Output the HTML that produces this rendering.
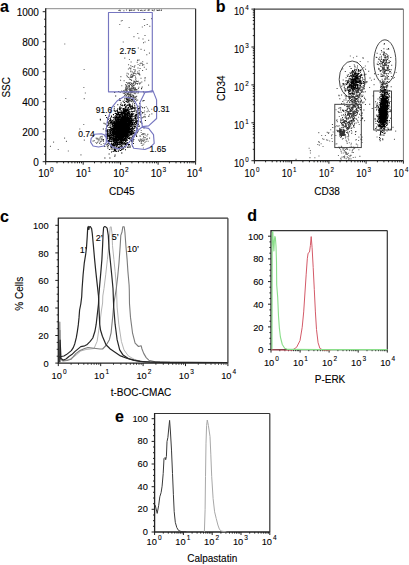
<!DOCTYPE html>
<html><head><meta charset="utf-8"><style>
html,body{margin:0;padding:0;background:#fff;}
svg{display:block;font-family:"Liberation Sans", sans-serif;}
text{fill:#000;stroke:#000;stroke-width:0.1px;}
</style></head><body>
<svg width="409" height="565" viewBox="0 0 409 565">
<rect width="409" height="565" fill="#fff"/>
<path d="M119.8 130.9h1.0v1.0h-1.0zM122.4 120.7h1.0v1.0h-1.0zM121.9 119.5h1.0v1.0h-1.0zM116.7 139.6h1.0v1.0h-1.0zM120.5 122.5h1.0v1.0h-1.0zM122.0 132.4h1.0v1.0h-1.0zM124.4 121.1h1.0v1.0h-1.0zM118.4 134.1h1.0v1.0h-1.0zM115.8 122.1h1.0v1.0h-1.0zM115.9 114.3h1.0v1.0h-1.0zM112.7 123.0h1.0v1.0h-1.0zM113.8 128.2h1.0v1.0h-1.0zM122.2 127.3h1.0v1.0h-1.0zM110.4 119.2h1.0v1.0h-1.0zM120.2 129.3h1.0v1.0h-1.0zM115.0 121.6h1.0v1.0h-1.0zM118.7 120.0h1.0v1.0h-1.0zM128.6 124.0h1.0v1.0h-1.0zM117.7 135.7h1.0v1.0h-1.0zM118.4 126.5h1.0v1.0h-1.0zM121.1 129.2h1.0v1.0h-1.0zM114.6 126.7h1.0v1.0h-1.0zM132.5 118.5h1.0v1.0h-1.0zM124.5 131.1h1.0v1.0h-1.0zM111.1 143.6h1.0v1.0h-1.0zM128.4 120.2h1.0v1.0h-1.0zM119.3 133.4h1.0v1.0h-1.0zM117.6 133.7h1.0v1.0h-1.0zM118.3 133.8h1.0v1.0h-1.0zM130.0 125.8h1.0v1.0h-1.0zM123.3 125.1h1.0v1.0h-1.0zM125.3 119.1h1.0v1.0h-1.0zM118.7 125.8h1.0v1.0h-1.0zM121.4 139.6h1.0v1.0h-1.0zM117.0 119.4h1.0v1.0h-1.0zM130.5 113.5h1.0v1.0h-1.0zM118.9 126.8h1.0v1.0h-1.0zM124.6 136.6h1.0v1.0h-1.0zM120.4 124.9h1.0v1.0h-1.0zM114.6 140.4h1.0v1.0h-1.0zM119.7 125.2h1.0v1.0h-1.0zM122.9 128.2h1.0v1.0h-1.0zM123.5 119.0h1.0v1.0h-1.0zM122.2 124.9h1.0v1.0h-1.0zM124.3 136.1h1.0v1.0h-1.0zM118.5 133.9h1.0v1.0h-1.0zM115.7 136.4h1.0v1.0h-1.0zM118.9 133.2h1.0v1.0h-1.0zM113.4 128.8h1.0v1.0h-1.0zM119.4 108.6h1.0v1.0h-1.0zM122.3 120.6h1.0v1.0h-1.0zM114.2 147.1h1.0v1.0h-1.0zM118.8 121.8h1.0v1.0h-1.0zM120.2 132.9h1.0v1.0h-1.0zM120.6 126.5h1.0v1.0h-1.0zM122.5 134.1h1.0v1.0h-1.0zM116.1 125.8h1.0v1.0h-1.0zM124.4 120.0h1.0v1.0h-1.0zM124.9 122.0h1.0v1.0h-1.0zM124.9 132.0h1.0v1.0h-1.0zM123.2 123.9h1.0v1.0h-1.0zM126.8 112.0h1.0v1.0h-1.0zM114.1 129.3h1.0v1.0h-1.0zM107.7 131.3h1.0v1.0h-1.0zM109.9 131.3h1.0v1.0h-1.0zM114.2 133.2h1.0v1.0h-1.0zM126.5 116.2h1.0v1.0h-1.0zM122.1 142.7h1.0v1.0h-1.0zM121.4 126.1h1.0v1.0h-1.0zM123.2 120.2h1.0v1.0h-1.0zM127.9 126.2h1.0v1.0h-1.0zM123.2 121.9h1.0v1.0h-1.0zM122.0 116.9h1.0v1.0h-1.0zM127.4 129.7h1.0v1.0h-1.0zM125.4 130.5h1.0v1.0h-1.0zM118.5 124.5h1.0v1.0h-1.0zM118.1 127.5h1.0v1.0h-1.0zM120.0 125.3h1.0v1.0h-1.0zM116.8 119.2h1.0v1.0h-1.0zM131.0 126.2h1.0v1.0h-1.0zM114.6 129.2h1.0v1.0h-1.0zM132.4 119.4h1.0v1.0h-1.0zM121.9 122.9h1.0v1.0h-1.0zM109.9 131.1h1.0v1.0h-1.0zM120.5 129.0h1.0v1.0h-1.0zM115.7 130.7h1.0v1.0h-1.0zM118.7 126.3h1.0v1.0h-1.0zM119.5 116.4h1.0v1.0h-1.0zM128.9 127.0h1.0v1.0h-1.0zM122.3 128.8h1.0v1.0h-1.0zM120.3 123.5h1.0v1.0h-1.0zM124.8 127.3h1.0v1.0h-1.0zM120.0 128.4h1.0v1.0h-1.0zM124.2 136.3h1.0v1.0h-1.0zM124.5 124.6h1.0v1.0h-1.0zM111.0 133.6h1.0v1.0h-1.0zM125.9 129.2h1.0v1.0h-1.0zM120.8 135.9h1.0v1.0h-1.0zM121.8 137.6h1.0v1.0h-1.0zM113.6 140.0h1.0v1.0h-1.0zM111.9 133.1h1.0v1.0h-1.0zM120.3 136.6h1.0v1.0h-1.0zM125.0 144.3h1.0v1.0h-1.0zM120.8 112.5h1.0v1.0h-1.0zM128.1 121.8h1.0v1.0h-1.0zM118.0 135.3h1.0v1.0h-1.0zM119.8 108.1h1.0v1.0h-1.0zM121.9 129.4h1.0v1.0h-1.0zM119.5 128.3h1.0v1.0h-1.0zM121.6 114.5h1.0v1.0h-1.0zM123.2 120.2h1.0v1.0h-1.0zM111.2 129.4h1.0v1.0h-1.0zM119.2 131.7h1.0v1.0h-1.0zM118.2 121.2h1.0v1.0h-1.0zM118.9 119.3h1.0v1.0h-1.0zM124.3 122.5h1.0v1.0h-1.0zM121.4 132.0h1.0v1.0h-1.0zM135.2 121.1h1.0v1.0h-1.0zM125.4 129.5h1.0v1.0h-1.0zM125.5 116.6h1.0v1.0h-1.0zM116.1 133.7h1.0v1.0h-1.0zM120.1 129.0h1.0v1.0h-1.0zM115.6 137.4h1.0v1.0h-1.0zM128.0 110.5h1.0v1.0h-1.0zM124.0 111.1h1.0v1.0h-1.0zM106.9 117.8h1.0v1.0h-1.0zM127.1 131.5h1.0v1.0h-1.0zM118.2 118.5h1.0v1.0h-1.0zM125.7 132.0h1.0v1.0h-1.0zM121.2 128.2h1.0v1.0h-1.0zM118.3 135.1h1.0v1.0h-1.0zM122.8 131.3h1.0v1.0h-1.0zM114.1 130.6h1.0v1.0h-1.0zM113.9 136.1h1.0v1.0h-1.0zM115.1 124.9h1.0v1.0h-1.0zM125.1 117.7h1.0v1.0h-1.0zM124.3 143.8h1.0v1.0h-1.0zM116.0 133.9h1.0v1.0h-1.0zM131.2 107.9h1.0v1.0h-1.0zM122.2 128.5h1.0v1.0h-1.0zM124.8 119.9h1.0v1.0h-1.0zM120.1 126.5h1.0v1.0h-1.0zM125.4 133.5h1.0v1.0h-1.0zM115.7 141.0h1.0v1.0h-1.0zM119.4 124.2h1.0v1.0h-1.0zM106.9 137.8h1.0v1.0h-1.0zM122.4 137.9h1.0v1.0h-1.0zM123.7 130.7h1.0v1.0h-1.0zM122.7 126.9h1.0v1.0h-1.0zM119.6 128.5h1.0v1.0h-1.0zM126.3 136.0h1.0v1.0h-1.0zM122.4 123.7h1.0v1.0h-1.0zM112.5 140.3h1.0v1.0h-1.0zM123.0 130.0h1.0v1.0h-1.0zM122.8 118.8h1.0v1.0h-1.0zM117.6 135.5h1.0v1.0h-1.0zM119.7 125.9h1.0v1.0h-1.0zM119.4 129.0h1.0v1.0h-1.0zM113.9 123.5h1.0v1.0h-1.0zM113.8 134.1h1.0v1.0h-1.0zM115.2 131.7h1.0v1.0h-1.0zM129.2 128.9h1.0v1.0h-1.0zM117.3 128.9h1.0v1.0h-1.0zM124.1 120.4h1.0v1.0h-1.0zM116.4 145.8h1.0v1.0h-1.0zM120.2 126.3h1.0v1.0h-1.0zM114.7 129.1h1.0v1.0h-1.0zM118.4 117.0h1.0v1.0h-1.0zM130.0 123.6h1.0v1.0h-1.0zM121.0 143.0h1.0v1.0h-1.0zM120.2 133.5h1.0v1.0h-1.0zM130.9 130.7h1.0v1.0h-1.0zM122.4 116.3h1.0v1.0h-1.0zM116.1 140.6h1.0v1.0h-1.0zM128.5 122.7h1.0v1.0h-1.0zM118.3 122.7h1.0v1.0h-1.0zM122.9 127.4h1.0v1.0h-1.0zM120.9 131.3h1.0v1.0h-1.0zM119.5 127.6h1.0v1.0h-1.0zM122.1 128.2h1.0v1.0h-1.0zM117.1 144.7h1.0v1.0h-1.0zM123.5 130.1h1.0v1.0h-1.0zM111.4 128.4h1.0v1.0h-1.0zM116.1 113.2h1.0v1.0h-1.0zM122.6 135.9h1.0v1.0h-1.0zM125.7 114.3h1.0v1.0h-1.0zM121.2 122.2h1.0v1.0h-1.0zM116.4 148.2h1.0v1.0h-1.0zM124.4 122.6h1.0v1.0h-1.0zM115.3 125.8h1.0v1.0h-1.0zM123.7 118.8h1.0v1.0h-1.0zM125.2 119.3h1.0v1.0h-1.0zM122.7 139.3h1.0v1.0h-1.0zM127.6 126.7h1.0v1.0h-1.0zM123.7 128.4h1.0v1.0h-1.0zM120.0 125.0h1.0v1.0h-1.0zM119.3 114.2h1.0v1.0h-1.0zM125.3 128.5h1.0v1.0h-1.0zM118.5 137.1h1.0v1.0h-1.0zM115.0 118.7h1.0v1.0h-1.0zM120.4 132.0h1.0v1.0h-1.0zM115.6 136.2h1.0v1.0h-1.0zM125.8 119.0h1.0v1.0h-1.0zM113.7 133.3h1.0v1.0h-1.0zM129.3 113.9h1.0v1.0h-1.0zM125.3 136.0h1.0v1.0h-1.0zM128.5 128.0h1.0v1.0h-1.0zM123.1 118.7h1.0v1.0h-1.0zM133.6 132.0h1.0v1.0h-1.0zM130.6 126.3h1.0v1.0h-1.0zM127.1 115.2h1.0v1.0h-1.0zM115.7 135.8h1.0v1.0h-1.0zM111.2 134.8h1.0v1.0h-1.0zM125.9 120.6h1.0v1.0h-1.0zM119.9 123.8h1.0v1.0h-1.0zM122.3 124.0h1.0v1.0h-1.0zM117.8 124.4h1.0v1.0h-1.0zM120.1 116.0h1.0v1.0h-1.0zM117.7 135.6h1.0v1.0h-1.0zM113.4 125.5h1.0v1.0h-1.0zM120.9 119.3h1.0v1.0h-1.0zM126.6 125.9h1.0v1.0h-1.0zM130.6 125.1h1.0v1.0h-1.0zM123.4 127.4h1.0v1.0h-1.0zM115.2 131.8h1.0v1.0h-1.0zM118.1 133.1h1.0v1.0h-1.0zM124.2 119.5h1.0v1.0h-1.0zM120.1 128.7h1.0v1.0h-1.0zM128.4 123.0h1.0v1.0h-1.0zM126.3 114.4h1.0v1.0h-1.0zM127.5 120.9h1.0v1.0h-1.0zM112.3 124.5h1.0v1.0h-1.0zM131.2 118.2h1.0v1.0h-1.0zM118.0 120.3h1.0v1.0h-1.0zM114.1 129.4h1.0v1.0h-1.0zM119.3 121.0h1.0v1.0h-1.0zM126.1 123.5h1.0v1.0h-1.0zM126.1 121.4h1.0v1.0h-1.0zM121.0 111.2h1.0v1.0h-1.0zM130.8 129.5h1.0v1.0h-1.0zM122.1 128.7h1.0v1.0h-1.0zM121.4 129.2h1.0v1.0h-1.0zM133.4 123.7h1.0v1.0h-1.0zM116.6 117.2h1.0v1.0h-1.0zM111.9 132.0h1.0v1.0h-1.0zM127.9 122.3h1.0v1.0h-1.0zM115.3 122.9h1.0v1.0h-1.0zM136.8 108.2h1.0v1.0h-1.0zM126.9 120.7h1.0v1.0h-1.0zM129.4 121.7h1.0v1.0h-1.0zM124.4 115.7h1.0v1.0h-1.0zM111.5 137.9h1.0v1.0h-1.0zM126.1 126.8h1.0v1.0h-1.0zM122.8 111.4h1.0v1.0h-1.0zM119.0 127.5h1.0v1.0h-1.0zM120.7 127.6h1.0v1.0h-1.0zM115.6 125.8h1.0v1.0h-1.0zM116.4 139.0h1.0v1.0h-1.0zM130.3 131.0h1.0v1.0h-1.0zM117.3 126.5h1.0v1.0h-1.0zM120.3 121.3h1.0v1.0h-1.0zM124.0 119.9h1.0v1.0h-1.0zM124.1 128.8h1.0v1.0h-1.0zM122.6 127.5h1.0v1.0h-1.0zM120.4 119.3h1.0v1.0h-1.0zM121.5 123.6h1.0v1.0h-1.0zM121.9 128.9h1.0v1.0h-1.0zM114.0 126.4h1.0v1.0h-1.0zM116.4 120.9h1.0v1.0h-1.0zM126.2 111.0h1.0v1.0h-1.0zM120.7 129.9h1.0v1.0h-1.0zM121.4 124.7h1.0v1.0h-1.0zM122.2 119.8h1.0v1.0h-1.0zM121.3 123.5h1.0v1.0h-1.0zM125.2 118.9h1.0v1.0h-1.0zM121.5 130.1h1.0v1.0h-1.0zM121.6 124.6h1.0v1.0h-1.0zM129.0 116.0h1.0v1.0h-1.0zM122.2 131.4h1.0v1.0h-1.0zM120.9 132.2h1.0v1.0h-1.0zM118.5 125.1h1.0v1.0h-1.0zM122.5 133.3h1.0v1.0h-1.0zM126.8 116.5h1.0v1.0h-1.0zM119.5 139.1h1.0v1.0h-1.0zM124.9 132.4h1.0v1.0h-1.0zM110.2 133.2h1.0v1.0h-1.0zM128.4 107.5h1.0v1.0h-1.0zM127.5 117.1h1.0v1.0h-1.0zM116.6 120.8h1.0v1.0h-1.0zM128.2 128.0h1.0v1.0h-1.0zM116.3 143.3h1.0v1.0h-1.0zM128.8 130.8h1.0v1.0h-1.0zM123.8 117.7h1.0v1.0h-1.0zM116.0 130.6h1.0v1.0h-1.0zM122.3 130.2h1.0v1.0h-1.0zM128.1 124.1h1.0v1.0h-1.0zM118.1 134.4h1.0v1.0h-1.0zM120.1 138.4h1.0v1.0h-1.0zM123.7 126.7h1.0v1.0h-1.0zM125.9 121.0h1.0v1.0h-1.0zM111.0 130.0h1.0v1.0h-1.0zM119.5 130.9h1.0v1.0h-1.0zM113.8 122.2h1.0v1.0h-1.0zM120.8 120.3h1.0v1.0h-1.0zM111.0 121.4h1.0v1.0h-1.0zM123.9 133.4h1.0v1.0h-1.0zM118.0 127.2h1.0v1.0h-1.0zM133.5 107.5h1.0v1.0h-1.0zM118.4 132.7h1.0v1.0h-1.0zM118.5 143.7h1.0v1.0h-1.0zM125.2 133.3h1.0v1.0h-1.0zM119.7 135.5h1.0v1.0h-1.0zM118.3 127.1h1.0v1.0h-1.0zM118.7 146.2h1.0v1.0h-1.0zM120.2 127.8h1.0v1.0h-1.0zM117.3 139.8h1.0v1.0h-1.0zM115.8 140.4h1.0v1.0h-1.0zM116.8 125.1h1.0v1.0h-1.0zM117.3 134.5h1.0v1.0h-1.0zM130.8 118.2h1.0v1.0h-1.0zM115.3 129.5h1.0v1.0h-1.0zM122.6 114.8h1.0v1.0h-1.0zM124.2 134.6h1.0v1.0h-1.0zM124.7 125.6h1.0v1.0h-1.0zM126.6 128.5h1.0v1.0h-1.0zM129.1 123.2h1.0v1.0h-1.0zM116.0 128.5h1.0v1.0h-1.0zM115.2 132.6h1.0v1.0h-1.0zM125.1 121.5h1.0v1.0h-1.0zM122.3 125.8h1.0v1.0h-1.0zM127.3 125.1h1.0v1.0h-1.0zM114.7 137.5h1.0v1.0h-1.0zM125.0 149.2h1.0v1.0h-1.0zM120.4 130.4h1.0v1.0h-1.0zM128.6 130.5h1.0v1.0h-1.0zM115.7 127.6h1.0v1.0h-1.0zM125.7 122.6h1.0v1.0h-1.0zM117.6 113.6h1.0v1.0h-1.0zM126.5 123.6h1.0v1.0h-1.0zM119.4 130.0h1.0v1.0h-1.0zM124.9 127.0h1.0v1.0h-1.0zM126.1 122.2h1.0v1.0h-1.0zM122.4 119.4h1.0v1.0h-1.0zM126.3 130.5h1.0v1.0h-1.0zM118.4 124.2h1.0v1.0h-1.0zM117.4 133.8h1.0v1.0h-1.0zM116.5 116.9h1.0v1.0h-1.0zM110.6 148.4h1.0v1.0h-1.0zM125.8 129.5h1.0v1.0h-1.0zM117.5 146.7h1.0v1.0h-1.0zM120.9 125.1h1.0v1.0h-1.0zM125.0 134.9h1.0v1.0h-1.0zM125.7 125.7h1.0v1.0h-1.0zM124.4 146.2h1.0v1.0h-1.0zM121.3 135.2h1.0v1.0h-1.0zM108.9 129.8h1.0v1.0h-1.0zM118.4 131.7h1.0v1.0h-1.0zM125.2 127.0h1.0v1.0h-1.0zM111.4 128.2h1.0v1.0h-1.0zM118.3 124.4h1.0v1.0h-1.0zM119.0 124.5h1.0v1.0h-1.0zM105.7 133.9h1.0v1.0h-1.0zM118.4 138.1h1.0v1.0h-1.0zM130.3 132.5h1.0v1.0h-1.0zM115.1 117.7h1.0v1.0h-1.0zM116.6 122.1h1.0v1.0h-1.0zM127.8 112.3h1.0v1.0h-1.0zM127.4 116.8h1.0v1.0h-1.0zM122.6 128.2h1.0v1.0h-1.0zM119.5 127.3h1.0v1.0h-1.0zM120.2 122.5h1.0v1.0h-1.0zM112.8 125.0h1.0v1.0h-1.0zM123.2 148.3h1.0v1.0h-1.0zM124.8 136.8h1.0v1.0h-1.0zM112.8 139.0h1.0v1.0h-1.0zM120.8 127.8h1.0v1.0h-1.0zM119.1 128.7h1.0v1.0h-1.0zM119.0 127.0h1.0v1.0h-1.0zM116.8 123.3h1.0v1.0h-1.0zM132.0 132.4h1.0v1.0h-1.0zM117.9 132.4h1.0v1.0h-1.0zM127.9 120.8h1.0v1.0h-1.0zM116.8 135.6h1.0v1.0h-1.0zM121.7 130.0h1.0v1.0h-1.0zM130.5 126.0h1.0v1.0h-1.0zM122.9 124.4h1.0v1.0h-1.0zM134.4 115.5h1.0v1.0h-1.0zM119.3 122.9h1.0v1.0h-1.0zM122.0 134.7h1.0v1.0h-1.0zM132.7 118.4h1.0v1.0h-1.0zM125.4 127.6h1.0v1.0h-1.0zM115.8 131.6h1.0v1.0h-1.0zM123.2 109.8h1.0v1.0h-1.0zM124.0 115.6h1.0v1.0h-1.0zM116.4 130.3h1.0v1.0h-1.0zM117.1 142.1h1.0v1.0h-1.0zM124.9 115.6h1.0v1.0h-1.0zM120.2 119.5h1.0v1.0h-1.0zM113.5 129.7h1.0v1.0h-1.0zM124.2 111.1h1.0v1.0h-1.0zM124.5 128.9h1.0v1.0h-1.0zM122.2 130.1h1.0v1.0h-1.0zM123.7 130.0h1.0v1.0h-1.0zM125.4 134.4h1.0v1.0h-1.0zM121.3 132.6h1.0v1.0h-1.0zM114.3 124.3h1.0v1.0h-1.0zM118.9 129.7h1.0v1.0h-1.0zM108.9 139.2h1.0v1.0h-1.0zM125.3 118.8h1.0v1.0h-1.0zM113.5 122.9h1.0v1.0h-1.0zM122.7 122.5h1.0v1.0h-1.0zM123.4 123.4h1.0v1.0h-1.0zM125.8 123.7h1.0v1.0h-1.0zM117.4 136.4h1.0v1.0h-1.0zM136.5 125.3h1.0v1.0h-1.0zM121.3 120.7h1.0v1.0h-1.0zM128.4 120.7h1.0v1.0h-1.0zM118.6 127.3h1.0v1.0h-1.0zM119.2 118.8h1.0v1.0h-1.0zM125.4 110.4h1.0v1.0h-1.0zM115.2 122.3h1.0v1.0h-1.0zM122.1 127.3h1.0v1.0h-1.0zM113.8 121.3h1.0v1.0h-1.0zM122.8 134.6h1.0v1.0h-1.0zM123.3 121.1h1.0v1.0h-1.0zM125.8 125.0h1.0v1.0h-1.0zM117.8 119.7h1.0v1.0h-1.0zM127.1 133.1h1.0v1.0h-1.0zM128.0 126.8h1.0v1.0h-1.0zM127.3 125.4h1.0v1.0h-1.0zM111.8 148.5h1.0v1.0h-1.0zM126.2 125.9h1.0v1.0h-1.0zM119.3 131.0h1.0v1.0h-1.0zM128.2 126.9h1.0v1.0h-1.0zM113.3 122.8h1.0v1.0h-1.0zM120.5 129.4h1.0v1.0h-1.0zM126.1 133.6h1.0v1.0h-1.0zM128.3 121.1h1.0v1.0h-1.0zM118.1 147.3h1.0v1.0h-1.0zM123.7 132.1h1.0v1.0h-1.0zM115.7 143.4h1.0v1.0h-1.0zM116.7 125.8h1.0v1.0h-1.0zM120.6 135.5h1.0v1.0h-1.0zM117.7 130.2h1.0v1.0h-1.0zM119.1 128.9h1.0v1.0h-1.0zM123.9 118.9h1.0v1.0h-1.0zM117.8 135.6h1.0v1.0h-1.0zM116.9 124.6h1.0v1.0h-1.0zM127.5 121.1h1.0v1.0h-1.0zM125.2 120.2h1.0v1.0h-1.0zM118.6 149.6h1.0v1.0h-1.0zM131.3 130.7h1.0v1.0h-1.0zM124.0 130.9h1.0v1.0h-1.0zM116.2 141.3h1.0v1.0h-1.0zM111.0 134.5h1.0v1.0h-1.0zM115.9 139.9h1.0v1.0h-1.0zM123.9 123.4h1.0v1.0h-1.0zM119.7 135.0h1.0v1.0h-1.0zM119.4 132.6h1.0v1.0h-1.0zM125.3 110.1h1.0v1.0h-1.0zM122.8 136.0h1.0v1.0h-1.0zM121.3 129.3h1.0v1.0h-1.0zM127.3 126.8h1.0v1.0h-1.0zM118.0 125.6h1.0v1.0h-1.0zM131.1 119.5h1.0v1.0h-1.0zM128.7 125.6h1.0v1.0h-1.0zM111.3 136.6h1.0v1.0h-1.0zM124.6 117.7h1.0v1.0h-1.0zM116.0 135.4h1.0v1.0h-1.0zM128.0 127.3h1.0v1.0h-1.0zM120.4 135.1h1.0v1.0h-1.0zM116.5 130.1h1.0v1.0h-1.0zM122.4 124.1h1.0v1.0h-1.0zM118.2 128.1h1.0v1.0h-1.0zM122.8 123.9h1.0v1.0h-1.0zM115.1 136.8h1.0v1.0h-1.0zM118.9 136.1h1.0v1.0h-1.0zM124.7 135.6h1.0v1.0h-1.0zM134.5 126.2h1.0v1.0h-1.0zM125.7 127.5h1.0v1.0h-1.0zM124.1 146.0h1.0v1.0h-1.0zM114.6 116.8h1.0v1.0h-1.0zM121.4 136.2h1.0v1.0h-1.0zM124.6 129.4h1.0v1.0h-1.0zM120.8 134.7h1.0v1.0h-1.0zM117.0 136.7h1.0v1.0h-1.0zM107.8 129.3h1.0v1.0h-1.0zM112.7 134.3h1.0v1.0h-1.0zM122.6 120.8h1.0v1.0h-1.0zM125.6 121.8h1.0v1.0h-1.0zM121.6 113.9h1.0v1.0h-1.0zM119.0 132.5h1.0v1.0h-1.0zM126.2 129.3h1.0v1.0h-1.0zM125.8 130.7h1.0v1.0h-1.0zM118.5 133.0h1.0v1.0h-1.0zM127.0 127.8h1.0v1.0h-1.0zM120.2 126.7h1.0v1.0h-1.0zM124.2 121.3h1.0v1.0h-1.0zM127.1 127.2h1.0v1.0h-1.0zM125.8 122.7h1.0v1.0h-1.0zM121.2 132.4h1.0v1.0h-1.0zM112.1 144.2h1.0v1.0h-1.0zM116.7 143.7h1.0v1.0h-1.0zM127.6 125.0h1.0v1.0h-1.0zM117.5 131.3h1.0v1.0h-1.0zM120.9 129.0h1.0v1.0h-1.0zM125.4 113.2h1.0v1.0h-1.0zM127.0 110.0h1.0v1.0h-1.0zM125.0 123.3h1.0v1.0h-1.0zM118.1 125.3h1.0v1.0h-1.0zM126.8 117.3h1.0v1.0h-1.0zM115.9 116.4h1.0v1.0h-1.0zM114.1 116.6h1.0v1.0h-1.0zM132.0 123.0h1.0v1.0h-1.0zM128.5 118.6h1.0v1.0h-1.0zM123.3 126.5h1.0v1.0h-1.0zM118.6 133.0h1.0v1.0h-1.0zM128.6 133.5h1.0v1.0h-1.0zM124.6 120.8h1.0v1.0h-1.0zM124.4 127.6h1.0v1.0h-1.0zM125.0 129.8h1.0v1.0h-1.0zM135.7 115.7h1.0v1.0h-1.0zM116.5 135.1h1.0v1.0h-1.0zM121.7 121.4h1.0v1.0h-1.0zM124.1 116.7h1.0v1.0h-1.0zM113.3 148.6h1.0v1.0h-1.0zM130.0 121.7h1.0v1.0h-1.0zM117.9 123.5h1.0v1.0h-1.0zM128.4 123.8h1.0v1.0h-1.0zM114.6 134.4h1.0v1.0h-1.0zM126.2 127.1h1.0v1.0h-1.0zM120.5 113.7h1.0v1.0h-1.0zM124.8 108.9h1.0v1.0h-1.0zM126.5 124.8h1.0v1.0h-1.0zM117.0 144.7h1.0v1.0h-1.0zM130.3 121.4h1.0v1.0h-1.0zM121.2 139.6h1.0v1.0h-1.0zM120.3 119.3h1.0v1.0h-1.0zM125.6 115.2h1.0v1.0h-1.0zM135.8 111.7h1.0v1.0h-1.0zM116.4 124.1h1.0v1.0h-1.0zM119.2 129.4h1.0v1.0h-1.0zM122.8 127.3h1.0v1.0h-1.0zM133.3 113.3h1.0v1.0h-1.0zM123.2 122.7h1.0v1.0h-1.0zM120.7 130.6h1.0v1.0h-1.0zM118.5 121.5h1.0v1.0h-1.0zM123.5 132.9h1.0v1.0h-1.0zM110.8 143.8h1.0v1.0h-1.0zM136.8 121.1h1.0v1.0h-1.0zM114.0 149.6h1.0v1.0h-1.0zM123.9 131.8h1.0v1.0h-1.0zM121.6 123.7h1.0v1.0h-1.0zM121.6 123.6h1.0v1.0h-1.0zM125.7 126.7h1.0v1.0h-1.0zM122.6 117.8h1.0v1.0h-1.0zM123.5 121.1h1.0v1.0h-1.0zM116.5 136.6h1.0v1.0h-1.0zM120.9 133.3h1.0v1.0h-1.0zM122.3 129.7h1.0v1.0h-1.0zM121.2 125.7h1.0v1.0h-1.0zM128.0 121.1h1.0v1.0h-1.0zM127.2 131.4h1.0v1.0h-1.0zM118.8 123.1h1.0v1.0h-1.0zM117.0 128.5h1.0v1.0h-1.0zM113.6 136.4h1.0v1.0h-1.0zM124.5 108.4h1.0v1.0h-1.0zM123.9 110.7h1.0v1.0h-1.0zM117.1 137.1h1.0v1.0h-1.0zM128.3 118.8h1.0v1.0h-1.0zM111.3 141.5h1.0v1.0h-1.0zM122.3 129.2h1.0v1.0h-1.0zM117.8 150.6h1.0v1.0h-1.0zM126.6 132.2h1.0v1.0h-1.0zM120.5 134.2h1.0v1.0h-1.0zM121.3 118.7h1.0v1.0h-1.0zM124.2 120.9h1.0v1.0h-1.0zM120.2 129.2h1.0v1.0h-1.0zM134.9 126.1h1.0v1.0h-1.0zM120.8 126.9h1.0v1.0h-1.0zM119.5 137.9h1.0v1.0h-1.0zM121.1 120.8h1.0v1.0h-1.0zM115.9 117.7h1.0v1.0h-1.0zM123.2 129.9h1.0v1.0h-1.0zM117.1 123.5h1.0v1.0h-1.0zM119.3 132.7h1.0v1.0h-1.0zM118.8 125.3h1.0v1.0h-1.0zM115.8 115.6h1.0v1.0h-1.0zM135.8 113.8h1.0v1.0h-1.0zM118.4 129.6h1.0v1.0h-1.0zM121.7 121.2h1.0v1.0h-1.0zM120.5 128.3h1.0v1.0h-1.0zM126.6 113.0h1.0v1.0h-1.0zM122.9 121.2h1.0v1.0h-1.0zM117.4 129.3h1.0v1.0h-1.0zM120.9 137.1h1.0v1.0h-1.0zM115.4 135.1h1.0v1.0h-1.0zM122.7 140.1h1.0v1.0h-1.0zM128.0 130.0h1.0v1.0h-1.0zM117.2 134.9h1.0v1.0h-1.0zM113.5 127.5h1.0v1.0h-1.0zM119.5 124.5h1.0v1.0h-1.0zM115.3 117.8h1.0v1.0h-1.0zM117.8 135.7h1.0v1.0h-1.0zM125.8 129.8h1.0v1.0h-1.0zM122.6 121.4h1.0v1.0h-1.0zM123.6 127.3h1.0v1.0h-1.0zM117.9 144.0h1.0v1.0h-1.0zM125.6 116.2h1.0v1.0h-1.0zM121.5 114.9h1.0v1.0h-1.0zM110.7 136.8h1.0v1.0h-1.0zM126.9 116.5h1.0v1.0h-1.0zM119.8 140.1h1.0v1.0h-1.0zM121.3 122.3h1.0v1.0h-1.0zM118.2 130.2h1.0v1.0h-1.0zM120.0 139.4h1.0v1.0h-1.0zM122.7 140.5h1.0v1.0h-1.0zM125.2 136.5h1.0v1.0h-1.0zM113.9 124.4h1.0v1.0h-1.0zM123.6 126.0h1.0v1.0h-1.0zM126.4 127.3h1.0v1.0h-1.0zM111.6 138.5h1.0v1.0h-1.0zM123.3 131.6h1.0v1.0h-1.0zM121.8 139.0h1.0v1.0h-1.0zM130.5 109.1h1.0v1.0h-1.0zM119.0 123.5h1.0v1.0h-1.0zM115.4 128.2h1.0v1.0h-1.0zM128.1 126.9h1.0v1.0h-1.0zM108.6 142.8h1.0v1.0h-1.0zM122.7 117.6h1.0v1.0h-1.0zM120.5 132.4h1.0v1.0h-1.0zM114.8 133.6h1.0v1.0h-1.0zM121.5 120.0h1.0v1.0h-1.0zM119.1 135.1h1.0v1.0h-1.0zM116.7 130.0h1.0v1.0h-1.0zM111.0 151.4h1.0v1.0h-1.0zM112.8 138.4h1.0v1.0h-1.0zM121.0 127.4h1.0v1.0h-1.0zM121.3 137.2h1.0v1.0h-1.0zM125.8 133.6h1.0v1.0h-1.0zM119.7 122.9h1.0v1.0h-1.0zM121.3 134.2h1.0v1.0h-1.0zM126.2 134.6h1.0v1.0h-1.0zM120.9 142.9h1.0v1.0h-1.0zM126.5 116.7h1.0v1.0h-1.0zM119.9 114.5h1.0v1.0h-1.0zM131.3 124.7h1.0v1.0h-1.0zM124.8 135.7h1.0v1.0h-1.0zM125.8 140.0h1.0v1.0h-1.0zM121.0 126.7h1.0v1.0h-1.0zM120.6 130.1h1.0v1.0h-1.0zM118.3 127.2h1.0v1.0h-1.0zM134.2 117.7h1.0v1.0h-1.0zM125.0 121.6h1.0v1.0h-1.0zM118.9 135.7h1.0v1.0h-1.0zM118.0 134.7h1.0v1.0h-1.0zM109.5 134.4h1.0v1.0h-1.0zM115.8 132.4h1.0v1.0h-1.0zM130.2 107.8h1.0v1.0h-1.0zM116.4 128.8h1.0v1.0h-1.0zM127.3 133.9h1.0v1.0h-1.0zM126.7 117.5h1.0v1.0h-1.0zM121.7 146.0h1.0v1.0h-1.0zM121.7 126.8h1.0v1.0h-1.0zM110.1 132.6h1.0v1.0h-1.0zM131.5 139.6h1.0v1.0h-1.0zM125.1 135.4h1.0v1.0h-1.0zM111.6 137.5h1.0v1.0h-1.0zM115.5 124.4h1.0v1.0h-1.0zM119.2 136.2h1.0v1.0h-1.0zM121.5 132.5h1.0v1.0h-1.0zM121.4 116.5h1.0v1.0h-1.0zM123.4 122.8h1.0v1.0h-1.0zM118.7 115.6h1.0v1.0h-1.0zM124.5 112.4h1.0v1.0h-1.0zM119.7 112.5h1.0v1.0h-1.0zM120.3 132.2h1.0v1.0h-1.0zM135.4 120.2h1.0v1.0h-1.0zM114.5 134.6h1.0v1.0h-1.0zM120.8 125.4h1.0v1.0h-1.0zM130.2 129.1h1.0v1.0h-1.0zM119.6 115.5h1.0v1.0h-1.0zM121.4 131.6h1.0v1.0h-1.0zM117.4 117.8h1.0v1.0h-1.0zM121.5 134.3h1.0v1.0h-1.0zM115.6 132.3h1.0v1.0h-1.0zM129.4 115.1h1.0v1.0h-1.0zM117.9 131.3h1.0v1.0h-1.0zM125.1 109.9h1.0v1.0h-1.0zM117.0 134.1h1.0v1.0h-1.0zM135.6 113.7h1.0v1.0h-1.0zM137.1 124.4h1.0v1.0h-1.0zM121.3 140.4h1.0v1.0h-1.0zM125.0 131.6h1.0v1.0h-1.0zM113.1 131.3h1.0v1.0h-1.0zM125.7 106.5h1.0v1.0h-1.0zM132.1 139.8h1.0v1.0h-1.0zM132.6 124.6h1.0v1.0h-1.0zM122.6 144.3h1.0v1.0h-1.0zM128.4 131.4h1.0v1.0h-1.0zM115.6 124.7h1.0v1.0h-1.0zM115.8 110.3h1.0v1.0h-1.0zM124.5 120.6h1.0v1.0h-1.0zM120.4 127.3h1.0v1.0h-1.0zM125.8 142.8h1.0v1.0h-1.0zM116.6 138.3h1.0v1.0h-1.0zM118.2 124.2h1.0v1.0h-1.0zM129.3 120.1h1.0v1.0h-1.0zM123.8 117.2h1.0v1.0h-1.0zM116.0 142.0h1.0v1.0h-1.0zM116.4 128.9h1.0v1.0h-1.0zM120.3 117.4h1.0v1.0h-1.0zM110.0 138.0h1.0v1.0h-1.0zM130.6 137.0h1.0v1.0h-1.0zM115.0 132.9h1.0v1.0h-1.0zM116.5 134.4h1.0v1.0h-1.0zM121.3 131.3h1.0v1.0h-1.0zM125.6 125.0h1.0v1.0h-1.0zM124.5 113.7h1.0v1.0h-1.0zM123.4 116.0h1.0v1.0h-1.0zM123.3 120.4h1.0v1.0h-1.0zM119.8 132.4h1.0v1.0h-1.0zM116.6 119.1h1.0v1.0h-1.0zM113.8 132.8h1.0v1.0h-1.0zM126.2 138.8h1.0v1.0h-1.0zM114.3 139.8h1.0v1.0h-1.0zM108.6 137.8h1.0v1.0h-1.0zM126.8 104.5h1.0v1.0h-1.0zM128.4 146.5h1.0v1.0h-1.0zM115.3 127.9h1.0v1.0h-1.0zM119.4 128.9h1.0v1.0h-1.0zM115.9 120.1h1.0v1.0h-1.0zM122.3 131.2h1.0v1.0h-1.0zM126.3 131.5h1.0v1.0h-1.0zM134.5 127.2h1.0v1.0h-1.0zM128.4 113.4h1.0v1.0h-1.0zM110.4 136.9h1.0v1.0h-1.0zM114.5 131.0h1.0v1.0h-1.0zM123.9 119.9h1.0v1.0h-1.0zM120.8 123.6h1.0v1.0h-1.0zM116.0 133.7h1.0v1.0h-1.0zM125.8 125.1h1.0v1.0h-1.0zM115.5 129.0h1.0v1.0h-1.0zM116.9 136.7h1.0v1.0h-1.0zM130.8 140.5h1.0v1.0h-1.0zM121.2 127.0h1.0v1.0h-1.0zM119.7 119.4h1.0v1.0h-1.0zM117.3 123.3h1.0v1.0h-1.0zM116.3 133.7h1.0v1.0h-1.0zM119.5 126.1h1.0v1.0h-1.0zM109.5 139.5h1.0v1.0h-1.0zM117.3 144.1h1.0v1.0h-1.0zM119.7 142.2h1.0v1.0h-1.0zM117.2 133.9h1.0v1.0h-1.0zM137.9 123.8h1.0v1.0h-1.0zM120.9 144.6h1.0v1.0h-1.0zM120.3 135.6h1.0v1.0h-1.0zM129.2 125.5h1.0v1.0h-1.0zM125.7 122.1h1.0v1.0h-1.0zM119.5 122.0h1.0v1.0h-1.0zM119.6 129.4h1.0v1.0h-1.0zM127.8 117.6h1.0v1.0h-1.0zM126.7 142.1h1.0v1.0h-1.0zM125.6 127.0h1.0v1.0h-1.0zM118.5 132.9h1.0v1.0h-1.0zM128.5 115.3h1.0v1.0h-1.0zM114.6 154.4h1.0v1.0h-1.0zM108.3 133.1h1.0v1.0h-1.0zM123.0 128.3h1.0v1.0h-1.0zM131.6 121.3h1.0v1.0h-1.0zM116.7 141.1h1.0v1.0h-1.0zM121.2 124.6h1.0v1.0h-1.0zM122.9 125.0h1.0v1.0h-1.0zM131.5 124.0h1.0v1.0h-1.0zM129.4 119.7h1.0v1.0h-1.0zM124.5 129.0h1.0v1.0h-1.0zM108.0 123.3h1.0v1.0h-1.0zM117.0 122.6h1.0v1.0h-1.0zM132.2 122.2h1.0v1.0h-1.0zM110.7 138.5h1.0v1.0h-1.0zM116.2 141.7h1.0v1.0h-1.0zM125.4 121.7h1.0v1.0h-1.0zM116.3 138.7h1.0v1.0h-1.0zM125.5 130.4h1.0v1.0h-1.0zM121.4 127.7h1.0v1.0h-1.0zM111.4 143.5h1.0v1.0h-1.0zM124.7 119.0h1.0v1.0h-1.0zM116.0 133.6h1.0v1.0h-1.0zM124.4 128.6h1.0v1.0h-1.0zM117.4 127.4h1.0v1.0h-1.0zM116.9 114.2h1.0v1.0h-1.0zM126.4 126.1h1.0v1.0h-1.0zM118.5 139.5h1.0v1.0h-1.0zM124.0 130.0h1.0v1.0h-1.0zM129.1 138.4h1.0v1.0h-1.0zM116.6 133.9h1.0v1.0h-1.0zM125.7 122.1h1.0v1.0h-1.0zM121.7 127.3h1.0v1.0h-1.0zM111.6 123.1h1.0v1.0h-1.0zM120.9 124.3h1.0v1.0h-1.0zM113.8 122.2h1.0v1.0h-1.0zM120.3 129.3h1.0v1.0h-1.0zM113.0 131.5h1.0v1.0h-1.0zM115.5 124.2h1.0v1.0h-1.0zM129.6 125.3h1.0v1.0h-1.0zM114.6 136.5h1.0v1.0h-1.0zM119.9 125.2h1.0v1.0h-1.0zM118.3 137.7h1.0v1.0h-1.0zM112.7 117.1h1.0v1.0h-1.0zM119.5 117.4h1.0v1.0h-1.0zM119.4 119.8h1.0v1.0h-1.0zM125.3 121.7h1.0v1.0h-1.0zM120.0 132.1h1.0v1.0h-1.0zM116.8 128.1h1.0v1.0h-1.0zM127.8 134.5h1.0v1.0h-1.0zM117.9 126.7h1.0v1.0h-1.0zM115.4 128.9h1.0v1.0h-1.0zM127.8 123.4h1.0v1.0h-1.0zM116.0 137.4h1.0v1.0h-1.0zM117.7 129.1h1.0v1.0h-1.0zM118.5 119.6h1.0v1.0h-1.0zM111.1 145.2h1.0v1.0h-1.0zM120.6 123.4h1.0v1.0h-1.0zM118.6 126.1h1.0v1.0h-1.0zM123.3 131.3h1.0v1.0h-1.0zM130.0 134.3h1.0v1.0h-1.0zM126.9 133.6h1.0v1.0h-1.0zM128.5 117.9h1.0v1.0h-1.0zM120.4 127.7h1.0v1.0h-1.0zM126.7 110.5h1.0v1.0h-1.0zM126.3 127.1h1.0v1.0h-1.0zM119.5 125.6h1.0v1.0h-1.0zM118.4 131.4h1.0v1.0h-1.0zM117.7 118.4h1.0v1.0h-1.0zM121.7 130.3h1.0v1.0h-1.0zM120.9 123.1h1.0v1.0h-1.0zM117.0 126.4h1.0v1.0h-1.0zM130.0 122.2h1.0v1.0h-1.0zM125.4 138.4h1.0v1.0h-1.0zM116.0 134.0h1.0v1.0h-1.0zM119.4 111.5h1.0v1.0h-1.0zM115.9 122.6h1.0v1.0h-1.0zM120.9 123.7h1.0v1.0h-1.0zM128.3 111.3h1.0v1.0h-1.0zM127.9 117.9h1.0v1.0h-1.0zM119.0 123.8h1.0v1.0h-1.0zM119.7 115.1h1.0v1.0h-1.0zM116.0 126.4h1.0v1.0h-1.0zM121.8 134.3h1.0v1.0h-1.0zM118.6 120.1h1.0v1.0h-1.0zM114.9 130.4h1.0v1.0h-1.0zM106.9 134.6h1.0v1.0h-1.0zM121.0 121.2h1.0v1.0h-1.0zM119.0 137.6h1.0v1.0h-1.0zM119.0 137.8h1.0v1.0h-1.0zM117.4 138.8h1.0v1.0h-1.0zM127.1 130.1h1.0v1.0h-1.0zM127.2 132.6h1.0v1.0h-1.0zM124.3 121.2h1.0v1.0h-1.0zM116.8 134.3h1.0v1.0h-1.0zM112.3 131.2h1.0v1.0h-1.0zM121.6 131.4h1.0v1.0h-1.0zM110.5 123.4h1.0v1.0h-1.0zM126.4 123.5h1.0v1.0h-1.0zM129.1 109.3h1.0v1.0h-1.0zM126.2 124.4h1.0v1.0h-1.0zM131.1 115.2h1.0v1.0h-1.0zM124.9 127.9h1.0v1.0h-1.0zM127.7 122.5h1.0v1.0h-1.0zM110.4 145.6h1.0v1.0h-1.0zM119.1 121.1h1.0v1.0h-1.0zM122.8 119.6h1.0v1.0h-1.0zM120.9 144.9h1.0v1.0h-1.0zM123.1 113.0h1.0v1.0h-1.0zM122.8 139.8h1.0v1.0h-1.0zM120.9 139.5h1.0v1.0h-1.0zM117.2 125.4h1.0v1.0h-1.0zM118.8 114.2h1.0v1.0h-1.0zM127.7 124.9h1.0v1.0h-1.0zM131.5 133.5h1.0v1.0h-1.0zM115.1 133.8h1.0v1.0h-1.0zM127.9 136.0h1.0v1.0h-1.0zM113.7 129.2h1.0v1.0h-1.0zM129.1 127.2h1.0v1.0h-1.0zM113.7 135.3h1.0v1.0h-1.0zM125.1 119.8h1.0v1.0h-1.0zM121.5 121.6h1.0v1.0h-1.0zM121.9 130.0h1.0v1.0h-1.0zM124.0 136.5h1.0v1.0h-1.0zM111.9 128.8h1.0v1.0h-1.0zM123.6 134.0h1.0v1.0h-1.0zM127.6 126.0h1.0v1.0h-1.0zM113.1 134.2h1.0v1.0h-1.0zM122.8 108.8h1.0v1.0h-1.0zM128.1 124.6h1.0v1.0h-1.0zM123.9 116.5h1.0v1.0h-1.0zM118.2 116.5h1.0v1.0h-1.0zM117.8 130.8h1.0v1.0h-1.0zM107.2 130.2h1.0v1.0h-1.0zM118.6 117.5h1.0v1.0h-1.0zM124.3 129.2h1.0v1.0h-1.0zM107.3 140.6h1.0v1.0h-1.0zM115.8 128.8h1.0v1.0h-1.0zM117.1 140.4h1.0v1.0h-1.0zM115.3 135.8h1.0v1.0h-1.0zM113.5 136.2h1.0v1.0h-1.0zM118.3 124.1h1.0v1.0h-1.0zM128.9 134.8h1.0v1.0h-1.0zM113.9 147.0h1.0v1.0h-1.0zM125.2 122.5h1.0v1.0h-1.0zM128.2 120.3h1.0v1.0h-1.0zM122.3 140.5h1.0v1.0h-1.0zM120.1 122.3h1.0v1.0h-1.0zM121.6 129.0h1.0v1.0h-1.0zM114.2 131.2h1.0v1.0h-1.0zM112.4 121.0h1.0v1.0h-1.0zM119.8 125.5h1.0v1.0h-1.0zM126.3 119.1h1.0v1.0h-1.0zM124.2 128.2h1.0v1.0h-1.0zM122.2 116.1h1.0v1.0h-1.0zM113.9 129.1h1.0v1.0h-1.0zM115.9 127.1h1.0v1.0h-1.0zM122.5 139.0h1.0v1.0h-1.0zM129.3 129.1h1.0v1.0h-1.0zM112.2 134.7h1.0v1.0h-1.0zM118.6 138.3h1.0v1.0h-1.0zM116.9 138.3h1.0v1.0h-1.0zM122.5 136.0h1.0v1.0h-1.0zM121.9 132.7h1.0v1.0h-1.0zM121.2 130.8h1.0v1.0h-1.0zM127.3 126.3h1.0v1.0h-1.0zM129.5 131.0h1.0v1.0h-1.0zM125.8 129.7h1.0v1.0h-1.0zM112.9 144.6h1.0v1.0h-1.0zM123.5 117.5h1.0v1.0h-1.0zM118.4 124.5h1.0v1.0h-1.0zM130.5 134.4h1.0v1.0h-1.0zM128.6 122.1h1.0v1.0h-1.0zM120.3 134.7h1.0v1.0h-1.0zM131.8 126.3h1.0v1.0h-1.0zM122.7 132.1h1.0v1.0h-1.0zM115.9 126.4h1.0v1.0h-1.0zM127.2 109.0h1.0v1.0h-1.0zM121.9 134.1h1.0v1.0h-1.0zM123.1 116.7h1.0v1.0h-1.0zM127.1 133.6h1.0v1.0h-1.0zM121.1 142.0h1.0v1.0h-1.0zM115.6 134.1h1.0v1.0h-1.0zM119.8 127.5h1.0v1.0h-1.0zM120.4 128.3h1.0v1.0h-1.0zM125.8 131.7h1.0v1.0h-1.0zM121.0 125.9h1.0v1.0h-1.0zM125.4 121.9h1.0v1.0h-1.0zM118.5 127.1h1.0v1.0h-1.0zM118.5 126.4h1.0v1.0h-1.0zM111.2 143.7h1.0v1.0h-1.0zM125.7 134.8h1.0v1.0h-1.0zM113.3 146.3h1.0v1.0h-1.0zM122.6 128.4h1.0v1.0h-1.0zM121.3 131.6h1.0v1.0h-1.0zM127.7 131.1h1.0v1.0h-1.0zM133.8 125.4h1.0v1.0h-1.0zM127.4 121.7h1.0v1.0h-1.0zM130.7 129.3h1.0v1.0h-1.0zM117.5 135.9h1.0v1.0h-1.0zM130.5 121.9h1.0v1.0h-1.0zM123.7 116.4h1.0v1.0h-1.0zM121.8 127.9h1.0v1.0h-1.0zM121.4 122.2h1.0v1.0h-1.0zM121.4 121.7h1.0v1.0h-1.0zM118.4 141.9h1.0v1.0h-1.0zM111.9 123.8h1.0v1.0h-1.0zM117.2 131.7h1.0v1.0h-1.0zM116.7 125.5h1.0v1.0h-1.0zM113.5 132.2h1.0v1.0h-1.0zM121.8 127.4h1.0v1.0h-1.0zM123.4 127.2h1.0v1.0h-1.0zM111.3 130.3h1.0v1.0h-1.0zM122.7 127.8h1.0v1.0h-1.0zM121.5 140.4h1.0v1.0h-1.0zM118.1 120.0h1.0v1.0h-1.0zM123.6 143.1h1.0v1.0h-1.0zM121.1 117.4h1.0v1.0h-1.0zM119.4 123.2h1.0v1.0h-1.0zM113.1 125.7h1.0v1.0h-1.0zM118.6 116.1h1.0v1.0h-1.0zM127.5 124.7h1.0v1.0h-1.0zM118.4 133.5h1.0v1.0h-1.0zM125.8 127.3h1.0v1.0h-1.0zM123.7 121.9h1.0v1.0h-1.0zM127.1 137.2h1.0v1.0h-1.0zM115.5 126.4h1.0v1.0h-1.0zM122.7 133.8h1.0v1.0h-1.0zM125.1 143.3h1.0v1.0h-1.0zM118.5 126.7h1.0v1.0h-1.0zM113.8 128.0h1.0v1.0h-1.0zM112.6 150.9h1.0v1.0h-1.0zM128.2 111.6h1.0v1.0h-1.0zM117.2 128.1h1.0v1.0h-1.0zM117.6 119.0h1.0v1.0h-1.0zM117.9 130.6h1.0v1.0h-1.0zM122.9 120.9h1.0v1.0h-1.0zM126.4 125.6h1.0v1.0h-1.0zM122.9 116.3h1.0v1.0h-1.0zM114.9 132.3h1.0v1.0h-1.0zM113.2 124.8h1.0v1.0h-1.0zM125.5 126.8h1.0v1.0h-1.0zM125.6 119.9h1.0v1.0h-1.0zM123.5 140.0h1.0v1.0h-1.0zM127.7 114.6h1.0v1.0h-1.0zM112.5 134.4h1.0v1.0h-1.0zM128.1 134.3h1.0v1.0h-1.0zM128.8 126.0h1.0v1.0h-1.0zM119.9 128.1h1.0v1.0h-1.0zM127.9 116.9h1.0v1.0h-1.0zM121.0 141.1h1.0v1.0h-1.0zM119.7 115.2h1.0v1.0h-1.0zM124.6 123.8h1.0v1.0h-1.0zM106.7 130.5h1.0v1.0h-1.0zM123.1 124.9h1.0v1.0h-1.0zM130.5 133.8h1.0v1.0h-1.0zM116.8 127.9h1.0v1.0h-1.0zM118.3 120.3h1.0v1.0h-1.0zM124.5 124.7h1.0v1.0h-1.0zM113.1 141.2h1.0v1.0h-1.0zM122.3 136.7h1.0v1.0h-1.0zM121.8 133.5h1.0v1.0h-1.0zM127.9 131.2h1.0v1.0h-1.0zM132.9 124.4h1.0v1.0h-1.0zM124.1 116.8h1.0v1.0h-1.0zM117.4 132.1h1.0v1.0h-1.0zM130.0 125.9h1.0v1.0h-1.0zM122.0 125.6h1.0v1.0h-1.0zM121.2 117.4h1.0v1.0h-1.0zM126.8 114.5h1.0v1.0h-1.0zM121.3 128.9h1.0v1.0h-1.0zM121.0 119.0h1.0v1.0h-1.0zM108.0 141.1h1.0v1.0h-1.0zM109.2 138.6h1.0v1.0h-1.0zM124.9 126.7h1.0v1.0h-1.0zM111.8 134.8h1.0v1.0h-1.0zM132.2 124.2h1.0v1.0h-1.0zM115.9 136.5h1.0v1.0h-1.0zM115.8 145.5h1.0v1.0h-1.0zM116.3 131.8h1.0v1.0h-1.0zM107.9 143.2h1.0v1.0h-1.0zM124.6 109.1h1.0v1.0h-1.0zM120.7 127.1h1.0v1.0h-1.0zM131.2 129.5h1.0v1.0h-1.0zM118.8 133.3h1.0v1.0h-1.0zM128.7 131.1h1.0v1.0h-1.0zM124.1 134.8h1.0v1.0h-1.0zM119.1 128.6h1.0v1.0h-1.0zM124.0 121.1h1.0v1.0h-1.0zM131.2 119.6h1.0v1.0h-1.0zM123.3 138.6h1.0v1.0h-1.0zM122.9 122.1h1.0v1.0h-1.0zM118.1 131.9h1.0v1.0h-1.0zM123.4 132.3h1.0v1.0h-1.0zM127.4 125.9h1.0v1.0h-1.0zM127.1 116.2h1.0v1.0h-1.0zM124.0 131.2h1.0v1.0h-1.0zM115.0 137.2h1.0v1.0h-1.0zM133.4 106.9h1.0v1.0h-1.0zM125.8 116.7h1.0v1.0h-1.0zM117.7 150.9h1.0v1.0h-1.0zM118.1 128.1h1.0v1.0h-1.0zM118.4 130.9h1.0v1.0h-1.0zM119.7 140.3h1.0v1.0h-1.0zM110.9 139.4h1.0v1.0h-1.0zM115.4 128.9h1.0v1.0h-1.0zM124.0 136.6h1.0v1.0h-1.0zM118.6 120.9h1.0v1.0h-1.0zM118.7 127.2h1.0v1.0h-1.0zM130.6 120.2h1.0v1.0h-1.0zM121.0 134.4h1.0v1.0h-1.0zM122.0 133.4h1.0v1.0h-1.0zM126.5 135.4h1.0v1.0h-1.0zM123.1 134.8h1.0v1.0h-1.0zM135.7 116.5h1.0v1.0h-1.0zM127.8 128.9h1.0v1.0h-1.0zM122.6 120.0h1.0v1.0h-1.0zM113.0 121.7h1.0v1.0h-1.0zM115.9 131.2h1.0v1.0h-1.0zM109.0 137.3h1.0v1.0h-1.0zM122.9 127.0h1.0v1.0h-1.0zM120.0 120.7h1.0v1.0h-1.0zM117.1 121.9h1.0v1.0h-1.0zM121.4 127.1h1.0v1.0h-1.0zM114.9 123.6h1.0v1.0h-1.0zM116.0 128.1h1.0v1.0h-1.0zM127.7 137.2h1.0v1.0h-1.0zM124.6 114.6h1.0v1.0h-1.0zM119.5 112.0h1.0v1.0h-1.0zM126.8 123.7h1.0v1.0h-1.0zM123.2 123.5h1.0v1.0h-1.0zM116.6 140.1h1.0v1.0h-1.0zM118.6 124.4h1.0v1.0h-1.0zM114.0 134.1h1.0v1.0h-1.0zM119.6 117.3h1.0v1.0h-1.0zM118.8 114.3h1.0v1.0h-1.0zM114.6 150.4h1.0v1.0h-1.0zM112.9 134.3h1.0v1.0h-1.0zM125.6 120.0h1.0v1.0h-1.0zM120.2 126.1h1.0v1.0h-1.0zM111.1 142.9h1.0v1.0h-1.0zM110.4 127.9h1.0v1.0h-1.0zM124.3 124.4h1.0v1.0h-1.0zM118.6 136.0h1.0v1.0h-1.0zM120.2 132.2h1.0v1.0h-1.0zM130.8 113.3h1.0v1.0h-1.0zM120.4 150.0h1.0v1.0h-1.0zM122.2 138.7h1.0v1.0h-1.0zM114.4 124.8h1.0v1.0h-1.0zM118.8 122.1h1.0v1.0h-1.0zM128.1 123.8h1.0v1.0h-1.0zM126.5 112.7h1.0v1.0h-1.0zM119.7 128.9h1.0v1.0h-1.0zM119.8 121.3h1.0v1.0h-1.0zM133.9 122.3h1.0v1.0h-1.0zM118.4 119.9h1.0v1.0h-1.0zM119.7 148.0h1.0v1.0h-1.0zM124.8 123.3h1.0v1.0h-1.0zM115.2 136.4h1.0v1.0h-1.0zM111.6 138.6h1.0v1.0h-1.0zM127.4 131.8h1.0v1.0h-1.0zM121.4 135.9h1.0v1.0h-1.0zM131.8 122.9h1.0v1.0h-1.0zM127.7 127.7h1.0v1.0h-1.0zM116.8 127.8h1.0v1.0h-1.0zM123.0 120.0h1.0v1.0h-1.0zM116.2 117.7h1.0v1.0h-1.0zM121.3 147.3h1.0v1.0h-1.0zM120.0 139.4h1.0v1.0h-1.0zM118.6 126.9h1.0v1.0h-1.0zM125.7 120.2h1.0v1.0h-1.0zM115.7 127.4h1.0v1.0h-1.0zM122.8 119.2h1.0v1.0h-1.0zM123.5 127.1h1.0v1.0h-1.0zM125.7 130.4h1.0v1.0h-1.0zM118.9 129.0h1.0v1.0h-1.0zM122.2 122.7h1.0v1.0h-1.0zM116.4 133.8h1.0v1.0h-1.0zM119.7 140.3h1.0v1.0h-1.0zM113.9 122.0h1.0v1.0h-1.0zM118.2 129.1h1.0v1.0h-1.0zM120.3 123.4h1.0v1.0h-1.0zM124.0 131.5h1.0v1.0h-1.0zM110.8 137.1h1.0v1.0h-1.0zM127.5 125.8h1.0v1.0h-1.0zM127.2 124.1h1.0v1.0h-1.0zM126.9 128.9h1.0v1.0h-1.0zM118.2 123.9h1.0v1.0h-1.0zM116.5 128.6h1.0v1.0h-1.0zM121.5 129.1h1.0v1.0h-1.0zM130.2 97.5h1.0v1.0h-1.0zM127.5 113.2h1.0v1.0h-1.0zM118.2 138.2h1.0v1.0h-1.0zM123.4 125.9h1.0v1.0h-1.0zM120.4 127.1h1.0v1.0h-1.0zM120.1 122.7h1.0v1.0h-1.0zM112.4 136.4h1.0v1.0h-1.0zM117.6 136.3h1.0v1.0h-1.0zM119.4 128.6h1.0v1.0h-1.0zM118.5 131.9h1.0v1.0h-1.0zM124.0 132.1h1.0v1.0h-1.0zM120.1 120.8h1.0v1.0h-1.0zM129.7 129.4h1.0v1.0h-1.0zM114.6 139.9h1.0v1.0h-1.0zM124.3 135.0h1.0v1.0h-1.0zM111.1 146.9h1.0v1.0h-1.0zM120.9 133.7h1.0v1.0h-1.0zM124.6 116.6h1.0v1.0h-1.0zM113.0 129.2h1.0v1.0h-1.0zM123.5 127.3h1.0v1.0h-1.0zM119.9 114.5h1.0v1.0h-1.0zM124.0 116.0h1.0v1.0h-1.0zM121.3 139.7h1.0v1.0h-1.0zM131.5 141.2h1.0v1.0h-1.0zM120.8 120.2h1.0v1.0h-1.0zM106.1 116.9h1.0v1.0h-1.0zM116.8 136.1h1.0v1.0h-1.0zM121.8 134.5h1.0v1.0h-1.0zM119.7 134.3h1.0v1.0h-1.0zM131.3 122.6h1.0v1.0h-1.0zM123.2 116.3h1.0v1.0h-1.0zM124.3 142.2h1.0v1.0h-1.0zM128.4 120.2h1.0v1.0h-1.0zM122.4 126.9h1.0v1.0h-1.0zM121.8 127.1h1.0v1.0h-1.0zM124.6 126.3h1.0v1.0h-1.0zM124.1 132.1h1.0v1.0h-1.0zM119.8 127.0h1.0v1.0h-1.0zM116.0 134.3h1.0v1.0h-1.0zM118.5 130.4h1.0v1.0h-1.0zM123.8 115.6h1.0v1.0h-1.0zM128.7 121.6h1.0v1.0h-1.0zM122.7 133.3h1.0v1.0h-1.0zM115.9 117.6h1.0v1.0h-1.0zM121.0 120.8h1.0v1.0h-1.0zM112.7 132.2h1.0v1.0h-1.0zM118.4 131.2h1.0v1.0h-1.0zM117.7 130.2h1.0v1.0h-1.0zM117.3 126.8h1.0v1.0h-1.0zM123.5 130.0h1.0v1.0h-1.0zM122.2 118.7h1.0v1.0h-1.0zM120.5 131.6h1.0v1.0h-1.0zM122.1 121.7h1.0v1.0h-1.0zM115.2 149.8h1.0v1.0h-1.0zM118.2 130.7h1.0v1.0h-1.0zM131.1 108.3h1.0v1.0h-1.0zM123.7 123.0h1.0v1.0h-1.0zM128.3 129.1h1.0v1.0h-1.0zM117.8 125.2h1.0v1.0h-1.0zM123.4 124.3h1.0v1.0h-1.0zM125.0 117.3h1.0v1.0h-1.0zM117.2 134.4h1.0v1.0h-1.0zM128.0 138.1h1.0v1.0h-1.0zM118.2 138.7h1.0v1.0h-1.0zM120.2 144.1h1.0v1.0h-1.0zM126.4 129.6h1.0v1.0h-1.0zM121.5 130.5h1.0v1.0h-1.0zM121.6 130.7h1.0v1.0h-1.0zM124.0 109.8h1.0v1.0h-1.0zM124.2 110.7h1.0v1.0h-1.0zM121.1 128.7h1.0v1.0h-1.0zM110.5 130.9h1.0v1.0h-1.0zM124.7 131.0h1.0v1.0h-1.0zM122.7 147.0h1.0v1.0h-1.0zM111.6 134.6h1.0v1.0h-1.0zM121.5 132.8h1.0v1.0h-1.0zM127.7 124.5h1.0v1.0h-1.0zM120.7 120.6h1.0v1.0h-1.0zM117.5 126.2h1.0v1.0h-1.0zM117.2 117.1h1.0v1.0h-1.0zM123.8 129.0h1.0v1.0h-1.0zM128.9 113.8h1.0v1.0h-1.0zM118.9 122.4h1.0v1.0h-1.0zM122.9 123.8h1.0v1.0h-1.0zM125.5 129.8h1.0v1.0h-1.0zM120.8 128.6h1.0v1.0h-1.0zM125.8 126.0h1.0v1.0h-1.0zM124.7 134.4h1.0v1.0h-1.0zM121.4 129.1h1.0v1.0h-1.0zM120.0 137.8h1.0v1.0h-1.0zM124.1 133.4h1.0v1.0h-1.0zM124.6 131.2h1.0v1.0h-1.0zM126.9 130.7h1.0v1.0h-1.0zM106.4 135.4h1.0v1.0h-1.0zM125.2 119.2h1.0v1.0h-1.0zM122.8 120.9h1.0v1.0h-1.0zM129.3 136.7h1.0v1.0h-1.0zM111.4 129.9h1.0v1.0h-1.0zM112.6 143.4h1.0v1.0h-1.0zM123.1 108.1h1.0v1.0h-1.0zM122.3 125.8h1.0v1.0h-1.0zM125.9 110.2h1.0v1.0h-1.0zM117.3 143.0h1.0v1.0h-1.0zM107.7 134.3h1.0v1.0h-1.0zM110.3 146.6h1.0v1.0h-1.0zM123.5 127.8h1.0v1.0h-1.0zM124.4 134.9h1.0v1.0h-1.0zM115.6 133.1h1.0v1.0h-1.0zM124.2 112.9h1.0v1.0h-1.0zM131.7 129.6h1.0v1.0h-1.0zM116.7 130.1h1.0v1.0h-1.0zM117.7 114.4h1.0v1.0h-1.0zM120.1 123.3h1.0v1.0h-1.0zM117.4 137.8h1.0v1.0h-1.0zM116.9 131.6h1.0v1.0h-1.0zM127.3 120.8h1.0v1.0h-1.0zM125.0 121.3h1.0v1.0h-1.0zM124.4 134.3h1.0v1.0h-1.0zM125.3 117.6h1.0v1.0h-1.0zM123.9 122.5h1.0v1.0h-1.0zM124.6 128.9h1.0v1.0h-1.0zM113.8 134.5h1.0v1.0h-1.0zM126.2 125.1h1.0v1.0h-1.0zM127.4 128.3h1.0v1.0h-1.0zM118.9 128.9h1.0v1.0h-1.0zM118.6 123.4h1.0v1.0h-1.0zM115.0 140.7h1.0v1.0h-1.0zM128.9 129.3h1.0v1.0h-1.0zM128.7 131.3h1.0v1.0h-1.0zM119.7 136.5h1.0v1.0h-1.0zM114.2 148.8h1.0v1.0h-1.0zM125.9 119.2h1.0v1.0h-1.0zM128.5 127.7h1.0v1.0h-1.0zM129.2 103.5h1.0v1.0h-1.0zM122.9 137.1h1.0v1.0h-1.0zM121.4 138.0h1.0v1.0h-1.0zM129.1 131.4h1.0v1.0h-1.0zM127.8 124.3h1.0v1.0h-1.0zM115.6 136.4h1.0v1.0h-1.0zM127.1 118.4h1.0v1.0h-1.0zM123.1 127.7h1.0v1.0h-1.0zM115.4 130.4h1.0v1.0h-1.0zM124.0 114.9h1.0v1.0h-1.0zM109.6 140.8h1.0v1.0h-1.0zM112.8 127.4h1.0v1.0h-1.0zM121.6 134.9h1.0v1.0h-1.0zM116.0 123.5h1.0v1.0h-1.0zM118.8 135.3h1.0v1.0h-1.0zM121.5 117.8h1.0v1.0h-1.0zM122.0 139.5h1.0v1.0h-1.0zM124.6 124.3h1.0v1.0h-1.0zM122.4 130.2h1.0v1.0h-1.0zM129.0 119.9h1.0v1.0h-1.0zM121.9 127.4h1.0v1.0h-1.0zM114.7 128.1h1.0v1.0h-1.0zM122.3 125.2h1.0v1.0h-1.0zM127.4 117.7h1.0v1.0h-1.0zM119.1 131.9h1.0v1.0h-1.0zM118.6 137.8h1.0v1.0h-1.0zM120.0 113.9h1.0v1.0h-1.0zM120.5 132.7h1.0v1.0h-1.0zM129.0 137.7h1.0v1.0h-1.0zM113.9 133.4h1.0v1.0h-1.0zM121.6 114.7h1.0v1.0h-1.0zM132.3 136.2h1.0v1.0h-1.0zM122.4 134.5h1.0v1.0h-1.0zM128.6 134.3h1.0v1.0h-1.0zM130.1 122.5h1.0v1.0h-1.0zM109.4 137.4h1.0v1.0h-1.0zM126.2 135.5h1.0v1.0h-1.0zM121.3 130.3h1.0v1.0h-1.0zM112.4 139.7h1.0v1.0h-1.0zM122.3 133.9h1.0v1.0h-1.0zM119.2 137.8h1.0v1.0h-1.0zM120.8 135.6h1.0v1.0h-1.0zM113.5 130.4h1.0v1.0h-1.0zM133.1 128.5h1.0v1.0h-1.0zM117.2 135.5h1.0v1.0h-1.0zM123.4 135.5h1.0v1.0h-1.0zM111.3 129.4h1.0v1.0h-1.0zM117.8 119.5h1.0v1.0h-1.0zM124.4 127.2h1.0v1.0h-1.0zM114.3 155.8h1.0v1.0h-1.0zM122.2 135.9h1.0v1.0h-1.0zM118.6 121.5h1.0v1.0h-1.0zM117.4 122.1h1.0v1.0h-1.0zM117.7 121.0h1.0v1.0h-1.0zM123.1 119.9h1.0v1.0h-1.0zM118.4 114.6h1.0v1.0h-1.0zM122.8 129.9h1.0v1.0h-1.0zM122.3 139.0h1.0v1.0h-1.0zM116.9 133.3h1.0v1.0h-1.0zM106.3 144.3h1.0v1.0h-1.0zM127.3 129.1h1.0v1.0h-1.0zM113.9 129.3h1.0v1.0h-1.0zM114.4 118.5h1.0v1.0h-1.0zM124.2 130.6h1.0v1.0h-1.0zM115.3 135.3h1.0v1.0h-1.0zM114.9 128.8h1.0v1.0h-1.0zM121.2 120.6h1.0v1.0h-1.0zM126.3 121.3h1.0v1.0h-1.0zM131.9 127.4h1.0v1.0h-1.0zM134.0 123.5h1.0v1.0h-1.0zM127.7 119.9h1.0v1.0h-1.0zM113.8 127.2h1.0v1.0h-1.0zM128.3 119.4h1.0v1.0h-1.0zM129.1 124.3h1.0v1.0h-1.0zM120.2 131.9h1.0v1.0h-1.0zM129.6 115.0h1.0v1.0h-1.0zM126.8 136.2h1.0v1.0h-1.0zM122.1 119.3h1.0v1.0h-1.0zM117.1 114.1h1.0v1.0h-1.0zM124.6 126.8h1.0v1.0h-1.0zM117.1 122.0h1.0v1.0h-1.0zM129.4 128.8h1.0v1.0h-1.0zM113.5 138.4h1.0v1.0h-1.0zM122.9 129.8h1.0v1.0h-1.0zM123.0 114.6h1.0v1.0h-1.0zM116.7 122.3h1.0v1.0h-1.0zM118.6 131.0h1.0v1.0h-1.0zM122.7 131.4h1.0v1.0h-1.0zM125.2 120.7h1.0v1.0h-1.0zM112.1 120.1h1.0v1.0h-1.0zM118.4 121.3h1.0v1.0h-1.0zM123.6 117.8h1.0v1.0h-1.0zM115.8 125.5h1.0v1.0h-1.0zM123.5 123.4h1.0v1.0h-1.0zM123.9 127.7h1.0v1.0h-1.0zM115.7 126.8h1.0v1.0h-1.0zM132.1 126.7h1.0v1.0h-1.0zM121.9 142.0h1.0v1.0h-1.0zM130.7 124.7h1.0v1.0h-1.0zM130.1 133.4h1.0v1.0h-1.0zM120.3 126.1h1.0v1.0h-1.0zM123.5 130.1h1.0v1.0h-1.0zM115.7 138.6h1.0v1.0h-1.0zM120.8 118.6h1.0v1.0h-1.0zM122.3 135.8h1.0v1.0h-1.0zM129.6 121.9h1.0v1.0h-1.0zM124.4 134.5h1.0v1.0h-1.0zM133.4 121.7h1.0v1.0h-1.0zM122.8 126.7h1.0v1.0h-1.0zM115.5 119.6h1.0v1.0h-1.0zM127.8 126.9h1.0v1.0h-1.0zM114.5 134.2h1.0v1.0h-1.0zM122.3 138.5h1.0v1.0h-1.0zM117.2 126.5h1.0v1.0h-1.0zM127.9 125.2h1.0v1.0h-1.0zM114.5 133.8h1.0v1.0h-1.0zM132.1 122.1h1.0v1.0h-1.0zM116.4 125.4h1.0v1.0h-1.0zM124.3 128.5h1.0v1.0h-1.0zM116.9 128.4h1.0v1.0h-1.0zM116.3 126.2h1.0v1.0h-1.0zM108.9 149.1h1.0v1.0h-1.0zM127.5 123.3h1.0v1.0h-1.0zM117.4 123.0h1.0v1.0h-1.0zM115.3 119.3h1.0v1.0h-1.0zM114.3 134.3h1.0v1.0h-1.0zM121.3 121.2h1.0v1.0h-1.0zM118.2 116.3h1.0v1.0h-1.0zM121.2 126.6h1.0v1.0h-1.0zM128.3 125.6h1.0v1.0h-1.0zM125.1 132.7h1.0v1.0h-1.0zM127.4 112.1h1.0v1.0h-1.0zM112.1 132.0h1.0v1.0h-1.0zM126.9 132.9h1.0v1.0h-1.0zM125.8 126.7h1.0v1.0h-1.0zM121.2 122.4h1.0v1.0h-1.0zM124.4 133.2h1.0v1.0h-1.0zM120.8 125.4h1.0v1.0h-1.0zM122.4 132.2h1.0v1.0h-1.0zM111.1 140.9h1.0v1.0h-1.0zM122.0 129.1h1.0v1.0h-1.0zM124.5 139.7h1.0v1.0h-1.0zM118.6 132.7h1.0v1.0h-1.0zM117.8 121.2h1.0v1.0h-1.0zM105.9 134.1h1.0v1.0h-1.0zM109.4 130.4h1.0v1.0h-1.0zM120.0 118.9h1.0v1.0h-1.0zM119.0 130.3h1.0v1.0h-1.0zM117.9 144.1h1.0v1.0h-1.0zM119.6 136.4h1.0v1.0h-1.0zM115.6 133.2h1.0v1.0h-1.0zM123.1 125.0h1.0v1.0h-1.0zM120.5 127.8h1.0v1.0h-1.0zM120.4 132.1h1.0v1.0h-1.0zM120.8 121.5h1.0v1.0h-1.0zM130.0 116.1h1.0v1.0h-1.0zM112.7 140.0h1.0v1.0h-1.0zM110.0 117.6h1.0v1.0h-1.0zM129.6 116.4h1.0v1.0h-1.0zM141.9 112.4h1.0v1.0h-1.0zM122.6 144.0h1.0v1.0h-1.0zM125.9 128.5h1.0v1.0h-1.0zM125.5 121.9h1.0v1.0h-1.0zM128.4 120.9h1.0v1.0h-1.0zM116.2 136.1h1.0v1.0h-1.0zM116.6 123.4h1.0v1.0h-1.0zM126.0 117.9h1.0v1.0h-1.0zM125.3 133.5h1.0v1.0h-1.0zM113.6 125.2h1.0v1.0h-1.0zM119.2 121.6h1.0v1.0h-1.0zM123.5 122.9h1.0v1.0h-1.0zM127.8 124.6h1.0v1.0h-1.0zM125.7 130.1h1.0v1.0h-1.0zM126.7 125.8h1.0v1.0h-1.0zM122.2 118.1h1.0v1.0h-1.0zM120.5 137.3h1.0v1.0h-1.0zM126.8 143.2h1.0v1.0h-1.0zM122.7 127.3h1.0v1.0h-1.0zM122.8 129.0h1.0v1.0h-1.0zM124.7 139.1h1.0v1.0h-1.0zM119.0 121.3h1.0v1.0h-1.0zM126.4 133.7h1.0v1.0h-1.0zM115.8 137.7h1.0v1.0h-1.0zM119.9 125.5h1.0v1.0h-1.0zM125.0 111.6h1.0v1.0h-1.0zM129.0 120.3h1.0v1.0h-1.0zM120.5 121.3h1.0v1.0h-1.0zM124.5 129.4h1.0v1.0h-1.0zM126.4 114.8h1.0v1.0h-1.0zM125.2 116.3h1.0v1.0h-1.0zM121.1 132.1h1.0v1.0h-1.0zM114.0 145.1h1.0v1.0h-1.0zM121.4 134.4h1.0v1.0h-1.0zM122.1 127.2h1.0v1.0h-1.0zM121.8 139.4h1.0v1.0h-1.0zM111.1 134.6h1.0v1.0h-1.0zM120.1 137.3h1.0v1.0h-1.0zM127.1 119.3h1.0v1.0h-1.0zM109.1 141.1h1.0v1.0h-1.0zM126.7 117.4h1.0v1.0h-1.0zM123.7 126.2h1.0v1.0h-1.0zM119.5 106.2h1.0v1.0h-1.0zM112.2 127.6h1.0v1.0h-1.0zM121.4 126.4h1.0v1.0h-1.0zM120.2 134.0h1.0v1.0h-1.0zM111.7 121.9h1.0v1.0h-1.0zM120.9 116.8h1.0v1.0h-1.0zM118.6 126.4h1.0v1.0h-1.0zM124.3 116.1h1.0v1.0h-1.0zM111.8 144.0h1.0v1.0h-1.0zM121.3 112.7h1.0v1.0h-1.0zM120.2 133.9h1.0v1.0h-1.0zM126.7 120.3h1.0v1.0h-1.0zM128.2 124.0h1.0v1.0h-1.0zM117.3 121.3h1.0v1.0h-1.0zM117.9 134.1h1.0v1.0h-1.0zM123.9 129.5h1.0v1.0h-1.0zM125.0 131.0h1.0v1.0h-1.0zM129.7 118.8h1.0v1.0h-1.0zM110.7 131.8h1.0v1.0h-1.0zM115.1 123.3h1.0v1.0h-1.0zM121.9 124.3h1.0v1.0h-1.0zM114.0 139.0h1.0v1.0h-1.0zM105.7 130.8h1.0v1.0h-1.0zM131.8 133.2h1.0v1.0h-1.0zM118.3 134.4h1.0v1.0h-1.0zM133.5 122.4h1.0v1.0h-1.0zM121.8 127.2h1.0v1.0h-1.0zM123.0 130.9h1.0v1.0h-1.0zM125.4 126.3h1.0v1.0h-1.0zM123.2 123.1h1.0v1.0h-1.0zM118.1 126.1h1.0v1.0h-1.0zM124.0 118.7h1.0v1.0h-1.0zM128.8 130.5h1.0v1.0h-1.0zM110.5 134.8h1.0v1.0h-1.0zM115.5 131.2h1.0v1.0h-1.0zM119.9 130.5h1.0v1.0h-1.0zM123.5 124.1h1.0v1.0h-1.0zM114.3 145.2h1.0v1.0h-1.0zM109.8 124.7h1.0v1.0h-1.0zM126.4 120.8h1.0v1.0h-1.0zM107.1 143.4h1.0v1.0h-1.0zM112.2 144.7h1.0v1.0h-1.0zM123.1 130.2h1.0v1.0h-1.0zM121.0 134.6h1.0v1.0h-1.0zM125.1 134.4h1.0v1.0h-1.0zM120.9 130.2h1.0v1.0h-1.0zM124.6 137.8h1.0v1.0h-1.0zM118.1 121.4h1.0v1.0h-1.0zM124.4 124.1h1.0v1.0h-1.0zM122.1 120.0h1.0v1.0h-1.0zM118.1 131.4h1.0v1.0h-1.0zM125.6 130.5h1.0v1.0h-1.0zM131.1 131.9h1.0v1.0h-1.0zM132.9 142.9h1.0v1.0h-1.0zM124.8 125.4h1.0v1.0h-1.0zM107.7 121.7h1.0v1.0h-1.0zM115.3 144.5h1.0v1.0h-1.0zM107.9 141.4h1.0v1.0h-1.0zM117.2 133.9h1.0v1.0h-1.0zM108.1 124.7h1.0v1.0h-1.0zM116.9 133.4h1.0v1.0h-1.0zM125.0 119.4h1.0v1.0h-1.0zM123.1 136.0h1.0v1.0h-1.0zM120.4 137.9h1.0v1.0h-1.0zM126.2 130.5h1.0v1.0h-1.0zM118.8 114.6h1.0v1.0h-1.0zM125.0 136.9h1.0v1.0h-1.0zM122.7 125.2h1.0v1.0h-1.0zM120.9 128.8h1.0v1.0h-1.0zM121.5 122.1h1.0v1.0h-1.0zM130.5 134.6h1.0v1.0h-1.0zM122.2 116.7h1.0v1.0h-1.0zM114.9 133.0h1.0v1.0h-1.0zM125.2 128.2h1.0v1.0h-1.0zM122.1 126.1h1.0v1.0h-1.0zM111.2 137.0h1.0v1.0h-1.0zM114.4 149.4h1.0v1.0h-1.0zM117.6 125.9h1.0v1.0h-1.0zM125.9 128.2h1.0v1.0h-1.0zM117.2 118.1h1.0v1.0h-1.0zM120.2 131.5h1.0v1.0h-1.0zM117.0 136.5h1.0v1.0h-1.0zM124.5 133.1h1.0v1.0h-1.0zM121.8 126.5h1.0v1.0h-1.0zM120.4 137.1h1.0v1.0h-1.0zM119.6 132.3h1.0v1.0h-1.0zM123.9 116.4h1.0v1.0h-1.0zM113.4 132.8h1.0v1.0h-1.0zM117.7 142.3h1.0v1.0h-1.0zM118.2 135.7h1.0v1.0h-1.0zM123.9 139.2h1.0v1.0h-1.0zM118.5 125.8h1.0v1.0h-1.0zM124.7 120.7h1.0v1.0h-1.0zM119.7 137.8h1.0v1.0h-1.0zM112.0 143.7h1.0v1.0h-1.0zM120.1 126.3h1.0v1.0h-1.0zM122.0 122.3h1.0v1.0h-1.0zM122.7 129.5h1.0v1.0h-1.0zM126.8 136.7h1.0v1.0h-1.0zM124.1 127.7h1.0v1.0h-1.0zM114.3 125.0h1.0v1.0h-1.0zM113.6 134.6h1.0v1.0h-1.0zM115.2 142.0h1.0v1.0h-1.0zM121.6 136.7h1.0v1.0h-1.0zM121.2 130.7h1.0v1.0h-1.0zM120.9 137.3h1.0v1.0h-1.0zM115.8 131.1h1.0v1.0h-1.0zM133.7 132.9h1.0v1.0h-1.0zM121.9 122.4h1.0v1.0h-1.0zM109.9 135.4h1.0v1.0h-1.0zM120.1 131.1h1.0v1.0h-1.0zM121.4 152.6h1.0v1.0h-1.0zM113.0 135.4h1.0v1.0h-1.0zM122.5 133.0h1.0v1.0h-1.0zM123.2 129.3h1.0v1.0h-1.0zM126.4 136.6h1.0v1.0h-1.0zM118.4 139.4h1.0v1.0h-1.0zM123.6 134.0h1.0v1.0h-1.0zM116.6 143.5h1.0v1.0h-1.0zM123.6 128.8h1.0v1.0h-1.0zM117.8 124.1h1.0v1.0h-1.0zM115.4 127.4h1.0v1.0h-1.0zM128.8 112.3h1.0v1.0h-1.0zM118.8 133.9h1.0v1.0h-1.0zM124.8 121.1h1.0v1.0h-1.0zM129.2 125.3h1.0v1.0h-1.0zM118.4 117.3h1.0v1.0h-1.0zM117.5 136.5h1.0v1.0h-1.0zM125.7 132.5h1.0v1.0h-1.0zM117.2 120.8h1.0v1.0h-1.0zM117.1 125.3h1.0v1.0h-1.0zM111.9 126.0h1.0v1.0h-1.0zM124.4 128.6h1.0v1.0h-1.0zM126.1 121.7h1.0v1.0h-1.0zM115.9 120.5h1.0v1.0h-1.0zM123.0 139.2h1.0v1.0h-1.0zM114.6 137.4h1.0v1.0h-1.0zM114.3 140.2h1.0v1.0h-1.0zM124.6 125.8h1.0v1.0h-1.0zM127.2 123.7h1.0v1.0h-1.0zM121.1 114.8h1.0v1.0h-1.0zM122.2 128.6h1.0v1.0h-1.0zM121.8 125.0h1.0v1.0h-1.0zM129.1 127.8h1.0v1.0h-1.0zM113.2 137.3h1.0v1.0h-1.0zM126.5 134.0h1.0v1.0h-1.0zM114.4 120.2h1.0v1.0h-1.0zM123.7 129.8h1.0v1.0h-1.0zM132.8 120.4h1.0v1.0h-1.0zM126.1 124.7h1.0v1.0h-1.0zM127.4 130.5h1.0v1.0h-1.0zM127.9 125.2h1.0v1.0h-1.0zM117.7 116.7h1.0v1.0h-1.0zM121.3 119.0h1.0v1.0h-1.0zM122.2 141.8h1.0v1.0h-1.0zM125.5 120.6h1.0v1.0h-1.0zM122.5 122.7h1.0v1.0h-1.0zM126.8 133.9h1.0v1.0h-1.0zM124.5 126.2h1.0v1.0h-1.0zM113.6 118.3h1.0v1.0h-1.0zM114.2 129.3h1.0v1.0h-1.0zM123.9 122.1h1.0v1.0h-1.0zM113.8 140.5h1.0v1.0h-1.0zM119.2 119.1h1.0v1.0h-1.0zM122.0 122.4h1.0v1.0h-1.0zM117.0 132.0h1.0v1.0h-1.0zM135.0 117.4h1.0v1.0h-1.0zM120.6 128.8h1.0v1.0h-1.0zM121.0 126.8h1.0v1.0h-1.0zM115.8 136.0h1.0v1.0h-1.0zM119.0 126.6h1.0v1.0h-1.0zM120.4 129.4h1.0v1.0h-1.0zM116.7 136.3h1.0v1.0h-1.0zM120.2 129.9h1.0v1.0h-1.0zM123.9 120.2h1.0v1.0h-1.0zM120.3 118.3h1.0v1.0h-1.0zM124.1 123.1h1.0v1.0h-1.0zM114.9 128.4h1.0v1.0h-1.0zM129.1 115.2h1.0v1.0h-1.0zM128.8 132.1h1.0v1.0h-1.0zM116.8 137.0h1.0v1.0h-1.0zM123.1 123.7h1.0v1.0h-1.0zM134.9 124.0h1.0v1.0h-1.0zM117.5 135.2h1.0v1.0h-1.0zM116.0 125.6h1.0v1.0h-1.0zM114.7 148.8h1.0v1.0h-1.0zM116.7 126.4h1.0v1.0h-1.0zM123.7 130.4h1.0v1.0h-1.0zM113.7 129.5h1.0v1.0h-1.0zM119.8 132.3h1.0v1.0h-1.0zM122.9 139.0h1.0v1.0h-1.0zM121.7 131.8h1.0v1.0h-1.0zM115.9 125.3h1.0v1.0h-1.0zM123.2 125.7h1.0v1.0h-1.0zM124.0 122.0h1.0v1.0h-1.0zM121.1 149.0h1.0v1.0h-1.0zM117.6 131.0h1.0v1.0h-1.0zM115.5 138.3h1.0v1.0h-1.0zM122.6 130.0h1.0v1.0h-1.0zM119.3 129.1h1.0v1.0h-1.0zM113.7 132.1h1.0v1.0h-1.0zM115.6 131.5h1.0v1.0h-1.0zM117.8 137.7h1.0v1.0h-1.0zM117.3 136.8h1.0v1.0h-1.0zM114.3 131.7h1.0v1.0h-1.0zM119.1 129.6h1.0v1.0h-1.0zM118.1 136.3h1.0v1.0h-1.0zM110.0 127.2h1.0v1.0h-1.0zM109.6 135.4h1.0v1.0h-1.0zM114.6 116.5h1.0v1.0h-1.0zM107.3 138.6h1.0v1.0h-1.0zM114.2 126.9h1.0v1.0h-1.0zM124.1 112.8h1.0v1.0h-1.0zM117.0 133.3h1.0v1.0h-1.0zM116.8 135.8h1.0v1.0h-1.0zM119.0 127.9h1.0v1.0h-1.0zM117.8 130.6h1.0v1.0h-1.0zM128.8 135.2h1.0v1.0h-1.0zM123.8 123.8h1.0v1.0h-1.0zM112.3 139.0h1.0v1.0h-1.0zM118.4 118.9h1.0v1.0h-1.0zM121.7 124.8h1.0v1.0h-1.0zM138.0 113.0h1.0v1.0h-1.0zM120.2 135.0h1.0v1.0h-1.0zM117.5 121.1h1.0v1.0h-1.0zM117.5 142.6h1.0v1.0h-1.0zM121.6 113.8h1.0v1.0h-1.0zM120.5 142.8h1.0v1.0h-1.0zM126.5 109.8h1.0v1.0h-1.0zM128.5 129.7h1.0v1.0h-1.0zM126.4 130.3h1.0v1.0h-1.0zM120.5 124.1h1.0v1.0h-1.0zM123.2 143.1h1.0v1.0h-1.0zM113.6 116.7h1.0v1.0h-1.0zM130.6 129.0h1.0v1.0h-1.0zM114.2 125.9h1.0v1.0h-1.0zM120.6 127.5h1.0v1.0h-1.0zM119.5 125.0h1.0v1.0h-1.0zM117.5 130.3h1.0v1.0h-1.0zM117.8 124.6h1.0v1.0h-1.0zM115.8 138.9h1.0v1.0h-1.0zM123.0 128.3h1.0v1.0h-1.0zM122.0 132.9h1.0v1.0h-1.0zM124.4 134.8h1.0v1.0h-1.0zM125.0 143.0h1.0v1.0h-1.0zM122.0 125.0h1.0v1.0h-1.0zM123.4 134.4h1.0v1.0h-1.0zM125.2 116.3h1.0v1.0h-1.0zM110.8 127.8h1.0v1.0h-1.0zM121.9 136.6h1.0v1.0h-1.0zM111.2 134.5h1.0v1.0h-1.0zM116.9 130.6h1.0v1.0h-1.0zM125.5 122.8h1.0v1.0h-1.0zM124.8 110.4h1.0v1.0h-1.0zM122.3 112.0h1.0v1.0h-1.0zM122.7 129.9h1.0v1.0h-1.0zM124.0 133.2h1.0v1.0h-1.0zM116.6 130.1h1.0v1.0h-1.0zM116.9 132.7h1.0v1.0h-1.0zM125.6 121.0h1.0v1.0h-1.0zM120.6 129.0h1.0v1.0h-1.0zM116.4 135.2h1.0v1.0h-1.0zM130.3 128.8h1.0v1.0h-1.0zM126.5 109.5h1.0v1.0h-1.0zM121.6 124.7h1.0v1.0h-1.0zM109.4 126.6h1.0v1.0h-1.0zM126.1 123.7h1.0v1.0h-1.0zM122.2 119.9h1.0v1.0h-1.0zM129.5 117.6h1.0v1.0h-1.0zM112.9 143.8h1.0v1.0h-1.0zM119.5 132.4h1.0v1.0h-1.0zM124.0 118.6h1.0v1.0h-1.0zM119.3 131.8h1.0v1.0h-1.0zM114.7 129.3h1.0v1.0h-1.0zM123.3 139.7h1.0v1.0h-1.0zM116.4 117.5h1.0v1.0h-1.0zM109.5 134.1h1.0v1.0h-1.0zM121.4 135.4h1.0v1.0h-1.0zM120.4 117.3h1.0v1.0h-1.0zM120.8 129.5h1.0v1.0h-1.0zM116.2 128.0h1.0v1.0h-1.0zM123.2 131.6h1.0v1.0h-1.0zM122.8 109.2h1.0v1.0h-1.0zM119.0 129.3h1.0v1.0h-1.0zM121.0 124.5h1.0v1.0h-1.0zM115.1 133.0h1.0v1.0h-1.0zM120.1 129.4h1.0v1.0h-1.0zM118.2 121.5h1.0v1.0h-1.0zM124.9 120.6h1.0v1.0h-1.0zM115.8 123.4h1.0v1.0h-1.0zM126.0 132.4h1.0v1.0h-1.0zM128.3 130.3h1.0v1.0h-1.0zM123.9 116.5h1.0v1.0h-1.0zM113.3 139.1h1.0v1.0h-1.0zM120.0 135.1h1.0v1.0h-1.0zM124.2 129.8h1.0v1.0h-1.0zM119.4 129.1h1.0v1.0h-1.0zM122.5 133.5h1.0v1.0h-1.0zM122.7 130.7h1.0v1.0h-1.0zM118.0 124.9h1.0v1.0h-1.0zM112.9 134.9h1.0v1.0h-1.0zM111.4 122.6h1.0v1.0h-1.0zM133.4 130.4h1.0v1.0h-1.0zM115.4 126.1h1.0v1.0h-1.0zM127.5 129.7h1.0v1.0h-1.0zM123.4 130.5h1.0v1.0h-1.0zM108.6 153.5h1.0v1.0h-1.0zM122.9 124.3h1.0v1.0h-1.0zM117.2 130.7h1.0v1.0h-1.0zM120.2 135.6h1.0v1.0h-1.0zM126.2 117.1h1.0v1.0h-1.0zM124.4 127.0h1.0v1.0h-1.0zM124.3 115.8h1.0v1.0h-1.0zM120.4 121.5h1.0v1.0h-1.0zM125.4 116.6h1.0v1.0h-1.0zM120.6 129.6h1.0v1.0h-1.0zM117.5 121.2h1.0v1.0h-1.0zM113.7 134.2h1.0v1.0h-1.0zM109.7 120.8h1.0v1.0h-1.0zM114.2 121.7h1.0v1.0h-1.0zM127.0 125.0h1.0v1.0h-1.0zM124.3 121.9h1.0v1.0h-1.0zM127.1 139.7h1.0v1.0h-1.0zM130.6 119.9h1.0v1.0h-1.0zM111.9 135.2h1.0v1.0h-1.0zM120.7 126.0h1.0v1.0h-1.0zM126.5 118.9h1.0v1.0h-1.0zM124.5 130.2h1.0v1.0h-1.0zM125.3 124.0h1.0v1.0h-1.0zM125.6 123.7h1.0v1.0h-1.0zM121.7 139.6h1.0v1.0h-1.0zM123.5 134.5h1.0v1.0h-1.0zM132.8 107.7h1.0v1.0h-1.0zM125.7 127.9h1.0v1.0h-1.0zM122.2 126.4h1.0v1.0h-1.0zM115.9 121.4h1.0v1.0h-1.0zM119.3 141.3h1.0v1.0h-1.0zM120.8 119.9h1.0v1.0h-1.0zM130.7 124.1h1.0v1.0h-1.0zM130.6 133.0h1.0v1.0h-1.0zM113.3 134.8h1.0v1.0h-1.0zM133.7 120.1h1.0v1.0h-1.0zM129.2 129.2h1.0v1.0h-1.0zM129.2 128.3h1.0v1.0h-1.0zM111.5 129.5h1.0v1.0h-1.0zM118.4 147.4h1.0v1.0h-1.0zM126.8 137.5h1.0v1.0h-1.0zM121.4 123.8h1.0v1.0h-1.0zM122.1 121.1h1.0v1.0h-1.0zM127.9 107.2h1.0v1.0h-1.0zM121.8 128.6h1.0v1.0h-1.0zM130.7 139.7h1.0v1.0h-1.0zM116.6 132.2h1.0v1.0h-1.0zM116.9 121.2h1.0v1.0h-1.0zM107.1 136.6h1.0v1.0h-1.0zM127.5 120.1h1.0v1.0h-1.0zM117.4 136.1h1.0v1.0h-1.0zM121.9 132.6h1.0v1.0h-1.0zM118.8 121.6h1.0v1.0h-1.0zM118.2 136.2h1.0v1.0h-1.0zM120.5 117.7h1.0v1.0h-1.0zM129.4 123.1h1.0v1.0h-1.0zM125.2 132.6h1.0v1.0h-1.0zM119.3 144.4h1.0v1.0h-1.0zM121.6 136.2h1.0v1.0h-1.0zM118.7 121.0h1.0v1.0h-1.0zM118.8 142.3h1.0v1.0h-1.0zM119.9 150.1h1.0v1.0h-1.0zM121.6 130.8h1.0v1.0h-1.0zM125.6 130.6h1.0v1.0h-1.0zM124.0 119.8h1.0v1.0h-1.0zM129.1 121.7h1.0v1.0h-1.0zM127.9 117.9h1.0v1.0h-1.0zM129.5 122.2h1.0v1.0h-1.0zM130.1 117.2h1.0v1.0h-1.0zM114.8 137.3h1.0v1.0h-1.0zM116.7 127.5h1.0v1.0h-1.0zM126.1 108.7h1.0v1.0h-1.0zM120.9 132.6h1.0v1.0h-1.0zM113.6 131.0h1.0v1.0h-1.0zM120.3 118.8h1.0v1.0h-1.0zM123.1 123.0h1.0v1.0h-1.0zM137.0 120.3h1.0v1.0h-1.0zM121.1 138.0h1.0v1.0h-1.0zM117.0 110.5h1.0v1.0h-1.0zM125.1 125.7h1.0v1.0h-1.0zM118.9 138.5h1.0v1.0h-1.0zM122.5 119.1h1.0v1.0h-1.0zM107.0 124.9h1.0v1.0h-1.0zM115.3 129.2h1.0v1.0h-1.0zM126.5 117.7h1.0v1.0h-1.0zM125.5 140.7h1.0v1.0h-1.0zM128.8 120.5h1.0v1.0h-1.0zM120.6 123.2h1.0v1.0h-1.0zM122.5 118.5h1.0v1.0h-1.0zM122.1 131.2h1.0v1.0h-1.0zM124.2 125.1h1.0v1.0h-1.0zM126.4 132.5h1.0v1.0h-1.0zM109.7 117.9h1.0v1.0h-1.0zM117.3 136.3h1.0v1.0h-1.0zM120.2 125.9h1.0v1.0h-1.0zM115.4 132.6h1.0v1.0h-1.0zM120.6 122.7h1.0v1.0h-1.0zM115.4 131.6h1.0v1.0h-1.0zM123.8 113.8h1.0v1.0h-1.0zM126.1 124.0h1.0v1.0h-1.0zM121.3 132.2h1.0v1.0h-1.0zM123.2 139.4h1.0v1.0h-1.0zM118.6 126.0h1.0v1.0h-1.0zM109.0 139.7h1.0v1.0h-1.0zM118.3 140.7h1.0v1.0h-1.0zM126.0 111.2h1.0v1.0h-1.0zM127.9 132.2h1.0v1.0h-1.0zM121.3 129.2h1.0v1.0h-1.0zM122.2 134.1h1.0v1.0h-1.0zM109.5 134.3h1.0v1.0h-1.0zM119.8 123.7h1.0v1.0h-1.0zM126.1 139.4h1.0v1.0h-1.0zM125.3 112.7h1.0v1.0h-1.0zM119.8 133.2h1.0v1.0h-1.0zM124.5 118.2h1.0v1.0h-1.0zM121.1 116.7h1.0v1.0h-1.0zM119.1 135.6h1.0v1.0h-1.0zM128.2 124.5h1.0v1.0h-1.0zM120.1 133.5h1.0v1.0h-1.0zM118.8 126.3h1.0v1.0h-1.0zM130.4 134.3h1.0v1.0h-1.0zM126.5 126.7h1.0v1.0h-1.0zM126.7 114.6h1.0v1.0h-1.0zM116.7 138.2h1.0v1.0h-1.0zM127.0 142.4h1.0v1.0h-1.0zM123.9 130.3h1.0v1.0h-1.0zM118.4 126.0h1.0v1.0h-1.0zM126.3 123.3h1.0v1.0h-1.0zM128.5 122.3h1.0v1.0h-1.0zM115.6 116.8h1.0v1.0h-1.0zM117.3 114.1h1.0v1.0h-1.0zM126.9 129.1h1.0v1.0h-1.0zM118.0 138.4h1.0v1.0h-1.0zM128.5 126.8h1.0v1.0h-1.0zM125.9 134.2h1.0v1.0h-1.0zM119.4 132.1h1.0v1.0h-1.0zM116.5 119.3h1.0v1.0h-1.0zM118.3 133.3h1.0v1.0h-1.0zM119.4 126.7h1.0v1.0h-1.0zM120.8 141.9h1.0v1.0h-1.0zM120.3 140.3h1.0v1.0h-1.0zM119.9 125.2h1.0v1.0h-1.0zM123.3 126.7h1.0v1.0h-1.0zM112.9 141.0h1.0v1.0h-1.0zM123.0 120.2h1.0v1.0h-1.0zM117.1 144.4h1.0v1.0h-1.0zM117.1 138.7h1.0v1.0h-1.0zM120.3 123.6h1.0v1.0h-1.0zM117.9 126.0h1.0v1.0h-1.0zM133.5 122.6h1.0v1.0h-1.0zM132.0 123.5h1.0v1.0h-1.0zM116.9 134.9h1.0v1.0h-1.0zM122.9 132.0h1.0v1.0h-1.0zM111.7 128.2h1.0v1.0h-1.0zM107.4 147.5h1.0v1.0h-1.0zM119.1 129.6h1.0v1.0h-1.0zM116.8 122.4h1.0v1.0h-1.0zM111.3 134.0h1.0v1.0h-1.0zM117.7 132.6h1.0v1.0h-1.0zM119.2 123.1h1.0v1.0h-1.0zM130.2 123.1h1.0v1.0h-1.0zM110.8 128.3h1.0v1.0h-1.0zM116.7 122.7h1.0v1.0h-1.0zM127.9 123.6h1.0v1.0h-1.0zM127.3 124.7h1.0v1.0h-1.0zM123.6 142.2h1.0v1.0h-1.0zM119.2 125.8h1.0v1.0h-1.0zM116.1 128.5h1.0v1.0h-1.0zM131.1 118.9h1.0v1.0h-1.0zM129.6 119.5h1.0v1.0h-1.0zM122.5 112.2h1.0v1.0h-1.0zM130.8 133.1h1.0v1.0h-1.0zM124.2 123.5h1.0v1.0h-1.0zM132.9 113.4h1.0v1.0h-1.0zM113.7 146.6h1.0v1.0h-1.0zM118.9 127.9h1.0v1.0h-1.0zM126.7 123.2h1.0v1.0h-1.0zM117.7 136.4h1.0v1.0h-1.0zM120.5 131.9h1.0v1.0h-1.0zM118.1 130.4h1.0v1.0h-1.0zM116.3 140.5h1.0v1.0h-1.0zM125.1 127.9h1.0v1.0h-1.0zM106.6 129.6h1.0v1.0h-1.0zM127.5 122.5h1.0v1.0h-1.0zM114.9 115.3h1.0v1.0h-1.0zM128.8 121.6h1.0v1.0h-1.0zM117.9 129.4h1.0v1.0h-1.0zM126.8 130.7h1.0v1.0h-1.0zM122.1 123.8h1.0v1.0h-1.0zM125.1 140.4h1.0v1.0h-1.0zM124.9 116.9h1.0v1.0h-1.0zM115.1 131.7h1.0v1.0h-1.0zM114.4 134.4h1.0v1.0h-1.0zM121.6 131.6h1.0v1.0h-1.0zM122.3 133.8h1.0v1.0h-1.0zM117.8 124.2h1.0v1.0h-1.0zM136.1 123.2h1.0v1.0h-1.0zM115.0 136.3h1.0v1.0h-1.0zM122.7 121.6h1.0v1.0h-1.0zM112.7 130.3h1.0v1.0h-1.0zM121.1 141.9h1.0v1.0h-1.0zM117.6 137.1h1.0v1.0h-1.0zM115.3 127.9h1.0v1.0h-1.0zM117.0 128.6h1.0v1.0h-1.0zM120.9 138.7h1.0v1.0h-1.0zM111.8 136.9h1.0v1.0h-1.0zM121.9 119.2h1.0v1.0h-1.0zM124.8 116.2h1.0v1.0h-1.0zM119.9 130.9h1.0v1.0h-1.0zM118.1 132.5h1.0v1.0h-1.0zM119.3 127.9h1.0v1.0h-1.0zM113.7 126.0h1.0v1.0h-1.0zM118.2 123.2h1.0v1.0h-1.0zM119.7 129.9h1.0v1.0h-1.0zM118.0 112.5h1.0v1.0h-1.0zM117.8 131.8h1.0v1.0h-1.0zM119.6 136.5h1.0v1.0h-1.0zM125.4 135.1h1.0v1.0h-1.0zM124.1 120.0h1.0v1.0h-1.0zM117.8 122.8h1.0v1.0h-1.0zM121.4 130.8h1.0v1.0h-1.0zM121.3 127.3h1.0v1.0h-1.0zM123.2 131.4h1.0v1.0h-1.0zM121.2 131.6h1.0v1.0h-1.0zM121.6 119.0h1.0v1.0h-1.0zM121.8 132.9h1.0v1.0h-1.0zM121.1 124.7h1.0v1.0h-1.0zM134.3 126.7h1.0v1.0h-1.0zM118.9 130.2h1.0v1.0h-1.0zM114.8 127.2h1.0v1.0h-1.0zM126.4 139.6h1.0v1.0h-1.0zM121.9 134.6h1.0v1.0h-1.0zM118.2 136.5h1.0v1.0h-1.0zM121.4 124.7h1.0v1.0h-1.0zM118.3 136.1h1.0v1.0h-1.0zM120.2 134.6h1.0v1.0h-1.0zM107.1 134.3h1.0v1.0h-1.0zM127.7 144.0h1.0v1.0h-1.0zM122.1 121.0h1.0v1.0h-1.0zM125.4 121.0h1.0v1.0h-1.0zM126.0 125.6h1.0v1.0h-1.0zM120.9 141.5h1.0v1.0h-1.0zM110.0 126.9h1.0v1.0h-1.0zM122.1 115.6h1.0v1.0h-1.0zM118.5 125.5h1.0v1.0h-1.0zM130.8 118.1h1.0v1.0h-1.0zM119.2 147.0h1.0v1.0h-1.0zM121.9 134.1h1.0v1.0h-1.0zM124.6 118.9h1.0v1.0h-1.0zM122.1 132.7h1.0v1.0h-1.0zM115.9 150.9h1.0v1.0h-1.0zM122.9 133.4h1.0v1.0h-1.0zM132.8 120.6h1.0v1.0h-1.0zM116.5 123.2h1.0v1.0h-1.0zM115.4 132.9h1.0v1.0h-1.0zM113.5 142.1h1.0v1.0h-1.0zM125.6 137.7h1.0v1.0h-1.0zM116.9 132.8h1.0v1.0h-1.0zM128.2 121.4h1.0v1.0h-1.0zM120.2 134.9h1.0v1.0h-1.0zM116.7 141.7h1.0v1.0h-1.0zM129.4 124.1h1.0v1.0h-1.0zM124.2 121.9h1.0v1.0h-1.0zM126.5 122.6h1.0v1.0h-1.0zM124.0 133.5h1.0v1.0h-1.0zM126.0 129.2h1.0v1.0h-1.0zM108.0 140.1h1.0v1.0h-1.0zM115.4 139.4h1.0v1.0h-1.0zM120.7 134.8h1.0v1.0h-1.0zM128.5 134.8h1.0v1.0h-1.0zM132.4 119.1h1.0v1.0h-1.0zM125.8 128.2h1.0v1.0h-1.0zM120.1 128.3h1.0v1.0h-1.0zM117.0 142.7h1.0v1.0h-1.0zM111.7 125.2h1.0v1.0h-1.0zM113.5 136.6h1.0v1.0h-1.0zM117.3 131.4h1.0v1.0h-1.0zM116.7 133.2h1.0v1.0h-1.0zM127.0 127.2h1.0v1.0h-1.0zM125.7 117.0h1.0v1.0h-1.0zM119.4 136.1h1.0v1.0h-1.0zM114.4 136.6h1.0v1.0h-1.0zM116.9 109.4h1.0v1.0h-1.0zM115.7 121.8h1.0v1.0h-1.0zM121.1 127.9h1.0v1.0h-1.0zM118.1 134.3h1.0v1.0h-1.0zM122.7 117.3h1.0v1.0h-1.0zM107.8 143.3h1.0v1.0h-1.0zM110.0 122.5h1.0v1.0h-1.0zM126.2 135.3h1.0v1.0h-1.0zM116.8 126.9h1.0v1.0h-1.0zM121.0 140.0h1.0v1.0h-1.0zM114.0 133.0h1.0v1.0h-1.0zM118.4 138.0h1.0v1.0h-1.0zM128.6 128.4h1.0v1.0h-1.0zM112.5 128.9h1.0v1.0h-1.0zM127.1 137.6h1.0v1.0h-1.0zM114.0 148.5h1.0v1.0h-1.0zM112.8 133.8h1.0v1.0h-1.0zM117.9 127.8h1.0v1.0h-1.0zM116.2 141.0h1.0v1.0h-1.0zM118.1 122.3h1.0v1.0h-1.0zM111.5 129.4h1.0v1.0h-1.0zM117.2 131.1h1.0v1.0h-1.0zM116.8 123.5h1.0v1.0h-1.0zM126.4 129.1h1.0v1.0h-1.0zM122.1 134.0h1.0v1.0h-1.0zM124.2 115.1h1.0v1.0h-1.0zM125.0 131.8h1.0v1.0h-1.0zM132.2 114.0h1.0v1.0h-1.0zM119.9 107.8h1.0v1.0h-1.0zM113.1 135.3h1.0v1.0h-1.0zM123.6 129.3h1.0v1.0h-1.0zM118.9 135.0h1.0v1.0h-1.0zM118.0 131.1h1.0v1.0h-1.0zM128.7 110.9h1.0v1.0h-1.0zM114.5 138.8h1.0v1.0h-1.0zM119.4 126.6h1.0v1.0h-1.0zM119.5 123.4h1.0v1.0h-1.0zM127.1 128.5h1.0v1.0h-1.0zM126.1 101.1h1.0v1.0h-1.0zM124.5 111.3h1.0v1.0h-1.0zM109.4 131.4h1.0v1.0h-1.0zM130.5 114.2h1.0v1.0h-1.0zM123.4 133.9h1.0v1.0h-1.0zM114.6 133.0h1.0v1.0h-1.0zM116.9 115.5h1.0v1.0h-1.0zM117.5 116.6h1.0v1.0h-1.0zM129.4 119.3h1.0v1.0h-1.0zM118.4 118.5h1.0v1.0h-1.0zM122.9 126.1h1.0v1.0h-1.0zM127.3 124.4h1.0v1.0h-1.0zM116.2 121.9h1.0v1.0h-1.0zM124.0 120.9h1.0v1.0h-1.0zM116.1 143.8h1.0v1.0h-1.0zM117.8 127.7h1.0v1.0h-1.0zM129.4 125.7h1.0v1.0h-1.0zM120.3 117.8h1.0v1.0h-1.0zM121.0 133.3h1.0v1.0h-1.0zM119.9 128.4h1.0v1.0h-1.0zM124.1 137.9h1.0v1.0h-1.0zM114.0 125.5h1.0v1.0h-1.0zM118.9 134.4h1.0v1.0h-1.0zM121.8 122.6h1.0v1.0h-1.0zM124.4 112.8h1.0v1.0h-1.0zM122.6 123.3h1.0v1.0h-1.0zM126.4 120.7h1.0v1.0h-1.0zM121.9 119.4h1.0v1.0h-1.0zM113.3 131.8h1.0v1.0h-1.0zM117.0 130.9h1.0v1.0h-1.0zM115.0 126.8h1.0v1.0h-1.0zM114.2 120.9h1.0v1.0h-1.0zM116.4 131.9h1.0v1.0h-1.0zM122.2 127.0h1.0v1.0h-1.0zM124.1 131.3h1.0v1.0h-1.0zM120.8 135.4h1.0v1.0h-1.0zM121.4 125.5h1.0v1.0h-1.0zM123.7 125.3h1.0v1.0h-1.0zM119.0 137.8h1.0v1.0h-1.0zM126.1 126.6h1.0v1.0h-1.0zM114.7 125.1h1.0v1.0h-1.0zM116.5 136.8h1.0v1.0h-1.0zM119.6 125.6h1.0v1.0h-1.0zM125.8 125.6h1.0v1.0h-1.0zM114.3 141.7h1.0v1.0h-1.0zM125.8 136.1h1.0v1.0h-1.0zM125.2 120.7h1.0v1.0h-1.0zM123.2 129.6h1.0v1.0h-1.0zM123.5 124.2h1.0v1.0h-1.0zM121.3 126.5h1.0v1.0h-1.0zM117.5 140.3h1.0v1.0h-1.0zM127.9 115.2h1.0v1.0h-1.0zM121.3 113.2h1.0v1.0h-1.0zM115.1 131.0h1.0v1.0h-1.0zM124.6 123.9h1.0v1.0h-1.0zM124.5 122.4h1.0v1.0h-1.0zM118.5 113.8h1.0v1.0h-1.0zM111.9 137.9h1.0v1.0h-1.0zM110.2 135.5h1.0v1.0h-1.0zM127.7 129.1h1.0v1.0h-1.0zM122.5 122.9h1.0v1.0h-1.0zM118.4 133.3h1.0v1.0h-1.0zM117.5 136.1h1.0v1.0h-1.0zM125.3 133.1h1.0v1.0h-1.0zM122.5 128.1h1.0v1.0h-1.0zM126.1 119.6h1.0v1.0h-1.0zM122.0 130.4h1.0v1.0h-1.0zM109.5 143.8h1.0v1.0h-1.0zM118.9 119.0h1.0v1.0h-1.0zM128.4 112.7h1.0v1.0h-1.0zM121.9 114.0h1.0v1.0h-1.0zM116.5 125.0h1.0v1.0h-1.0zM118.6 137.6h1.0v1.0h-1.0zM120.7 139.2h1.0v1.0h-1.0zM125.1 125.3h1.0v1.0h-1.0zM127.7 126.1h1.0v1.0h-1.0zM112.7 139.2h1.0v1.0h-1.0zM123.8 131.3h1.0v1.0h-1.0zM121.4 136.6h1.0v1.0h-1.0zM114.5 124.5h1.0v1.0h-1.0zM114.6 126.6h1.0v1.0h-1.0zM113.0 137.7h1.0v1.0h-1.0zM125.9 122.3h1.0v1.0h-1.0zM124.6 118.0h1.0v1.0h-1.0zM119.1 132.5h1.0v1.0h-1.0zM128.3 112.7h1.0v1.0h-1.0zM117.4 131.4h1.0v1.0h-1.0zM118.4 138.0h1.0v1.0h-1.0zM112.8 129.7h1.0v1.0h-1.0zM116.9 128.3h1.0v1.0h-1.0zM120.4 134.3h1.0v1.0h-1.0zM117.3 128.3h1.0v1.0h-1.0zM119.7 114.1h1.0v1.0h-1.0zM123.6 128.6h1.0v1.0h-1.0zM115.7 117.8h1.0v1.0h-1.0zM115.7 140.6h1.0v1.0h-1.0zM123.1 136.5h1.0v1.0h-1.0zM112.4 123.6h1.0v1.0h-1.0zM121.7 132.1h1.0v1.0h-1.0zM123.5 126.8h1.0v1.0h-1.0zM124.3 143.4h1.0v1.0h-1.0zM123.5 119.7h1.0v1.0h-1.0zM132.4 127.4h1.0v1.0h-1.0zM120.2 145.8h1.0v1.0h-1.0zM115.2 128.4h1.0v1.0h-1.0zM117.3 131.4h1.0v1.0h-1.0zM115.8 144.4h1.0v1.0h-1.0zM123.6 129.0h1.0v1.0h-1.0zM127.0 127.9h1.0v1.0h-1.0zM111.6 145.5h1.0v1.0h-1.0zM118.4 122.3h1.0v1.0h-1.0zM124.4 119.4h1.0v1.0h-1.0zM107.1 132.4h1.0v1.0h-1.0zM118.7 122.0h1.0v1.0h-1.0zM122.2 119.2h1.0v1.0h-1.0zM115.0 127.1h1.0v1.0h-1.0zM129.8 138.6h1.0v1.0h-1.0zM129.3 117.1h1.0v1.0h-1.0zM124.5 118.2h1.0v1.0h-1.0zM125.2 127.5h1.0v1.0h-1.0zM121.2 127.3h1.0v1.0h-1.0zM122.9 114.4h1.0v1.0h-1.0zM128.1 117.7h1.0v1.0h-1.0zM116.0 123.2h1.0v1.0h-1.0zM116.4 128.7h1.0v1.0h-1.0zM124.8 131.9h1.0v1.0h-1.0zM121.6 128.5h1.0v1.0h-1.0zM130.9 114.5h1.0v1.0h-1.0zM125.6 121.0h1.0v1.0h-1.0zM114.7 125.5h1.0v1.0h-1.0zM116.9 131.9h1.0v1.0h-1.0zM133.7 111.1h1.0v1.0h-1.0zM113.9 143.7h1.0v1.0h-1.0zM120.1 141.4h1.0v1.0h-1.0zM125.9 116.4h1.0v1.0h-1.0zM112.9 131.5h1.0v1.0h-1.0zM127.7 123.8h1.0v1.0h-1.0zM118.6 129.5h1.0v1.0h-1.0zM113.4 121.6h1.0v1.0h-1.0zM121.3 148.9h1.0v1.0h-1.0zM114.2 142.6h1.0v1.0h-1.0zM120.8 120.3h1.0v1.0h-1.0zM106.8 131.4h1.0v1.0h-1.0zM111.2 146.3h1.0v1.0h-1.0zM121.7 130.1h1.0v1.0h-1.0zM107.1 136.6h1.0v1.0h-1.0zM119.5 125.9h1.0v1.0h-1.0zM107.0 131.2h1.0v1.0h-1.0zM127.5 124.9h1.0v1.0h-1.0zM119.9 131.3h1.0v1.0h-1.0zM125.0 130.7h1.0v1.0h-1.0zM129.8 129.3h1.0v1.0h-1.0zM119.3 122.9h1.0v1.0h-1.0zM111.1 116.4h1.0v1.0h-1.0zM124.7 132.1h1.0v1.0h-1.0zM115.6 129.2h1.0v1.0h-1.0zM111.9 121.7h1.0v1.0h-1.0zM120.9 134.7h1.0v1.0h-1.0zM114.0 133.9h1.0v1.0h-1.0zM131.1 128.1h1.0v1.0h-1.0zM129.4 116.7h1.0v1.0h-1.0zM109.2 129.1h1.0v1.0h-1.0zM120.3 129.7h1.0v1.0h-1.0zM118.9 124.4h1.0v1.0h-1.0zM119.0 143.6h1.0v1.0h-1.0zM125.1 114.1h1.0v1.0h-1.0zM124.9 135.4h1.0v1.0h-1.0zM123.4 130.8h1.0v1.0h-1.0zM131.7 133.1h1.0v1.0h-1.0zM129.3 113.9h1.0v1.0h-1.0zM120.2 121.2h1.0v1.0h-1.0zM119.4 130.8h1.0v1.0h-1.0zM111.4 140.7h1.0v1.0h-1.0zM117.1 122.2h1.0v1.0h-1.0zM126.0 118.2h1.0v1.0h-1.0zM121.4 134.3h1.0v1.0h-1.0zM113.0 143.0h1.0v1.0h-1.0zM120.2 130.4h1.0v1.0h-1.0zM121.6 112.4h1.0v1.0h-1.0zM118.7 124.1h1.0v1.0h-1.0zM116.0 133.4h1.0v1.0h-1.0zM112.9 114.1h1.0v1.0h-1.0zM107.5 135.4h1.0v1.0h-1.0zM119.7 122.7h1.0v1.0h-1.0zM112.4 133.2h1.0v1.0h-1.0zM118.0 129.0h1.0v1.0h-1.0zM107.0 133.6h1.0v1.0h-1.0zM120.8 133.3h1.0v1.0h-1.0zM127.3 128.8h1.0v1.0h-1.0zM117.5 133.5h1.0v1.0h-1.0zM123.6 126.8h1.0v1.0h-1.0zM122.6 124.0h1.0v1.0h-1.0zM121.1 137.0h1.0v1.0h-1.0zM114.5 143.4h1.0v1.0h-1.0zM114.1 123.1h1.0v1.0h-1.0zM130.4 127.9h1.0v1.0h-1.0zM108.4 136.3h1.0v1.0h-1.0zM127.3 119.3h1.0v1.0h-1.0zM127.8 121.2h1.0v1.0h-1.0zM114.8 124.2h1.0v1.0h-1.0zM122.0 118.1h1.0v1.0h-1.0zM122.3 119.1h1.0v1.0h-1.0zM121.1 127.9h1.0v1.0h-1.0zM125.8 125.8h1.0v1.0h-1.0zM118.7 114.6h1.0v1.0h-1.0zM114.5 140.1h1.0v1.0h-1.0zM126.9 124.4h1.0v1.0h-1.0zM129.1 120.4h1.0v1.0h-1.0zM126.9 126.9h1.0v1.0h-1.0zM122.4 134.6h1.0v1.0h-1.0zM118.3 130.2h1.0v1.0h-1.0zM115.8 125.3h1.0v1.0h-1.0zM123.8 130.1h1.0v1.0h-1.0zM112.3 134.7h1.0v1.0h-1.0zM115.4 118.2h1.0v1.0h-1.0zM126.4 118.9h1.0v1.0h-1.0zM124.6 140.0h1.0v1.0h-1.0zM119.8 122.4h1.0v1.0h-1.0zM119.0 114.0h1.0v1.0h-1.0zM120.8 134.0h1.0v1.0h-1.0zM121.6 130.9h1.0v1.0h-1.0zM116.8 129.9h1.0v1.0h-1.0zM113.6 125.2h1.0v1.0h-1.0zM123.5 141.7h1.0v1.0h-1.0zM119.6 124.4h1.0v1.0h-1.0zM121.5 145.4h1.0v1.0h-1.0zM114.9 121.6h1.0v1.0h-1.0zM117.8 138.5h1.0v1.0h-1.0zM114.5 131.7h1.0v1.0h-1.0zM111.4 146.9h1.0v1.0h-1.0zM123.3 127.8h1.0v1.0h-1.0zM115.6 136.0h1.0v1.0h-1.0zM127.6 120.5h1.0v1.0h-1.0zM126.2 117.5h1.0v1.0h-1.0zM121.4 116.0h1.0v1.0h-1.0zM116.6 119.8h1.0v1.0h-1.0zM114.2 130.5h1.0v1.0h-1.0zM125.4 127.6h1.0v1.0h-1.0zM112.7 132.4h1.0v1.0h-1.0zM117.3 108.3h1.0v1.0h-1.0zM122.1 134.8h1.0v1.0h-1.0zM126.2 128.2h1.0v1.0h-1.0zM116.3 121.4h1.0v1.0h-1.0zM126.0 122.9h1.0v1.0h-1.0zM121.9 115.2h1.0v1.0h-1.0zM112.3 132.7h1.0v1.0h-1.0zM126.8 119.4h1.0v1.0h-1.0zM117.4 121.3h1.0v1.0h-1.0zM127.3 119.5h1.0v1.0h-1.0zM127.0 110.1h1.0v1.0h-1.0zM113.3 129.0h1.0v1.0h-1.0zM128.9 120.3h1.0v1.0h-1.0zM114.3 133.1h1.0v1.0h-1.0zM120.6 122.9h1.0v1.0h-1.0zM122.6 130.7h1.0v1.0h-1.0zM123.5 136.7h1.0v1.0h-1.0zM118.3 126.0h1.0v1.0h-1.0zM124.9 116.8h1.0v1.0h-1.0zM112.8 134.1h1.0v1.0h-1.0zM109.8 133.1h1.0v1.0h-1.0zM122.6 127.5h1.0v1.0h-1.0zM121.8 133.0h1.0v1.0h-1.0zM127.9 127.2h1.0v1.0h-1.0zM120.4 125.6h1.0v1.0h-1.0zM126.7 139.5h1.0v1.0h-1.0zM117.4 123.5h1.0v1.0h-1.0zM117.3 126.8h1.0v1.0h-1.0zM114.2 147.3h1.0v1.0h-1.0zM108.5 132.9h1.0v1.0h-1.0zM125.2 123.2h1.0v1.0h-1.0zM121.7 123.7h1.0v1.0h-1.0zM117.7 136.4h1.0v1.0h-1.0zM109.1 135.9h1.0v1.0h-1.0zM114.0 139.7h1.0v1.0h-1.0zM118.7 139.0h1.0v1.0h-1.0zM119.9 138.1h1.0v1.0h-1.0zM123.8 121.4h1.0v1.0h-1.0zM121.6 135.3h1.0v1.0h-1.0zM137.5 115.8h1.0v1.0h-1.0zM116.3 136.4h1.0v1.0h-1.0zM115.4 123.8h1.0v1.0h-1.0zM126.3 143.9h1.0v1.0h-1.0zM111.8 138.1h1.0v1.0h-1.0zM127.4 134.3h1.0v1.0h-1.0zM124.0 126.2h1.0v1.0h-1.0zM118.6 114.5h1.0v1.0h-1.0zM126.9 126.0h1.0v1.0h-1.0zM136.5 123.4h1.0v1.0h-1.0zM122.8 127.6h1.0v1.0h-1.0zM126.3 113.5h1.0v1.0h-1.0zM135.4 118.8h1.0v1.0h-1.0zM128.5 121.1h1.0v1.0h-1.0zM108.4 135.6h1.0v1.0h-1.0zM126.9 119.7h1.0v1.0h-1.0zM128.0 123.4h1.0v1.0h-1.0zM110.4 145.9h1.0v1.0h-1.0zM121.6 120.3h1.0v1.0h-1.0zM118.1 111.5h1.0v1.0h-1.0zM124.6 130.7h1.0v1.0h-1.0zM125.3 114.8h1.0v1.0h-1.0zM134.1 105.2h1.0v1.0h-1.0zM121.1 119.0h1.0v1.0h-1.0zM116.0 122.3h1.0v1.0h-1.0zM121.2 112.0h1.0v1.0h-1.0zM131.8 135.6h1.0v1.0h-1.0zM130.5 126.4h1.0v1.0h-1.0zM125.9 134.0h1.0v1.0h-1.0zM121.1 152.6h1.0v1.0h-1.0zM119.8 125.2h1.0v1.0h-1.0zM136.5 83.1h1.0v1.0h-1.0zM112.8 119.6h1.0v1.0h-1.0zM129.2 118.0h1.0v1.0h-1.0zM125.0 140.2h1.0v1.0h-1.0zM113.8 137.9h1.0v1.0h-1.0zM132.6 132.5h1.0v1.0h-1.0zM109.7 137.0h1.0v1.0h-1.0zM122.9 118.3h1.0v1.0h-1.0zM125.5 117.2h1.0v1.0h-1.0zM126.7 134.4h1.0v1.0h-1.0zM128.5 132.6h1.0v1.0h-1.0zM117.7 119.2h1.0v1.0h-1.0zM130.2 120.6h1.0v1.0h-1.0zM143.5 127.6h1.0v1.0h-1.0zM113.8 134.5h1.0v1.0h-1.0zM127.7 124.6h1.0v1.0h-1.0zM119.2 127.2h1.0v1.0h-1.0zM125.1 133.7h1.0v1.0h-1.0zM118.7 127.1h1.0v1.0h-1.0zM125.1 133.7h1.0v1.0h-1.0zM118.1 118.5h1.0v1.0h-1.0zM119.9 133.8h1.0v1.0h-1.0zM127.3 123.1h1.0v1.0h-1.0zM115.4 142.9h1.0v1.0h-1.0zM117.0 124.9h1.0v1.0h-1.0zM131.8 130.8h1.0v1.0h-1.0zM106.9 122.1h1.0v1.0h-1.0zM120.3 120.8h1.0v1.0h-1.0zM127.8 130.9h1.0v1.0h-1.0zM117.0 132.4h1.0v1.0h-1.0zM125.1 125.3h1.0v1.0h-1.0zM123.5 126.6h1.0v1.0h-1.0zM122.1 117.0h1.0v1.0h-1.0zM126.6 112.3h1.0v1.0h-1.0zM108.5 134.5h1.0v1.0h-1.0zM121.0 122.1h1.0v1.0h-1.0zM121.5 122.9h1.0v1.0h-1.0zM122.4 123.8h1.0v1.0h-1.0zM113.2 131.5h1.0v1.0h-1.0zM113.5 132.9h1.0v1.0h-1.0zM113.7 106.2h1.0v1.0h-1.0zM129.9 123.8h1.0v1.0h-1.0zM116.4 125.6h1.0v1.0h-1.0zM115.0 121.3h1.0v1.0h-1.0zM115.8 127.5h1.0v1.0h-1.0zM132.0 115.6h1.0v1.0h-1.0zM136.0 120.3h1.0v1.0h-1.0zM118.2 91.0h1.0v1.0h-1.0zM133.4 125.9h1.0v1.0h-1.0zM121.1 113.0h1.0v1.0h-1.0zM109.5 135.5h1.0v1.0h-1.0zM114.6 143.0h1.0v1.0h-1.0zM130.8 96.0h1.0v1.0h-1.0zM129.8 121.0h1.0v1.0h-1.0zM114.4 140.1h1.0v1.0h-1.0zM115.9 135.4h1.0v1.0h-1.0zM125.6 114.5h1.0v1.0h-1.0zM128.4 117.5h1.0v1.0h-1.0zM127.0 136.9h1.0v1.0h-1.0zM120.4 130.0h1.0v1.0h-1.0zM127.5 121.3h1.0v1.0h-1.0zM129.6 122.7h1.0v1.0h-1.0zM130.6 113.8h1.0v1.0h-1.0zM121.5 127.9h1.0v1.0h-1.0zM118.8 116.4h1.0v1.0h-1.0zM115.9 129.9h1.0v1.0h-1.0zM115.8 126.2h1.0v1.0h-1.0zM131.5 130.9h1.0v1.0h-1.0zM110.9 120.5h1.0v1.0h-1.0zM130.8 122.5h1.0v1.0h-1.0zM127.6 132.8h1.0v1.0h-1.0zM126.5 121.2h1.0v1.0h-1.0zM120.1 118.9h1.0v1.0h-1.0zM120.8 129.2h1.0v1.0h-1.0zM126.6 120.8h1.0v1.0h-1.0zM121.4 127.7h1.0v1.0h-1.0zM114.5 110.4h1.0v1.0h-1.0zM117.9 118.9h1.0v1.0h-1.0zM121.7 119.6h1.0v1.0h-1.0zM113.8 128.6h1.0v1.0h-1.0zM131.2 105.4h1.0v1.0h-1.0zM127.3 110.5h1.0v1.0h-1.0zM136.1 122.3h1.0v1.0h-1.0zM119.5 123.2h1.0v1.0h-1.0zM121.4 122.1h1.0v1.0h-1.0zM132.2 129.6h1.0v1.0h-1.0zM123.6 138.0h1.0v1.0h-1.0zM108.9 139.8h1.0v1.0h-1.0zM123.3 135.7h1.0v1.0h-1.0zM113.3 130.3h1.0v1.0h-1.0zM127.6 118.2h1.0v1.0h-1.0zM135.9 135.3h1.0v1.0h-1.0zM120.1 124.8h1.0v1.0h-1.0zM124.2 138.3h1.0v1.0h-1.0zM121.5 138.4h1.0v1.0h-1.0zM137.7 113.0h1.0v1.0h-1.0zM123.1 111.5h1.0v1.0h-1.0zM117.3 139.8h1.0v1.0h-1.0zM131.3 113.1h1.0v1.0h-1.0zM116.3 134.1h1.0v1.0h-1.0zM119.3 120.9h1.0v1.0h-1.0zM132.1 103.5h1.0v1.0h-1.0zM126.5 129.1h1.0v1.0h-1.0zM130.5 113.7h1.0v1.0h-1.0zM119.7 114.6h1.0v1.0h-1.0zM124.0 124.7h1.0v1.0h-1.0zM116.1 143.8h1.0v1.0h-1.0zM134.5 118.4h1.0v1.0h-1.0zM111.0 141.0h1.0v1.0h-1.0zM114.7 138.0h1.0v1.0h-1.0zM135.7 121.2h1.0v1.0h-1.0zM120.4 123.5h1.0v1.0h-1.0zM120.6 110.1h1.0v1.0h-1.0zM116.3 131.9h1.0v1.0h-1.0zM120.3 119.8h1.0v1.0h-1.0zM125.0 106.7h1.0v1.0h-1.0zM142.4 100.6h1.0v1.0h-1.0zM115.8 127.9h1.0v1.0h-1.0zM110.5 126.6h1.0v1.0h-1.0zM134.7 116.7h1.0v1.0h-1.0zM128.5 111.3h1.0v1.0h-1.0zM125.7 125.5h1.0v1.0h-1.0zM118.4 139.2h1.0v1.0h-1.0zM120.3 139.6h1.0v1.0h-1.0zM131.8 111.3h1.0v1.0h-1.0zM122.3 129.4h1.0v1.0h-1.0zM107.2 134.7h1.0v1.0h-1.0zM121.5 127.6h1.0v1.0h-1.0zM116.1 121.8h1.0v1.0h-1.0zM125.9 120.3h1.0v1.0h-1.0zM131.8 99.6h1.0v1.0h-1.0zM136.5 114.1h1.0v1.0h-1.0zM114.6 127.3h1.0v1.0h-1.0zM115.1 124.2h1.0v1.0h-1.0zM106.9 145.7h1.0v1.0h-1.0zM118.3 146.7h1.0v1.0h-1.0zM112.9 128.2h1.0v1.0h-1.0zM113.6 127.4h1.0v1.0h-1.0zM133.7 107.0h1.0v1.0h-1.0zM119.5 107.2h1.0v1.0h-1.0zM115.2 111.2h1.0v1.0h-1.0zM121.9 104.5h1.0v1.0h-1.0zM121.0 129.6h1.0v1.0h-1.0zM115.8 113.6h1.0v1.0h-1.0zM123.5 120.6h1.0v1.0h-1.0zM114.4 130.6h1.0v1.0h-1.0zM125.6 133.0h1.0v1.0h-1.0zM113.0 145.1h1.0v1.0h-1.0zM136.1 123.0h1.0v1.0h-1.0zM116.8 136.3h1.0v1.0h-1.0zM115.4 125.7h1.0v1.0h-1.0zM125.7 115.3h1.0v1.0h-1.0zM127.4 104.8h1.0v1.0h-1.0zM127.0 99.3h1.0v1.0h-1.0zM132.0 145.8h1.0v1.0h-1.0zM129.7 129.6h1.0v1.0h-1.0zM124.2 140.0h1.0v1.0h-1.0zM125.7 136.0h1.0v1.0h-1.0zM114.5 125.7h1.0v1.0h-1.0zM123.7 108.4h1.0v1.0h-1.0zM112.9 125.1h1.0v1.0h-1.0zM135.4 110.3h1.0v1.0h-1.0zM128.5 144.0h1.0v1.0h-1.0zM121.8 116.9h1.0v1.0h-1.0zM118.0 133.9h1.0v1.0h-1.0zM124.4 109.6h1.0v1.0h-1.0zM133.3 100.6h1.0v1.0h-1.0zM118.7 136.4h1.0v1.0h-1.0zM121.4 132.6h1.0v1.0h-1.0zM122.9 132.5h1.0v1.0h-1.0zM126.9 114.0h1.0v1.0h-1.0zM121.3 121.6h1.0v1.0h-1.0zM124.5 144.5h1.0v1.0h-1.0zM128.5 115.6h1.0v1.0h-1.0zM118.3 119.1h1.0v1.0h-1.0zM130.7 130.2h1.0v1.0h-1.0zM125.3 114.2h1.0v1.0h-1.0zM127.4 128.5h1.0v1.0h-1.0zM121.7 124.0h1.0v1.0h-1.0zM134.7 125.4h1.0v1.0h-1.0zM129.0 141.2h1.0v1.0h-1.0zM119.2 133.1h1.0v1.0h-1.0zM125.1 113.3h1.0v1.0h-1.0zM124.4 112.1h1.0v1.0h-1.0zM125.9 124.4h1.0v1.0h-1.0zM123.0 133.7h1.0v1.0h-1.0zM99.8 118.7h1.0v1.0h-1.0zM109.5 120.4h1.0v1.0h-1.0zM116.1 122.0h1.0v1.0h-1.0zM138.9 107.2h1.0v1.0h-1.0zM124.1 122.6h1.0v1.0h-1.0zM106.9 125.6h1.0v1.0h-1.0zM124.8 117.3h1.0v1.0h-1.0zM104.4 157.4h1.0v1.0h-1.0zM127.2 101.7h1.0v1.0h-1.0zM117.6 116.5h1.0v1.0h-1.0zM120.2 121.2h1.0v1.0h-1.0zM113.1 126.5h1.0v1.0h-1.0zM124.8 106.4h1.0v1.0h-1.0zM118.5 116.6h1.0v1.0h-1.0zM126.3 130.6h1.0v1.0h-1.0zM120.1 122.4h1.0v1.0h-1.0zM115.6 146.5h1.0v1.0h-1.0zM116.3 126.7h1.0v1.0h-1.0zM131.4 114.1h1.0v1.0h-1.0zM123.1 125.3h1.0v1.0h-1.0zM116.9 128.2h1.0v1.0h-1.0zM124.9 138.3h1.0v1.0h-1.0zM120.4 124.7h1.0v1.0h-1.0zM143.2 116.4h1.0v1.0h-1.0zM120.4 133.6h1.0v1.0h-1.0zM120.8 130.8h1.0v1.0h-1.0zM120.6 131.9h1.0v1.0h-1.0zM132.2 123.7h1.0v1.0h-1.0zM124.1 122.9h1.0v1.0h-1.0zM119.8 121.8h1.0v1.0h-1.0zM111.7 128.6h1.0v1.0h-1.0zM127.2 146.5h1.0v1.0h-1.0zM135.2 115.3h1.0v1.0h-1.0zM135.9 118.7h1.0v1.0h-1.0zM114.6 143.7h1.0v1.0h-1.0zM111.7 129.8h1.0v1.0h-1.0zM125.1 122.0h1.0v1.0h-1.0zM114.8 125.6h1.0v1.0h-1.0zM115.0 133.6h1.0v1.0h-1.0zM136.6 110.5h1.0v1.0h-1.0zM120.3 118.1h1.0v1.0h-1.0zM119.0 107.4h1.0v1.0h-1.0zM124.0 120.9h1.0v1.0h-1.0zM131.0 110.7h1.0v1.0h-1.0zM109.6 138.6h1.0v1.0h-1.0zM138.2 108.0h1.0v1.0h-1.0zM111.7 123.9h1.0v1.0h-1.0zM115.4 117.2h1.0v1.0h-1.0zM117.1 128.2h1.0v1.0h-1.0zM114.2 91.9h1.0v1.0h-1.0zM109.9 131.4h1.0v1.0h-1.0zM128.5 103.4h1.0v1.0h-1.0zM123.0 132.2h1.0v1.0h-1.0zM122.2 118.7h1.0v1.0h-1.0zM120.5 137.7h1.0v1.0h-1.0zM121.4 129.4h1.0v1.0h-1.0zM123.7 118.6h1.0v1.0h-1.0zM115.2 123.6h1.0v1.0h-1.0zM121.4 119.5h1.0v1.0h-1.0zM126.9 130.8h1.0v1.0h-1.0zM134.9 107.4h1.0v1.0h-1.0zM128.8 117.7h1.0v1.0h-1.0zM120.5 111.4h1.0v1.0h-1.0zM127.4 135.4h1.0v1.0h-1.0zM122.3 108.4h1.0v1.0h-1.0zM124.5 117.9h1.0v1.0h-1.0zM139.9 110.7h1.0v1.0h-1.0zM111.0 115.5h1.0v1.0h-1.0zM122.0 124.5h1.0v1.0h-1.0zM119.2 148.3h1.0v1.0h-1.0zM122.4 116.0h1.0v1.0h-1.0zM109.4 121.4h1.0v1.0h-1.0zM129.4 122.2h1.0v1.0h-1.0zM130.5 126.3h1.0v1.0h-1.0zM131.5 130.5h1.0v1.0h-1.0zM117.9 113.2h1.0v1.0h-1.0zM119.1 99.6h1.0v1.0h-1.0zM120.8 133.5h1.0v1.0h-1.0zM136.1 127.3h1.0v1.0h-1.0zM125.4 109.9h1.0v1.0h-1.0zM127.7 129.9h1.0v1.0h-1.0zM115.6 129.3h1.0v1.0h-1.0zM134.0 103.3h1.0v1.0h-1.0zM127.0 126.4h1.0v1.0h-1.0zM121.5 117.3h1.0v1.0h-1.0zM128.2 144.7h1.0v1.0h-1.0zM139.7 114.6h1.0v1.0h-1.0zM114.3 131.6h1.0v1.0h-1.0zM117.2 111.9h1.0v1.0h-1.0zM102.5 139.4h1.0v1.0h-1.0zM127.9 130.8h1.0v1.0h-1.0zM125.7 118.8h1.0v1.0h-1.0zM117.2 128.9h1.0v1.0h-1.0zM112.6 135.1h1.0v1.0h-1.0zM122.7 111.9h1.0v1.0h-1.0zM132.0 124.6h1.0v1.0h-1.0zM128.0 119.7h1.0v1.0h-1.0zM104.8 123.6h1.0v1.0h-1.0zM108.8 131.8h1.0v1.0h-1.0zM119.5 98.1h1.0v1.0h-1.0zM122.9 128.6h1.0v1.0h-1.0zM128.2 109.6h1.0v1.0h-1.0zM134.6 108.7h1.0v1.0h-1.0zM122.5 113.0h1.0v1.0h-1.0zM116.4 131.7h1.0v1.0h-1.0zM115.8 127.8h1.0v1.0h-1.0zM134.3 105.4h1.0v1.0h-1.0zM116.1 115.8h1.0v1.0h-1.0zM117.2 125.0h1.0v1.0h-1.0zM106.3 126.3h1.0v1.0h-1.0zM128.3 123.0h1.0v1.0h-1.0zM113.0 119.6h1.0v1.0h-1.0zM116.5 128.0h1.0v1.0h-1.0zM118.9 131.0h1.0v1.0h-1.0zM113.6 138.2h1.0v1.0h-1.0zM132.1 107.2h1.0v1.0h-1.0zM132.5 111.1h1.0v1.0h-1.0zM126.9 112.9h1.0v1.0h-1.0zM118.8 123.9h1.0v1.0h-1.0zM123.3 118.4h1.0v1.0h-1.0zM137.2 128.5h1.0v1.0h-1.0zM112.0 131.0h1.0v1.0h-1.0zM123.1 138.8h1.0v1.0h-1.0zM138.6 116.9h1.0v1.0h-1.0zM125.1 138.5h1.0v1.0h-1.0zM121.5 125.8h1.0v1.0h-1.0zM142.1 107.3h1.0v1.0h-1.0zM117.6 124.9h1.0v1.0h-1.0zM119.8 142.8h1.0v1.0h-1.0zM110.2 119.1h1.0v1.0h-1.0zM133.8 110.3h1.0v1.0h-1.0zM114.5 144.2h1.0v1.0h-1.0zM129.3 132.4h1.0v1.0h-1.0zM105.1 115.0h1.0v1.0h-1.0zM126.4 120.5h1.0v1.0h-1.0zM109.4 157.6h1.0v1.0h-1.0zM125.0 111.5h1.0v1.0h-1.0zM125.5 120.0h1.0v1.0h-1.0zM120.7 121.2h1.0v1.0h-1.0zM126.8 127.6h1.0v1.0h-1.0zM114.8 118.5h1.0v1.0h-1.0zM127.7 118.9h1.0v1.0h-1.0zM127.2 134.6h1.0v1.0h-1.0zM114.4 124.1h1.0v1.0h-1.0zM129.7 145.5h1.0v1.0h-1.0zM118.4 133.0h1.0v1.0h-1.0zM123.8 105.0h1.0v1.0h-1.0zM125.3 127.2h1.0v1.0h-1.0zM126.1 124.0h1.0v1.0h-1.0zM126.8 118.0h1.0v1.0h-1.0zM122.3 133.6h1.0v1.0h-1.0zM118.8 132.0h1.0v1.0h-1.0zM113.6 109.7h1.0v1.0h-1.0zM125.2 146.5h1.0v1.0h-1.0zM124.6 122.5h1.0v1.0h-1.0zM112.3 123.9h1.0v1.0h-1.0zM133.9 108.2h1.0v1.0h-1.0zM124.3 129.9h1.0v1.0h-1.0zM130.2 111.4h1.0v1.0h-1.0zM132.4 107.5h1.0v1.0h-1.0zM132.2 128.2h1.0v1.0h-1.0zM109.0 135.3h1.0v1.0h-1.0zM133.1 118.5h1.0v1.0h-1.0zM141.7 117.2h1.0v1.0h-1.0zM119.8 137.1h1.0v1.0h-1.0zM102.8 128.6h1.0v1.0h-1.0zM122.1 122.7h1.0v1.0h-1.0zM113.8 124.0h1.0v1.0h-1.0zM118.9 109.3h1.0v1.0h-1.0zM124.5 108.0h1.0v1.0h-1.0zM138.7 111.9h1.0v1.0h-1.0zM118.6 117.5h1.0v1.0h-1.0zM119.3 131.9h1.0v1.0h-1.0zM129.4 121.6h1.0v1.0h-1.0zM119.7 122.4h1.0v1.0h-1.0zM125.3 132.9h1.0v1.0h-1.0zM127.4 98.5h1.0v1.0h-1.0zM133.3 139.1h1.0v1.0h-1.0zM122.9 127.5h1.0v1.0h-1.0zM123.0 110.4h1.0v1.0h-1.0zM121.1 119.7h1.0v1.0h-1.0zM124.2 105.0h1.0v1.0h-1.0zM118.0 128.7h1.0v1.0h-1.0zM119.0 122.0h1.0v1.0h-1.0zM109.1 115.5h1.0v1.0h-1.0zM126.7 108.9h1.0v1.0h-1.0zM108.9 123.3h1.0v1.0h-1.0zM114.9 126.5h1.0v1.0h-1.0zM117.1 129.0h1.0v1.0h-1.0zM126.4 105.2h1.0v1.0h-1.0zM123.3 119.1h1.0v1.0h-1.0zM128.9 119.6h1.0v1.0h-1.0zM116.3 131.7h1.0v1.0h-1.0zM127.4 134.5h1.0v1.0h-1.0zM127.8 130.7h1.0v1.0h-1.0zM124.2 134.8h1.0v1.0h-1.0zM125.0 124.7h1.0v1.0h-1.0zM113.6 150.5h1.0v1.0h-1.0zM123.6 120.4h1.0v1.0h-1.0zM120.1 121.7h1.0v1.0h-1.0zM128.8 110.9h1.0v1.0h-1.0zM107.7 121.4h1.0v1.0h-1.0zM110.4 121.9h1.0v1.0h-1.0zM118.7 136.4h1.0v1.0h-1.0zM132.4 131.3h1.0v1.0h-1.0zM123.5 108.4h1.0v1.0h-1.0zM116.9 121.5h1.0v1.0h-1.0zM108.0 118.7h1.0v1.0h-1.0zM119.8 130.2h1.0v1.0h-1.0zM119.8 123.3h1.0v1.0h-1.0zM119.4 115.9h1.0v1.0h-1.0zM109.8 120.0h1.0v1.0h-1.0zM132.5 128.7h1.0v1.0h-1.0zM129.0 112.8h1.0v1.0h-1.0zM135.5 117.9h1.0v1.0h-1.0zM127.6 126.2h1.0v1.0h-1.0zM111.7 132.2h1.0v1.0h-1.0zM121.9 125.1h1.0v1.0h-1.0zM125.7 123.9h1.0v1.0h-1.0zM118.0 127.3h1.0v1.0h-1.0zM119.5 122.7h1.0v1.0h-1.0zM124.0 104.5h1.0v1.0h-1.0zM119.9 115.7h1.0v1.0h-1.0zM117.7 136.4h1.0v1.0h-1.0zM110.4 120.2h1.0v1.0h-1.0zM128.3 96.3h1.0v1.0h-1.0zM109.1 120.1h1.0v1.0h-1.0zM123.5 121.9h1.0v1.0h-1.0zM108.1 145.3h1.0v1.0h-1.0zM124.9 112.9h1.0v1.0h-1.0zM131.5 134.1h1.0v1.0h-1.0zM115.1 135.5h1.0v1.0h-1.0zM120.9 130.6h1.0v1.0h-1.0zM128.3 112.0h1.0v1.0h-1.0zM128.5 127.2h1.0v1.0h-1.0zM118.7 111.9h1.0v1.0h-1.0zM130.6 121.2h1.0v1.0h-1.0zM120.1 130.5h1.0v1.0h-1.0zM129.6 106.1h1.0v1.0h-1.0zM123.0 135.2h1.0v1.0h-1.0zM121.8 143.4h1.0v1.0h-1.0zM121.8 132.7h1.0v1.0h-1.0zM134.6 123.7h1.0v1.0h-1.0zM127.3 146.9h1.0v1.0h-1.0zM120.3 145.7h1.0v1.0h-1.0zM132.0 115.2h1.0v1.0h-1.0zM129.0 129.5h1.0v1.0h-1.0zM124.7 125.8h1.0v1.0h-1.0zM129.6 132.6h1.0v1.0h-1.0zM115.7 126.7h1.0v1.0h-1.0zM130.5 116.6h1.0v1.0h-1.0zM121.1 117.6h1.0v1.0h-1.0zM116.9 125.4h1.0v1.0h-1.0zM121.7 146.9h1.0v1.0h-1.0zM126.5 137.5h1.0v1.0h-1.0zM124.9 140.9h1.0v1.0h-1.0zM117.1 129.9h1.0v1.0h-1.0zM125.2 122.3h1.0v1.0h-1.0zM121.5 116.2h1.0v1.0h-1.0zM125.7 108.4h1.0v1.0h-1.0zM126.2 124.1h1.0v1.0h-1.0zM121.8 127.1h1.0v1.0h-1.0zM129.9 118.1h1.0v1.0h-1.0zM128.4 104.6h1.0v1.0h-1.0zM115.2 95.6h1.0v1.0h-1.0zM140.5 106.2h1.0v1.0h-1.0zM119.7 140.8h1.0v1.0h-1.0zM112.7 140.2h1.0v1.0h-1.0zM131.3 138.3h1.0v1.0h-1.0zM136.2 135.9h1.0v1.0h-1.0zM115.4 127.1h1.0v1.0h-1.0zM124.8 107.2h1.0v1.0h-1.0zM104.3 145.9h1.0v1.0h-1.0zM118.9 121.5h1.0v1.0h-1.0zM117.4 123.0h1.0v1.0h-1.0zM122.6 117.9h1.0v1.0h-1.0zM120.0 104.2h1.0v1.0h-1.0zM116.2 124.6h1.0v1.0h-1.0zM132.5 140.2h1.0v1.0h-1.0zM133.0 133.2h1.0v1.0h-1.0zM127.4 108.1h1.0v1.0h-1.0zM131.4 99.0h1.0v1.0h-1.0zM113.8 140.8h1.0v1.0h-1.0zM120.2 136.8h1.0v1.0h-1.0zM125.6 106.8h1.0v1.0h-1.0zM120.9 117.6h1.0v1.0h-1.0zM122.7 148.6h1.0v1.0h-1.0zM119.0 117.4h1.0v1.0h-1.0zM123.0 119.0h1.0v1.0h-1.0zM113.6 121.3h1.0v1.0h-1.0zM123.5 128.6h1.0v1.0h-1.0zM114.8 119.0h1.0v1.0h-1.0zM106.9 129.3h1.0v1.0h-1.0zM116.7 117.7h1.0v1.0h-1.0zM121.9 115.7h1.0v1.0h-1.0zM122.6 100.8h1.0v1.0h-1.0zM133.4 130.6h1.0v1.0h-1.0zM115.8 147.7h1.0v1.0h-1.0zM119.6 129.4h1.0v1.0h-1.0zM117.9 136.9h1.0v1.0h-1.0zM124.7 128.2h1.0v1.0h-1.0zM119.7 125.9h1.0v1.0h-1.0zM139.1 102.9h1.0v1.0h-1.0zM123.4 118.4h1.0v1.0h-1.0zM128.6 100.4h1.0v1.0h-1.0zM131.1 115.7h1.0v1.0h-1.0zM123.1 117.2h1.0v1.0h-1.0zM113.0 114.2h1.0v1.0h-1.0zM113.8 108.2h1.0v1.0h-1.0zM120.4 122.6h1.0v1.0h-1.0zM123.5 122.0h1.0v1.0h-1.0zM135.5 133.7h1.0v1.0h-1.0zM116.7 113.5h1.0v1.0h-1.0zM118.8 119.8h1.0v1.0h-1.0zM122.0 112.3h1.0v1.0h-1.0zM133.7 128.1h1.0v1.0h-1.0zM121.3 119.8h1.0v1.0h-1.0zM115.4 138.6h1.0v1.0h-1.0zM121.3 137.3h1.0v1.0h-1.0zM99.9 119.4h1.0v1.0h-1.0zM121.8 148.4h1.0v1.0h-1.0zM129.8 104.2h1.0v1.0h-1.0zM129.1 118.2h1.0v1.0h-1.0zM124.9 139.7h1.0v1.0h-1.0zM131.8 113.5h1.0v1.0h-1.0zM144.7 116.6h1.0v1.0h-1.0zM128.0 107.0h1.0v1.0h-1.0zM129.8 131.8h1.0v1.0h-1.0zM128.3 126.8h1.0v1.0h-1.0zM121.4 125.3h1.0v1.0h-1.0zM105.6 130.0h1.0v1.0h-1.0zM130.5 121.4h1.0v1.0h-1.0zM121.3 126.9h1.0v1.0h-1.0zM131.6 132.3h1.0v1.0h-1.0zM125.0 117.9h1.0v1.0h-1.0zM114.7 113.1h1.0v1.0h-1.0zM124.1 120.9h1.0v1.0h-1.0zM120.1 132.2h1.0v1.0h-1.0zM124.5 127.8h1.0v1.0h-1.0zM126.4 127.4h1.0v1.0h-1.0zM120.5 128.8h1.0v1.0h-1.0zM105.6 133.4h1.0v1.0h-1.0zM110.3 129.9h1.0v1.0h-1.0zM118.2 136.2h1.0v1.0h-1.0zM126.7 113.1h1.0v1.0h-1.0zM129.2 128.4h1.0v1.0h-1.0zM123.1 124.9h1.0v1.0h-1.0zM126.1 135.4h1.0v1.0h-1.0zM130.6 106.8h1.0v1.0h-1.0zM119.4 123.9h1.0v1.0h-1.0zM133.4 132.5h1.0v1.0h-1.0zM117.1 137.0h1.0v1.0h-1.0zM122.0 123.1h1.0v1.0h-1.0zM129.9 107.2h1.0v1.0h-1.0zM127.5 130.9h1.0v1.0h-1.0zM125.4 110.2h1.0v1.0h-1.0zM118.4 140.1h1.0v1.0h-1.0zM122.6 110.2h1.0v1.0h-1.0zM132.1 106.8h1.0v1.0h-1.0zM119.1 118.9h1.0v1.0h-1.0zM117.5 126.1h1.0v1.0h-1.0zM123.6 116.5h1.0v1.0h-1.0zM116.9 129.8h1.0v1.0h-1.0zM125.5 136.4h1.0v1.0h-1.0zM141.0 88.3h1.0v1.0h-1.0zM117.1 117.8h1.0v1.0h-1.0zM130.7 106.1h1.0v1.0h-1.0zM131.2 130.8h1.0v1.0h-1.0zM117.7 124.1h1.0v1.0h-1.0zM123.4 114.4h1.0v1.0h-1.0zM128.0 120.0h1.0v1.0h-1.0zM115.6 113.1h1.0v1.0h-1.0zM126.3 111.4h1.0v1.0h-1.0zM135.8 114.7h1.0v1.0h-1.0zM131.1 138.3h1.0v1.0h-1.0zM115.7 123.0h1.0v1.0h-1.0zM131.6 124.7h1.0v1.0h-1.0zM114.0 122.2h1.0v1.0h-1.0zM142.4 112.0h1.0v1.0h-1.0zM126.4 125.4h1.0v1.0h-1.0zM123.5 119.2h1.0v1.0h-1.0zM116.2 134.8h1.0v1.0h-1.0zM130.9 114.2h1.0v1.0h-1.0zM138.7 113.2h1.0v1.0h-1.0zM126.5 127.7h1.0v1.0h-1.0zM129.4 131.0h1.0v1.0h-1.0zM130.0 126.3h1.0v1.0h-1.0zM128.0 130.3h1.0v1.0h-1.0zM140.3 121.5h1.0v1.0h-1.0zM129.0 132.2h1.0v1.0h-1.0zM126.2 118.0h1.0v1.0h-1.0zM131.8 108.5h1.0v1.0h-1.0zM110.4 128.6h1.0v1.0h-1.0zM106.1 136.3h1.0v1.0h-1.0zM119.8 126.1h1.0v1.0h-1.0zM121.5 128.9h1.0v1.0h-1.0zM122.3 119.2h1.0v1.0h-1.0zM117.5 135.5h1.0v1.0h-1.0zM125.3 141.2h1.0v1.0h-1.0zM126.0 122.7h1.0v1.0h-1.0zM108.5 127.1h1.0v1.0h-1.0zM130.1 121.6h1.0v1.0h-1.0zM123.0 140.6h1.0v1.0h-1.0zM119.0 136.2h1.0v1.0h-1.0zM131.9 105.3h1.0v1.0h-1.0zM121.2 118.2h1.0v1.0h-1.0zM129.9 115.6h1.0v1.0h-1.0zM123.7 112.1h1.0v1.0h-1.0zM122.2 124.7h1.0v1.0h-1.0zM126.1 135.5h1.0v1.0h-1.0zM122.9 127.2h1.0v1.0h-1.0zM123.0 125.6h1.0v1.0h-1.0zM143.5 99.9h1.0v1.0h-1.0zM120.2 127.1h1.0v1.0h-1.0zM135.0 114.5h1.0v1.0h-1.0zM121.6 134.6h1.0v1.0h-1.0zM127.5 101.4h1.0v1.0h-1.0zM125.2 109.6h1.0v1.0h-1.0zM130.7 116.1h1.0v1.0h-1.0zM134.3 130.1h1.0v1.0h-1.0zM119.3 116.4h1.0v1.0h-1.0zM113.6 125.7h1.0v1.0h-1.0zM133.8 125.4h1.0v1.0h-1.0zM132.9 115.7h1.0v1.0h-1.0zM115.4 150.8h1.0v1.0h-1.0zM108.0 134.4h1.0v1.0h-1.0zM138.5 105.8h1.0v1.0h-1.0zM116.9 109.5h1.0v1.0h-1.0zM131.1 121.6h1.0v1.0h-1.0zM118.7 131.6h1.0v1.0h-1.0zM122.6 126.9h1.0v1.0h-1.0zM115.9 135.9h1.0v1.0h-1.0zM110.5 141.0h1.0v1.0h-1.0zM123.7 114.2h1.0v1.0h-1.0zM125.3 130.7h1.0v1.0h-1.0zM108.2 121.6h1.0v1.0h-1.0zM116.9 111.3h1.0v1.0h-1.0zM131.6 116.3h1.0v1.0h-1.0zM126.7 120.6h1.0v1.0h-1.0zM136.4 127.8h1.0v1.0h-1.0zM119.2 108.6h1.0v1.0h-1.0zM116.0 123.2h1.0v1.0h-1.0zM118.7 134.9h1.0v1.0h-1.0zM123.3 125.8h1.0v1.0h-1.0zM125.4 123.3h1.0v1.0h-1.0zM121.5 133.5h1.0v1.0h-1.0zM130.3 119.7h1.0v1.0h-1.0zM113.9 110.4h1.0v1.0h-1.0zM134.8 96.5h1.0v1.0h-1.0zM117.6 127.8h1.0v1.0h-1.0zM123.4 109.9h1.0v1.0h-1.0zM129.0 143.9h1.0v1.0h-1.0zM115.5 138.1h1.0v1.0h-1.0zM136.2 114.3h1.0v1.0h-1.0zM144.9 119.9h1.0v1.0h-1.0zM125.4 110.8h1.0v1.0h-1.0zM128.6 109.2h1.0v1.0h-1.0zM118.2 136.0h1.0v1.0h-1.0zM125.2 121.3h1.0v1.0h-1.0zM136.9 117.5h1.0v1.0h-1.0zM130.5 122.8h1.0v1.0h-1.0zM124.0 124.6h1.0v1.0h-1.0zM123.7 123.4h1.0v1.0h-1.0zM119.6 115.3h1.0v1.0h-1.0zM126.1 123.6h1.0v1.0h-1.0zM117.6 112.8h1.0v1.0h-1.0zM118.1 121.3h1.0v1.0h-1.0zM123.5 125.1h1.0v1.0h-1.0zM118.1 122.2h1.0v1.0h-1.0zM125.1 87.6h1.0v1.0h-1.0zM129.0 104.8h1.0v1.0h-1.0zM121.1 107.6h1.0v1.0h-1.0zM131.9 111.4h1.0v1.0h-1.0zM126.5 118.6h1.0v1.0h-1.0zM120.6 102.6h1.0v1.0h-1.0zM124.2 128.9h1.0v1.0h-1.0zM120.4 146.0h1.0v1.0h-1.0zM123.3 127.2h1.0v1.0h-1.0zM121.3 124.2h1.0v1.0h-1.0zM123.8 112.3h1.0v1.0h-1.0zM143.9 107.2h1.0v1.0h-1.0zM122.5 128.9h1.0v1.0h-1.0zM127.5 112.7h1.0v1.0h-1.0zM123.1 117.5h1.0v1.0h-1.0zM115.4 119.9h1.0v1.0h-1.0zM122.0 115.9h1.0v1.0h-1.0zM131.6 112.9h1.0v1.0h-1.0zM128.0 117.3h1.0v1.0h-1.0zM125.2 124.9h1.0v1.0h-1.0zM128.2 112.6h1.0v1.0h-1.0zM120.7 111.4h1.0v1.0h-1.0zM120.6 131.8h1.0v1.0h-1.0zM131.9 120.0h1.0v1.0h-1.0zM129.7 104.9h1.0v1.0h-1.0zM124.3 103.8h1.0v1.0h-1.0zM108.1 124.4h1.0v1.0h-1.0zM123.9 101.9h1.0v1.0h-1.0zM137.7 130.5h1.0v1.0h-1.0zM117.5 129.6h1.0v1.0h-1.0zM110.8 138.7h1.0v1.0h-1.0zM117.3 104.2h1.0v1.0h-1.0zM124.6 113.8h1.0v1.0h-1.0zM138.7 108.2h1.0v1.0h-1.0zM116.5 123.5h1.0v1.0h-1.0zM122.2 135.3h1.0v1.0h-1.0zM115.8 148.2h1.0v1.0h-1.0zM118.5 123.4h1.0v1.0h-1.0zM129.6 121.2h1.0v1.0h-1.0zM122.3 116.6h1.0v1.0h-1.0zM122.6 108.2h1.0v1.0h-1.0zM125.0 103.7h1.0v1.0h-1.0zM131.5 105.5h1.0v1.0h-1.0zM129.6 146.7h1.0v1.0h-1.0zM130.8 122.8h1.0v1.0h-1.0zM113.4 134.7h1.0v1.0h-1.0zM121.3 129.1h1.0v1.0h-1.0zM113.1 132.6h1.0v1.0h-1.0zM116.5 121.6h1.0v1.0h-1.0zM127.6 118.5h1.0v1.0h-1.0zM116.1 130.1h1.0v1.0h-1.0zM116.8 136.1h1.0v1.0h-1.0zM103.5 122.7h1.0v1.0h-1.0zM132.1 106.2h1.0v1.0h-1.0zM109.9 128.9h1.0v1.0h-1.0zM117.7 112.5h1.0v1.0h-1.0zM127.8 120.0h1.0v1.0h-1.0zM129.2 113.7h1.0v1.0h-1.0zM120.0 135.2h1.0v1.0h-1.0zM133.5 98.4h1.0v1.0h-1.0zM126.6 124.5h1.0v1.0h-1.0zM110.5 135.7h1.0v1.0h-1.0zM102.8 139.0h1.0v1.0h-1.0zM111.6 138.4h1.0v1.0h-1.0zM127.5 107.2h1.0v1.0h-1.0zM121.6 126.2h1.0v1.0h-1.0zM121.7 135.5h1.0v1.0h-1.0zM114.2 125.6h1.0v1.0h-1.0zM128.5 121.0h1.0v1.0h-1.0zM119.9 109.2h1.0v1.0h-1.0zM124.2 133.1h1.0v1.0h-1.0zM122.2 105.2h1.0v1.0h-1.0zM137.2 107.9h1.0v1.0h-1.0zM126.7 113.6h1.0v1.0h-1.0zM109.9 119.3h1.0v1.0h-1.0zM115.2 137.9h1.0v1.0h-1.0zM138.6 125.8h1.0v1.0h-1.0zM125.1 136.5h1.0v1.0h-1.0zM122.3 111.2h1.0v1.0h-1.0zM134.8 122.1h1.0v1.0h-1.0zM123.4 118.9h1.0v1.0h-1.0zM123.9 115.1h1.0v1.0h-1.0zM122.3 138.2h1.0v1.0h-1.0zM125.4 105.8h1.0v1.0h-1.0zM128.8 105.7h1.0v1.0h-1.0zM113.0 134.4h1.0v1.0h-1.0zM136.7 132.2h1.0v1.0h-1.0zM111.9 128.3h1.0v1.0h-1.0zM129.7 134.4h1.0v1.0h-1.0zM119.7 100.1h1.0v1.0h-1.0zM128.4 123.8h1.0v1.0h-1.0zM116.6 125.4h1.0v1.0h-1.0zM126.3 99.2h1.0v1.0h-1.0zM130.5 117.0h1.0v1.0h-1.0zM120.9 104.8h1.0v1.0h-1.0zM127.3 113.8h1.0v1.0h-1.0zM127.7 120.8h1.0v1.0h-1.0zM131.3 120.6h1.0v1.0h-1.0zM125.9 98.5h1.0v1.0h-1.0zM111.9 127.6h1.0v1.0h-1.0zM148.3 115.8h1.0v1.0h-1.0zM113.9 123.4h1.0v1.0h-1.0zM128.4 115.8h1.0v1.0h-1.0zM129.4 104.4h1.0v1.0h-1.0zM116.6 131.6h1.0v1.0h-1.0z" fill="#000" fill-opacity="1.0"/>
<path d="M135.5 92.3h1.0v1.0h-1.0zM128.7 101.5h1.0v1.0h-1.0zM128.3 93.4h1.0v1.0h-1.0zM131.0 90.9h1.0v1.0h-1.0zM133.5 92.6h1.0v1.0h-1.0zM131.1 100.7h1.0v1.0h-1.0zM126.5 101.8h1.0v1.0h-1.0zM130.6 94.4h1.0v1.0h-1.0zM133.0 94.9h1.0v1.0h-1.0zM126.6 96.4h1.0v1.0h-1.0zM124.2 99.8h1.0v1.0h-1.0zM131.2 88.1h1.0v1.0h-1.0zM130.7 99.1h1.0v1.0h-1.0zM132.9 101.6h1.0v1.0h-1.0zM129.6 93.7h1.0v1.0h-1.0zM126.9 94.1h1.0v1.0h-1.0zM127.6 101.4h1.0v1.0h-1.0zM125.4 93.7h1.0v1.0h-1.0zM125.7 93.3h1.0v1.0h-1.0zM127.2 100.0h1.0v1.0h-1.0zM127.5 94.6h1.0v1.0h-1.0zM133.5 97.1h1.0v1.0h-1.0zM124.7 92.0h1.0v1.0h-1.0zM129.1 97.5h1.0v1.0h-1.0zM127.1 93.2h1.0v1.0h-1.0zM134.9 99.0h1.0v1.0h-1.0zM130.3 94.9h1.0v1.0h-1.0zM127.9 100.9h1.0v1.0h-1.0zM132.4 95.7h1.0v1.0h-1.0zM129.6 100.0h1.0v1.0h-1.0zM127.5 94.2h1.0v1.0h-1.0zM135.1 97.4h1.0v1.0h-1.0zM132.0 91.7h1.0v1.0h-1.0zM135.8 96.2h1.0v1.0h-1.0zM133.7 97.3h1.0v1.0h-1.0zM132.2 90.7h1.0v1.0h-1.0zM129.8 95.6h1.0v1.0h-1.0zM125.2 100.9h1.0v1.0h-1.0zM132.0 90.8h1.0v1.0h-1.0zM129.6 94.8h1.0v1.0h-1.0zM131.9 99.7h1.0v1.0h-1.0zM129.3 94.0h1.0v1.0h-1.0zM126.7 88.4h1.0v1.0h-1.0zM125.5 95.4h1.0v1.0h-1.0zM132.0 94.5h1.0v1.0h-1.0zM134.2 101.0h1.0v1.0h-1.0zM128.2 97.3h1.0v1.0h-1.0zM131.0 98.9h1.0v1.0h-1.0zM134.6 93.2h1.0v1.0h-1.0zM126.2 100.5h1.0v1.0h-1.0zM128.0 99.6h1.0v1.0h-1.0zM125.1 89.3h1.0v1.0h-1.0zM133.8 97.3h1.0v1.0h-1.0zM130.3 100.7h1.0v1.0h-1.0zM127.6 97.1h1.0v1.0h-1.0zM123.1 101.6h1.0v1.0h-1.0zM128.7 91.7h1.0v1.0h-1.0zM133.1 96.2h1.0v1.0h-1.0zM128.2 95.5h1.0v1.0h-1.0zM127.7 92.1h1.0v1.0h-1.0zM131.8 98.9h1.0v1.0h-1.0zM124.7 94.0h1.0v1.0h-1.0zM129.5 97.1h1.0v1.0h-1.0zM131.6 99.0h1.0v1.0h-1.0zM126.4 98.2h1.0v1.0h-1.0zM126.2 89.4h1.0v1.0h-1.0zM130.3 88.8h1.0v1.0h-1.0zM129.0 99.5h1.0v1.0h-1.0zM128.5 97.1h1.0v1.0h-1.0zM130.1 90.1h1.0v1.0h-1.0zM130.2 89.8h1.0v1.0h-1.0zM125.9 95.0h1.0v1.0h-1.0zM126.8 90.5h1.0v1.0h-1.0zM131.0 101.0h1.0v1.0h-1.0zM133.6 91.1h1.0v1.0h-1.0zM134.5 101.2h1.0v1.0h-1.0zM126.2 98.0h1.0v1.0h-1.0zM133.5 95.8h1.0v1.0h-1.0zM132.2 97.4h1.0v1.0h-1.0zM129.2 97.7h1.0v1.0h-1.0zM131.2 92.0h1.0v1.0h-1.0zM132.5 94.8h1.0v1.0h-1.0zM136.1 88.9h1.0v1.0h-1.0zM125.4 88.7h1.0v1.0h-1.0zM131.6 101.2h1.0v1.0h-1.0zM128.8 99.9h1.0v1.0h-1.0zM128.6 98.6h1.0v1.0h-1.0zM133.7 89.5h1.0v1.0h-1.0zM132.5 96.7h1.0v1.0h-1.0zM125.5 98.0h1.0v1.0h-1.0zM128.3 94.0h1.0v1.0h-1.0zM130.2 93.3h1.0v1.0h-1.0zM124.1 98.2h1.0v1.0h-1.0zM132.6 88.1h1.0v1.0h-1.0zM129.1 94.6h1.0v1.0h-1.0zM130.0 91.6h1.0v1.0h-1.0zM130.6 94.2h1.0v1.0h-1.0zM136.2 95.7h1.0v1.0h-1.0zM129.5 93.9h1.0v1.0h-1.0zM128.0 100.3h1.0v1.0h-1.0zM135.9 100.3h1.0v1.0h-1.0zM127.5 98.6h1.0v1.0h-1.0zM127.4 99.1h1.0v1.0h-1.0zM124.2 95.0h1.0v1.0h-1.0zM133.4 91.8h1.0v1.0h-1.0zM130.4 99.4h1.0v1.0h-1.0zM131.2 89.6h1.0v1.0h-1.0zM130.0 96.3h1.0v1.0h-1.0zM128.9 96.9h1.0v1.0h-1.0zM126.4 89.5h1.0v1.0h-1.0zM132.0 83.5h1.0v1.0h-1.0zM134.2 72.4h1.0v1.0h-1.0zM137.3 73.1h1.0v1.0h-1.0zM134.1 88.4h1.0v1.0h-1.0zM129.0 67.6h1.0v1.0h-1.0zM126.8 76.3h1.0v1.0h-1.0zM137.0 83.4h1.0v1.0h-1.0zM134.3 75.0h1.0v1.0h-1.0zM137.5 67.6h1.0v1.0h-1.0zM146.7 24.0h1.0v1.0h-1.0zM139.7 82.6h1.0v1.0h-1.0zM125.5 85.5h1.0v1.0h-1.0zM142.2 61.3h1.0v1.0h-1.0zM126.3 90.7h1.0v1.0h-1.0zM134.7 87.2h1.0v1.0h-1.0zM136.9 90.8h1.0v1.0h-1.0zM123.6 90.2h1.0v1.0h-1.0zM133.6 85.1h1.0v1.0h-1.0zM133.0 72.5h1.0v1.0h-1.0zM128.5 92.3h1.0v1.0h-1.0zM131.5 86.5h1.0v1.0h-1.0zM125.9 87.4h1.0v1.0h-1.0zM127.1 83.6h1.0v1.0h-1.0zM139.6 63.2h1.0v1.0h-1.0zM138.5 72.6h1.0v1.0h-1.0zM128.5 86.4h1.0v1.0h-1.0zM123.3 89.9h1.0v1.0h-1.0zM144.5 78.3h1.0v1.0h-1.0zM135.7 91.2h1.0v1.0h-1.0zM132.6 88.5h1.0v1.0h-1.0zM125.4 90.0h1.0v1.0h-1.0zM127.0 92.9h1.0v1.0h-1.0zM132.7 85.5h1.0v1.0h-1.0zM127.5 82.2h1.0v1.0h-1.0zM140.1 82.5h1.0v1.0h-1.0zM142.5 38.5h1.0v1.0h-1.0zM134.4 81.1h1.0v1.0h-1.0zM128.2 77.1h1.0v1.0h-1.0zM127.5 83.3h1.0v1.0h-1.0zM127.6 85.4h1.0v1.0h-1.0zM138.6 59.5h1.0v1.0h-1.0zM129.2 89.7h1.0v1.0h-1.0zM129.5 88.1h1.0v1.0h-1.0zM135.0 76.4h1.0v1.0h-1.0zM133.5 81.6h1.0v1.0h-1.0zM140.5 77.8h1.0v1.0h-1.0zM131.0 83.1h1.0v1.0h-1.0zM130.2 68.5h1.0v1.0h-1.0zM130.6 89.3h1.0v1.0h-1.0zM139.1 83.6h1.0v1.0h-1.0zM131.3 73.8h1.0v1.0h-1.0zM130.8 89.5h1.0v1.0h-1.0zM133.4 68.9h1.0v1.0h-1.0zM143.0 42.3h1.0v1.0h-1.0zM132.1 88.5h1.0v1.0h-1.0zM131.8 65.9h1.0v1.0h-1.0zM133.2 72.5h1.0v1.0h-1.0zM149.3 25.7h1.0v1.0h-1.0zM139.3 74.6h1.0v1.0h-1.0zM138.7 73.2h1.0v1.0h-1.0zM139.6 67.9h1.0v1.0h-1.0zM131.1 80.0h1.0v1.0h-1.0zM133.8 66.7h1.0v1.0h-1.0zM143.9 49.7h1.0v1.0h-1.0zM125.9 84.7h1.0v1.0h-1.0zM130.1 90.4h1.0v1.0h-1.0zM121.2 90.8h1.0v1.0h-1.0zM131.8 75.4h1.0v1.0h-1.0zM127.5 87.7h1.0v1.0h-1.0zM123.9 93.0h1.0v1.0h-1.0zM134.6 84.1h1.0v1.0h-1.0zM127.9 85.2h1.0v1.0h-1.0zM130.4 82.2h1.0v1.0h-1.0zM130.5 84.0h1.0v1.0h-1.0zM129.8 76.8h1.0v1.0h-1.0zM137.9 88.1h1.0v1.0h-1.0zM128.8 86.7h1.0v1.0h-1.0zM133.0 83.1h1.0v1.0h-1.0zM125.9 81.9h1.0v1.0h-1.0zM129.0 86.1h1.0v1.0h-1.0zM131.8 76.7h1.0v1.0h-1.0zM132.1 76.0h1.0v1.0h-1.0zM128.4 86.6h1.0v1.0h-1.0zM131.0 91.0h1.0v1.0h-1.0zM137.6 92.4h1.0v1.0h-1.0zM129.7 90.8h1.0v1.0h-1.0zM130.9 84.9h1.0v1.0h-1.0zM144.2 19.0h1.0v1.0h-1.0zM142.8 90.9h1.0v1.0h-1.0zM138.3 90.7h1.0v1.0h-1.0zM134.8 83.0h1.0v1.0h-1.0zM134.1 89.3h1.0v1.0h-1.0zM126.9 90.6h1.0v1.0h-1.0zM133.0 75.2h1.0v1.0h-1.0zM132.6 85.1h1.0v1.0h-1.0zM130.9 90.9h1.0v1.0h-1.0zM130.4 71.2h1.0v1.0h-1.0zM128.3 82.4h1.0v1.0h-1.0zM137.1 71.6h1.0v1.0h-1.0zM135.6 73.6h1.0v1.0h-1.0zM119.7 92.1h1.0v1.0h-1.0zM131.8 86.1h1.0v1.0h-1.0zM138.4 82.6h1.0v1.0h-1.0zM132.7 85.4h1.0v1.0h-1.0zM122.8 92.7h1.0v1.0h-1.0zM135.0 88.2h1.0v1.0h-1.0zM125.2 89.4h1.0v1.0h-1.0zM128.0 73.5h1.0v1.0h-1.0zM129.0 89.8h1.0v1.0h-1.0zM144.3 80.3h1.0v1.0h-1.0zM129.2 82.2h1.0v1.0h-1.0zM130.6 61.6h1.0v1.0h-1.0zM133.5 86.8h1.0v1.0h-1.0zM131.5 90.4h1.0v1.0h-1.0zM143.8 66.7h1.0v1.0h-1.0zM125.3 85.4h1.0v1.0h-1.0zM129.1 89.4h1.0v1.0h-1.0zM144.5 34.9h1.0v1.0h-1.0zM132.9 87.1h1.0v1.0h-1.0zM137.8 80.8h1.0v1.0h-1.0zM127.9 68.6h1.0v1.0h-1.0zM126.2 91.0h1.0v1.0h-1.0zM129.7 90.6h1.0v1.0h-1.0zM134.6 90.0h1.0v1.0h-1.0zM135.2 79.3h1.0v1.0h-1.0zM137.8 47.4h1.0v1.0h-1.0zM126.4 86.0h1.0v1.0h-1.0zM134.3 92.6h1.0v1.0h-1.0zM134.5 92.9h1.0v1.0h-1.0zM143.3 92.3h1.0v1.0h-1.0zM131.2 83.0h1.0v1.0h-1.0zM146.3 54.3h1.0v1.0h-1.0zM124.7 89.3h1.0v1.0h-1.0zM131.9 71.6h1.0v1.0h-1.0zM130.6 74.3h1.0v1.0h-1.0zM128.4 89.1h1.0v1.0h-1.0zM125.9 91.5h1.0v1.0h-1.0zM128.9 85.1h1.0v1.0h-1.0zM134.8 69.5h1.0v1.0h-1.0zM133.6 66.2h1.0v1.0h-1.0zM135.9 80.4h1.0v1.0h-1.0zM130.6 87.6h1.0v1.0h-1.0zM136.7 61.8h1.0v1.0h-1.0zM138.4 86.8h1.0v1.0h-1.0zM133.2 84.8h1.0v1.0h-1.0zM132.5 84.5h1.0v1.0h-1.0zM130.4 90.1h1.0v1.0h-1.0zM131.7 85.8h1.0v1.0h-1.0zM135.0 82.3h1.0v1.0h-1.0zM127.2 87.3h1.0v1.0h-1.0zM136.0 90.5h1.0v1.0h-1.0zM137.9 91.5h1.0v1.0h-1.0zM136.4 89.0h1.0v1.0h-1.0zM131.0 76.7h1.0v1.0h-1.0zM122.4 91.3h1.0v1.0h-1.0zM129.7 83.9h1.0v1.0h-1.0zM132.9 82.4h1.0v1.0h-1.0zM138.2 73.5h1.0v1.0h-1.0zM129.6 90.3h1.0v1.0h-1.0zM132.4 74.8h1.0v1.0h-1.0zM137.4 92.5h1.0v1.0h-1.0zM129.7 78.9h1.0v1.0h-1.0zM139.2 74.1h1.0v1.0h-1.0zM135.1 89.1h1.0v1.0h-1.0zM123.8 90.9h1.0v1.0h-1.0zM131.4 92.2h1.0v1.0h-1.0zM130.6 77.1h1.0v1.0h-1.0zM125.4 91.9h1.0v1.0h-1.0zM123.6 80.2h1.0v1.0h-1.0zM126.6 72.7h1.0v1.0h-1.0zM133.0 88.0h1.0v1.0h-1.0zM128.1 92.5h1.0v1.0h-1.0zM132.4 87.5h1.0v1.0h-1.0zM130.1 68.3h1.0v1.0h-1.0zM134.4 65.3h1.0v1.0h-1.0zM129.5 88.6h1.0v1.0h-1.0zM126.3 74.8h1.0v1.0h-1.0zM128.1 64.2h1.0v1.0h-1.0zM135.4 77.8h1.0v1.0h-1.0zM133.4 80.4h1.0v1.0h-1.0zM130.3 70.4h1.0v1.0h-1.0zM134.2 70.8h1.0v1.0h-1.0zM135.7 81.2h1.0v1.0h-1.0zM141.3 81.6h1.0v1.0h-1.0zM126.5 88.3h1.0v1.0h-1.0zM133.2 91.4h1.0v1.0h-1.0zM141.7 86.4h1.0v1.0h-1.0zM130.4 92.0h1.0v1.0h-1.0zM142.1 69.9h1.0v1.0h-1.0zM120.1 79.7h1.0v1.0h-1.0zM143.3 64.2h1.0v1.0h-1.0zM131.3 86.4h1.0v1.0h-1.0zM121.2 90.6h1.0v1.0h-1.0zM138.7 70.3h1.0v1.0h-1.0zM141.6 62.9h1.0v1.0h-1.0zM142.1 64.2h1.0v1.0h-1.0zM141.9 64.8h1.0v1.0h-1.0zM137.0 59.7h1.0v1.0h-1.0zM130.1 75.4h1.0v1.0h-1.0zM130.6 79.2h1.0v1.0h-1.0zM134.6 70.7h1.0v1.0h-1.0zM132.4 90.3h1.0v1.0h-1.0zM131.3 75.9h1.0v1.0h-1.0zM134.5 72.9h1.0v1.0h-1.0zM136.8 80.9h1.0v1.0h-1.0zM133.9 81.7h1.0v1.0h-1.0zM144.6 76.9h1.0v1.0h-1.0zM145.8 68.8h1.0v1.0h-1.0zM130.3 65.3h1.0v1.0h-1.0zM129.2 83.2h1.0v1.0h-1.0zM127.1 76.2h1.0v1.0h-1.0zM124.3 92.3h1.0v1.0h-1.0zM133.6 88.3h1.0v1.0h-1.0zM125.8 89.3h1.0v1.0h-1.0zM126.2 86.3h1.0v1.0h-1.0zM132.8 73.5h1.0v1.0h-1.0zM140.5 62.6h1.0v1.0h-1.0zM129.2 88.0h1.0v1.0h-1.0zM148.1 9.3h1.0v1.0h-1.0zM133.2 9.7h1.0v1.0h-1.0zM141.1 9.7h1.0v1.0h-1.0zM159.1 9.6h1.0v1.0h-1.0zM138.1 9.7h1.0v1.0h-1.0zM137.5 9.3h1.0v1.0h-1.0zM142.4 10.2h1.0v1.0h-1.0zM118.4 9.9h1.0v1.0h-1.0zM153.4 10.3h1.0v1.0h-1.0zM119.3 9.5h1.0v1.0h-1.0zM161.0 9.4h1.0v1.0h-1.0zM160.7 9.9h1.0v1.0h-1.0zM153.8 9.3h1.0v1.0h-1.0zM157.3 9.9h1.0v1.0h-1.0zM144.7 9.6h1.0v1.0h-1.0zM130.8 9.7h1.0v1.0h-1.0zM144.2 9.9h1.0v1.0h-1.0zM147.5 9.8h1.0v1.0h-1.0zM123.4 10.3h1.0v1.0h-1.0zM151.9 10.0h1.0v1.0h-1.0zM130.7 9.4h1.0v1.0h-1.0zM140.1 10.1h1.0v1.0h-1.0zM129.0 9.4h1.0v1.0h-1.0zM129.7 9.8h1.0v1.0h-1.0zM156.4 9.4h1.0v1.0h-1.0zM151.7 9.5h1.0v1.0h-1.0zM119.8 10.2h1.0v1.0h-1.0zM151.7 9.6h1.0v1.0h-1.0zM158.6 9.6h1.0v1.0h-1.0zM148.7 9.6h1.0v1.0h-1.0zM148.2 9.7h1.0v1.0h-1.0zM128.9 10.2h1.0v1.0h-1.0zM148.5 9.4h1.0v1.0h-1.0zM134.1 9.4h1.0v1.0h-1.0zM158.5 10.0h1.0v1.0h-1.0zM148.7 9.3h1.0v1.0h-1.0zM131.5 9.7h1.0v1.0h-1.0zM156.8 10.1h1.0v1.0h-1.0zM151.8 9.8h1.0v1.0h-1.0zM126.0 9.6h1.0v1.0h-1.0z" fill="#000" fill-opacity="0.7"/>
<path d="M137.2 33.0h1.1v1.1h-1.1zM133.4 36.1h1.1v1.1h-1.1zM120.7 20.5h1.1v1.1h-1.1zM122.7 41.5h1.1v1.1h-1.1zM148.1 39.8h1.1v1.1h-1.1zM140.5 48.8h1.1v1.1h-1.1zM137.5 64.0h1.1v1.1h-1.1zM148.0 84.6h1.1v1.1h-1.1zM120.3 76.1h1.1v1.1h-1.1zM124.2 57.6h1.1v1.1h-1.1zM144.5 41.5h1.1v1.1h-1.1zM128.6 27.0h1.1v1.1h-1.1zM128.9 58.9h1.1v1.1h-1.1zM143.4 18.9h1.1v1.1h-1.1zM151.0 18.1h1.1v1.1h-1.1zM146.5 62.8h1.1v1.1h-1.1zM141.8 26.5h1.1v1.1h-1.1zM128.9 78.5h1.1v1.1h-1.1zM139.2 64.9h1.1v1.1h-1.1zM121.2 85.2h1.1v1.1h-1.1zM119.2 24.0h1.1v1.1h-1.1zM138.3 37.6h1.1v1.1h-1.1zM148.9 52.6h1.1v1.1h-1.1zM141.2 87.4h1.1v1.1h-1.1zM121.7 20.0h1.1v1.1h-1.1zM137.4 59.7h1.1v1.1h-1.1zM125.0 83.9h1.1v1.1h-1.1zM144.0 25.0h1.1v1.1h-1.1zM130.4 67.5h1.1v1.1h-1.1zM97.1 138.0h1.1v1.1h-1.1zM97.5 140.7h1.1v1.1h-1.1zM103.3 142.9h1.1v1.1h-1.1zM97.6 138.5h1.1v1.1h-1.1zM101.6 135.7h1.1v1.1h-1.1zM98.0 139.5h1.1v1.1h-1.1zM95.8 137.8h1.1v1.1h-1.1zM100.4 136.1h1.1v1.1h-1.1zM96.5 138.7h1.1v1.1h-1.1zM99.6 136.8h1.1v1.1h-1.1zM102.8 139.6h1.1v1.1h-1.1zM98.5 139.4h1.1v1.1h-1.1zM97.2 137.8h1.1v1.1h-1.1zM102.9 140.9h1.1v1.1h-1.1zM99.0 142.9h1.1v1.1h-1.1zM97.1 142.0h1.1v1.1h-1.1zM99.4 138.1h1.1v1.1h-1.1zM101.7 136.5h1.1v1.1h-1.1zM101.3 138.1h1.1v1.1h-1.1zM100.6 143.9h1.1v1.1h-1.1zM101.1 138.8h1.1v1.1h-1.1zM99.2 139.4h1.1v1.1h-1.1zM95.6 137.5h1.1v1.1h-1.1zM99.4 141.7h1.1v1.1h-1.1zM93.7 140.1h1.1v1.1h-1.1zM100.9 140.6h1.1v1.1h-1.1zM96.1 142.9h1.1v1.1h-1.1zM95.4 141.9h1.1v1.1h-1.1zM104.3 135.1h1.1v1.1h-1.1zM100.0 141.1h1.1v1.1h-1.1zM143.0 136.1h1.1v1.1h-1.1zM141.1 133.9h1.1v1.1h-1.1zM142.7 140.5h1.1v1.1h-1.1zM139.8 135.5h1.1v1.1h-1.1zM140.5 138.7h1.1v1.1h-1.1zM142.4 138.3h1.1v1.1h-1.1zM142.4 134.2h1.1v1.1h-1.1zM132.5 140.8h1.1v1.1h-1.1zM147.2 133.8h1.1v1.1h-1.1zM139.8 139.7h1.1v1.1h-1.1zM145.5 140.9h1.1v1.1h-1.1zM146.7 138.5h1.1v1.1h-1.1zM143.6 140.1h1.1v1.1h-1.1zM140.6 142.8h1.1v1.1h-1.1zM144.4 142.0h1.1v1.1h-1.1zM140.8 142.2h1.1v1.1h-1.1zM138.4 140.0h1.1v1.1h-1.1zM132.9 135.2h1.1v1.1h-1.1zM144.7 137.1h1.1v1.1h-1.1zM142.8 133.1h1.1v1.1h-1.1zM147.6 140.7h1.1v1.1h-1.1zM142.1 140.1h1.1v1.1h-1.1zM143.3 143.5h1.1v1.1h-1.1zM142.9 133.6h1.1v1.1h-1.1zM141.2 143.0h1.1v1.1h-1.1zM144.1 137.2h1.1v1.1h-1.1zM144.3 139.1h1.1v1.1h-1.1zM144.3 133.2h1.1v1.1h-1.1zM139.0 140.9h1.1v1.1h-1.1zM141.4 139.9h1.1v1.1h-1.1zM149.0 137.6h1.1v1.1h-1.1zM143.0 136.7h1.1v1.1h-1.1zM139.9 138.4h1.1v1.1h-1.1zM137.0 131.4h1.1v1.1h-1.1zM146.9 138.3h1.1v1.1h-1.1zM146.1 139.1h1.1v1.1h-1.1zM142.7 140.9h1.1v1.1h-1.1zM144.7 134.5h1.1v1.1h-1.1zM146.4 135.3h1.1v1.1h-1.1zM142.9 147.4h1.1v1.1h-1.1zM142.4 144.4h1.1v1.1h-1.1zM140.9 140.8h1.1v1.1h-1.1zM142.3 140.1h1.1v1.1h-1.1zM139.1 135.5h1.1v1.1h-1.1zM143.3 133.3h1.1v1.1h-1.1zM139.2 140.8h1.1v1.1h-1.1zM140.0 135.6h1.1v1.1h-1.1zM138.2 139.2h1.1v1.1h-1.1zM140.9 139.2h1.1v1.1h-1.1zM141.5 145.0h1.1v1.1h-1.1zM140.6 132.0h1.1v1.1h-1.1zM142.6 138.7h1.1v1.1h-1.1zM142.7 133.2h1.1v1.1h-1.1zM146.1 138.5h1.1v1.1h-1.1zM142.0 133.3h1.1v1.1h-1.1zM148.6 110.9h1.1v1.1h-1.1zM151.2 108.7h1.1v1.1h-1.1zM143.6 112.2h1.1v1.1h-1.1zM144.5 114.0h1.1v1.1h-1.1zM144.0 110.5h1.1v1.1h-1.1zM146.5 111.1h1.1v1.1h-1.1zM145.7 106.2h1.1v1.1h-1.1zM147.0 107.7h1.1v1.1h-1.1zM147.7 109.6h1.1v1.1h-1.1zM140.7 111.0h1.1v1.1h-1.1zM151.3 113.3h1.1v1.1h-1.1zM149.0 114.2h1.1v1.1h-1.1zM135.6 106.9h1.1v1.1h-1.1zM138.7 125.4h1.1v1.1h-1.1zM138.1 120.5h1.1v1.1h-1.1zM137.7 117.0h1.1v1.1h-1.1zM137.4 117.3h1.1v1.1h-1.1zM137.5 109.9h1.1v1.1h-1.1zM135.2 121.6h1.1v1.1h-1.1zM135.9 98.5h1.1v1.1h-1.1zM137.1 99.6h1.1v1.1h-1.1zM141.4 122.8h1.1v1.1h-1.1zM138.4 112.1h1.1v1.1h-1.1zM134.0 115.6h1.1v1.1h-1.1zM136.8 111.3h1.1v1.1h-1.1zM137.1 122.5h1.1v1.1h-1.1zM138.2 109.3h1.1v1.1h-1.1zM131.6 117.3h1.1v1.1h-1.1zM135.2 120.7h1.1v1.1h-1.1zM140.7 129.9h1.1v1.1h-1.1zM137.5 125.8h1.1v1.1h-1.1zM140.7 117.6h1.1v1.1h-1.1zM137.4 123.8h1.1v1.1h-1.1zM136.7 113.5h1.1v1.1h-1.1zM135.0 117.4h1.1v1.1h-1.1zM135.3 123.4h1.1v1.1h-1.1zM136.0 128.5h1.1v1.1h-1.1zM139.7 107.8h1.1v1.1h-1.1zM139.4 114.3h1.1v1.1h-1.1zM140.1 121.3h1.1v1.1h-1.1zM136.7 122.5h1.1v1.1h-1.1zM135.5 119.9h1.1v1.1h-1.1zM137.7 116.3h1.1v1.1h-1.1zM137.7 109.8h1.1v1.1h-1.1zM138.1 108.2h1.1v1.1h-1.1zM138.3 121.0h1.1v1.1h-1.1zM138.5 113.2h1.1v1.1h-1.1zM144.1 115.7h1.1v1.1h-1.1zM137.2 111.7h1.1v1.1h-1.1zM140.2 113.9h1.1v1.1h-1.1zM139.2 110.3h1.1v1.1h-1.1zM137.6 114.7h1.1v1.1h-1.1zM105.2 128.3h1.1v1.1h-1.1zM80.4 154.3h1.1v1.1h-1.1zM92.5 140.6h1.1v1.1h-1.1zM79.2 128.5h1.1v1.1h-1.1zM53.0 141.6h1.1v1.1h-1.1zM83.2 123.9h1.1v1.1h-1.1zM83.7 98.1h1.1v1.1h-1.1zM83.8 139.6h1.1v1.1h-1.1zM65.9 140.8h1.1v1.1h-1.1zM64.0 137.6h1.1v1.1h-1.1zM67.8 150.4h1.1v1.1h-1.1zM49.9 145.8h1.1v1.1h-1.1zM57.7 148.9h1.1v1.1h-1.1zM65.2 98.0h1.1v1.1h-1.1zM108.0 49.7h1.1v1.1h-1.1zM83.3 87.0h1.1v1.1h-1.1zM83.6 69.0h1.1v1.1h-1.1zM84.8 92.4h1.1v1.1h-1.1zM64.2 43.5h1.1v1.1h-1.1z" fill="#000" fill-opacity="0.55"/>
<g stroke="#7676c0" stroke-width="1.15" fill="none" stroke-linejoin="round">
<rect x="108.5" y="12.5" width="43.8" height="79.3"/>
<path d="M117 101L123.7 96.7L133 98.3L137.4 106L138.5 120.3L136.3 131.3L131.9 139L125.3 146.7L117.6 148.9L112.1 146.7L106.6 140.1L106 131.3L107.7 119.2L112.1 107.1Z"/>
<path d="M144.9 92.5L152.9 90.6L156.6 99.9L156.6 118.5L148.6 125.9L142.4 126.6L141.2 119.7L139.9 102.4Z"/>
<path d="M141.8 127.2L148.6 128.4L153.5 134.6L154.2 143.3L149.8 147.6L144.9 149.5L133.7 148.2L131.9 144.5L132.5 139.6L137.4 130.9Z"/>
<path d="M94.5 134.3L101.4 133.8L104.3 134.8L106.3 137.7L106.3 142.6L103.9 146L98.5 147L93.1 146L90.6 142.1L91.1 138.7Z"/>
</g>
<path d="M45.7 8.7H195.6" stroke="#8a8a8a" stroke-width="1.0" fill="none"/>
<path d="M195.6 8.7V161.7" stroke="#333" stroke-width="1.2" fill="none"/>
<path d="M45.7 8.2V161.7H195.6" stroke="#222" stroke-width="1.3" fill="none"/>
<path d="M42.7 161.7H45.7M42.7 131.7H45.7M42.7 101.7H45.7M42.7 71.7H45.7M42.7 41.7H45.7M42.7 11.7H45.7M44.1 154.2H45.7M44.1 146.7H45.7M44.1 139.2H45.7M44.1 124.2H45.7M44.1 116.7H45.7M44.1 109.2H45.7M44.1 94.2H45.7M44.1 86.7H45.7M44.1 79.2H45.7M44.1 64.2H45.7M44.1 56.7H45.7M44.1 49.2H45.7M44.1 34.2H45.7M44.1 26.7H45.7M44.1 19.2H45.7" stroke="#222" stroke-width="1" fill="none"/>
<text x="38.9" y="166.3" text-anchor="end" font-size="10">0</text>
<text x="38.9" y="136.3" text-anchor="end" font-size="10">200</text>
<text x="38.9" y="106.3" text-anchor="end" font-size="10">400</text>
<text x="38.9" y="76.3" text-anchor="end" font-size="10">600</text>
<text x="38.9" y="46.3" text-anchor="end" font-size="10">800</text>
<text x="38.9" y="16.3" text-anchor="end" font-size="10">1000</text>
<path d="M45.7 161.7V164.7M57 161.7V163.3M63.6 161.7V163.3M68.3 161.7V163.3M71.9 161.7V163.3M74.9 161.7V163.3M77.4 161.7V163.3M79.5 161.7V163.3M81.5 161.7V163.3M83.2 161.7V164.7M94.5 161.7V163.3M101.1 161.7V163.3M105.7 161.7V163.3M109.4 161.7V163.3M112.3 161.7V163.3M114.8 161.7V163.3M117 161.7V163.3M118.9 161.7V163.3M120.6 161.7V164.7M131.9 161.7V163.3M138.5 161.7V163.3M143.2 161.7V163.3M146.8 161.7V163.3M149.8 161.7V163.3M152.3 161.7V163.3M154.5 161.7V163.3M156.4 161.7V163.3M158.1 161.7V164.7M169.4 161.7V163.3M176 161.7V163.3M180.7 161.7V163.3M184.3 161.7V163.3M187.3 161.7V163.3M189.8 161.7V163.3M192 161.7V163.3M193.9 161.7V163.3M195.6 161.7V164.7" stroke="#222" stroke-width="1" fill="none"/>
<text x="38.3" y="177" font-size="10">10</text>
<text x="50.1" y="172" font-size="6.5">0</text>
<text x="75.8" y="177" font-size="10">10</text>
<text x="87.5" y="172" font-size="6.5">1</text>
<text x="113.3" y="177" font-size="10">10</text>
<text x="125" y="172" font-size="6.5">2</text>
<text x="150.8" y="177" font-size="10">10</text>
<text x="162.5" y="172" font-size="6.5">3</text>
<text x="186.7" y="177" font-size="10">10</text>
<text x="198.5" y="172" font-size="6.5">4</text>
<text x="0" y="0" font-size="10" text-anchor="middle" transform="translate(9.8 87.3) rotate(-90)">SSC</text>
<text x="121.9" y="195" font-size="10" text-anchor="middle" >CD45</text>
<text x="0" y="12.2" font-size="16" text-anchor="start" font-weight="bold">a</text>
<text x="119.5" y="54" font-size="8.5" text-anchor="start" >2.75</text>
<text x="95.7" y="112.6" font-size="8.5" text-anchor="start" >91.6</text>
<text x="153.3" y="111.6" font-size="8.5" text-anchor="start" >0.31</text>
<text x="149.6" y="151.8" font-size="8.5" text-anchor="start" >1.65</text>
<text x="78.2" y="136.7" font-size="8.5" text-anchor="start" >0.74</text>
<path d="M381.0 113.6h1.0v1.0h-1.0zM382.2 110.1h1.0v1.0h-1.0zM383.6 106.0h1.0v1.0h-1.0zM383.3 122.7h1.0v1.0h-1.0zM384.8 111.6h1.0v1.0h-1.0zM378.7 118.1h1.0v1.0h-1.0zM385.1 108.4h1.0v1.0h-1.0zM381.7 115.0h1.0v1.0h-1.0zM381.0 116.0h1.0v1.0h-1.0zM381.5 102.5h1.0v1.0h-1.0zM383.8 98.4h1.0v1.0h-1.0zM382.7 114.1h1.0v1.0h-1.0zM380.0 117.0h1.0v1.0h-1.0zM381.6 114.1h1.0v1.0h-1.0zM383.6 106.3h1.0v1.0h-1.0zM382.9 96.4h1.0v1.0h-1.0zM382.1 103.8h1.0v1.0h-1.0zM385.5 118.1h1.0v1.0h-1.0zM380.0 116.0h1.0v1.0h-1.0zM383.6 107.0h1.0v1.0h-1.0zM383.4 116.2h1.0v1.0h-1.0zM382.1 107.7h1.0v1.0h-1.0zM383.8 102.2h1.0v1.0h-1.0zM383.4 109.3h1.0v1.0h-1.0zM382.2 103.3h1.0v1.0h-1.0zM383.1 116.9h1.0v1.0h-1.0zM384.1 103.3h1.0v1.0h-1.0zM384.3 111.4h1.0v1.0h-1.0zM383.5 119.2h1.0v1.0h-1.0zM381.4 108.8h1.0v1.0h-1.0zM382.4 103.0h1.0v1.0h-1.0zM386.2 117.6h1.0v1.0h-1.0zM379.5 113.1h1.0v1.0h-1.0zM381.3 118.9h1.0v1.0h-1.0zM383.2 108.6h1.0v1.0h-1.0zM383.1 113.0h1.0v1.0h-1.0zM383.2 108.3h1.0v1.0h-1.0zM382.5 114.0h1.0v1.0h-1.0zM380.9 109.8h1.0v1.0h-1.0zM383.0 106.2h1.0v1.0h-1.0zM385.1 100.0h1.0v1.0h-1.0zM382.8 103.3h1.0v1.0h-1.0zM384.3 106.4h1.0v1.0h-1.0zM382.9 113.0h1.0v1.0h-1.0zM379.8 113.3h1.0v1.0h-1.0zM381.7 107.9h1.0v1.0h-1.0zM382.3 116.3h1.0v1.0h-1.0zM383.4 123.9h1.0v1.0h-1.0zM383.6 106.3h1.0v1.0h-1.0zM381.7 115.0h1.0v1.0h-1.0zM385.8 112.9h1.0v1.0h-1.0zM381.8 112.1h1.0v1.0h-1.0zM383.5 110.3h1.0v1.0h-1.0zM383.0 90.0h1.0v1.0h-1.0zM381.4 118.2h1.0v1.0h-1.0zM384.6 92.7h1.0v1.0h-1.0zM384.0 95.5h1.0v1.0h-1.0zM386.6 111.7h1.0v1.0h-1.0zM380.3 116.1h1.0v1.0h-1.0zM381.2 114.3h1.0v1.0h-1.0zM383.7 100.8h1.0v1.0h-1.0zM385.0 99.6h1.0v1.0h-1.0zM385.5 110.6h1.0v1.0h-1.0zM382.1 95.7h1.0v1.0h-1.0zM385.2 121.6h1.0v1.0h-1.0zM379.8 122.7h1.0v1.0h-1.0zM383.4 108.3h1.0v1.0h-1.0zM383.0 107.9h1.0v1.0h-1.0zM385.6 111.4h1.0v1.0h-1.0zM378.4 126.1h1.0v1.0h-1.0zM385.2 101.6h1.0v1.0h-1.0zM382.8 102.9h1.0v1.0h-1.0zM382.9 113.1h1.0v1.0h-1.0zM383.8 105.3h1.0v1.0h-1.0zM381.0 116.5h1.0v1.0h-1.0zM381.6 127.6h1.0v1.0h-1.0zM381.1 116.1h1.0v1.0h-1.0zM383.5 104.1h1.0v1.0h-1.0zM385.5 111.1h1.0v1.0h-1.0zM381.5 107.4h1.0v1.0h-1.0zM385.6 100.5h1.0v1.0h-1.0zM385.2 115.5h1.0v1.0h-1.0zM381.7 120.6h1.0v1.0h-1.0zM385.9 114.9h1.0v1.0h-1.0zM382.3 124.5h1.0v1.0h-1.0zM386.3 102.9h1.0v1.0h-1.0zM382.7 108.3h1.0v1.0h-1.0zM383.1 98.2h1.0v1.0h-1.0zM384.6 110.8h1.0v1.0h-1.0zM382.4 121.1h1.0v1.0h-1.0zM382.0 109.5h1.0v1.0h-1.0zM383.7 106.6h1.0v1.0h-1.0zM382.4 116.0h1.0v1.0h-1.0zM382.3 120.5h1.0v1.0h-1.0zM381.5 111.5h1.0v1.0h-1.0zM380.4 108.9h1.0v1.0h-1.0zM380.9 120.6h1.0v1.0h-1.0zM384.1 114.1h1.0v1.0h-1.0zM385.7 121.6h1.0v1.0h-1.0zM384.7 104.7h1.0v1.0h-1.0zM380.3 109.6h1.0v1.0h-1.0zM382.7 104.9h1.0v1.0h-1.0zM383.4 96.9h1.0v1.0h-1.0zM386.4 101.2h1.0v1.0h-1.0zM381.4 114.4h1.0v1.0h-1.0zM379.4 117.1h1.0v1.0h-1.0zM384.9 107.7h1.0v1.0h-1.0zM381.2 106.1h1.0v1.0h-1.0zM378.8 120.7h1.0v1.0h-1.0zM383.5 104.2h1.0v1.0h-1.0zM381.0 114.4h1.0v1.0h-1.0zM386.5 100.1h1.0v1.0h-1.0zM382.9 96.0h1.0v1.0h-1.0zM384.2 111.3h1.0v1.0h-1.0zM387.3 109.3h1.0v1.0h-1.0zM382.6 104.3h1.0v1.0h-1.0zM385.5 97.2h1.0v1.0h-1.0zM384.3 112.1h1.0v1.0h-1.0zM382.5 102.8h1.0v1.0h-1.0zM384.0 124.9h1.0v1.0h-1.0zM381.9 114.1h1.0v1.0h-1.0zM386.6 105.3h1.0v1.0h-1.0zM383.2 100.3h1.0v1.0h-1.0zM382.8 109.3h1.0v1.0h-1.0zM382.6 104.1h1.0v1.0h-1.0zM380.8 99.1h1.0v1.0h-1.0zM380.8 115.0h1.0v1.0h-1.0zM382.5 103.2h1.0v1.0h-1.0zM383.9 114.6h1.0v1.0h-1.0zM381.9 104.9h1.0v1.0h-1.0zM384.0 113.0h1.0v1.0h-1.0zM381.3 111.8h1.0v1.0h-1.0zM382.3 118.9h1.0v1.0h-1.0zM380.9 116.9h1.0v1.0h-1.0zM384.4 102.0h1.0v1.0h-1.0zM384.5 117.4h1.0v1.0h-1.0zM379.4 125.7h1.0v1.0h-1.0zM381.3 102.5h1.0v1.0h-1.0zM382.0 116.1h1.0v1.0h-1.0zM384.2 109.3h1.0v1.0h-1.0zM385.4 113.4h1.0v1.0h-1.0zM384.1 132.8h1.0v1.0h-1.0zM384.8 89.4h1.0v1.0h-1.0zM382.7 101.3h1.0v1.0h-1.0zM383.1 110.8h1.0v1.0h-1.0zM381.3 100.6h1.0v1.0h-1.0zM382.6 108.4h1.0v1.0h-1.0zM377.5 117.5h1.0v1.0h-1.0zM383.1 109.9h1.0v1.0h-1.0zM384.1 101.8h1.0v1.0h-1.0zM382.3 118.4h1.0v1.0h-1.0zM384.8 113.9h1.0v1.0h-1.0zM382.9 103.3h1.0v1.0h-1.0zM385.2 114.4h1.0v1.0h-1.0zM383.4 92.3h1.0v1.0h-1.0zM382.4 94.2h1.0v1.0h-1.0zM385.3 111.7h1.0v1.0h-1.0zM381.7 107.6h1.0v1.0h-1.0zM387.3 120.3h1.0v1.0h-1.0zM380.5 108.7h1.0v1.0h-1.0zM381.6 95.7h1.0v1.0h-1.0zM382.0 129.8h1.0v1.0h-1.0zM386.0 110.6h1.0v1.0h-1.0zM382.2 111.6h1.0v1.0h-1.0zM385.9 98.1h1.0v1.0h-1.0zM378.3 125.2h1.0v1.0h-1.0zM382.6 123.2h1.0v1.0h-1.0zM382.6 122.2h1.0v1.0h-1.0zM381.5 114.0h1.0v1.0h-1.0zM385.5 118.6h1.0v1.0h-1.0zM381.6 117.3h1.0v1.0h-1.0zM382.5 98.1h1.0v1.0h-1.0zM383.2 121.6h1.0v1.0h-1.0zM385.4 99.7h1.0v1.0h-1.0zM384.3 115.7h1.0v1.0h-1.0zM383.5 89.3h1.0v1.0h-1.0zM384.5 117.5h1.0v1.0h-1.0zM385.0 95.7h1.0v1.0h-1.0zM379.5 118.2h1.0v1.0h-1.0zM384.3 114.2h1.0v1.0h-1.0zM382.3 113.2h1.0v1.0h-1.0zM382.1 107.3h1.0v1.0h-1.0zM381.1 112.0h1.0v1.0h-1.0zM381.6 117.9h1.0v1.0h-1.0zM384.9 103.3h1.0v1.0h-1.0zM387.3 100.9h1.0v1.0h-1.0zM383.3 119.1h1.0v1.0h-1.0zM386.8 91.8h1.0v1.0h-1.0zM384.3 120.3h1.0v1.0h-1.0zM387.2 91.6h1.0v1.0h-1.0zM381.7 109.1h1.0v1.0h-1.0zM381.3 121.1h1.0v1.0h-1.0zM380.9 120.2h1.0v1.0h-1.0zM385.0 97.9h1.0v1.0h-1.0zM381.3 105.9h1.0v1.0h-1.0zM382.6 118.3h1.0v1.0h-1.0zM382.1 117.6h1.0v1.0h-1.0zM381.6 84.2h1.0v1.0h-1.0zM382.1 113.8h1.0v1.0h-1.0zM382.9 101.5h1.0v1.0h-1.0zM382.7 126.3h1.0v1.0h-1.0zM383.2 103.9h1.0v1.0h-1.0zM380.2 126.4h1.0v1.0h-1.0zM382.6 115.1h1.0v1.0h-1.0zM384.8 119.2h1.0v1.0h-1.0zM380.6 117.9h1.0v1.0h-1.0zM384.4 114.2h1.0v1.0h-1.0zM385.3 105.4h1.0v1.0h-1.0zM383.2 105.6h1.0v1.0h-1.0zM384.9 104.6h1.0v1.0h-1.0zM384.4 100.9h1.0v1.0h-1.0zM383.0 107.0h1.0v1.0h-1.0zM382.7 111.1h1.0v1.0h-1.0zM382.8 108.1h1.0v1.0h-1.0zM378.2 119.0h1.0v1.0h-1.0zM381.9 107.9h1.0v1.0h-1.0zM380.8 118.3h1.0v1.0h-1.0zM380.9 114.1h1.0v1.0h-1.0zM384.4 124.0h1.0v1.0h-1.0zM385.0 115.4h1.0v1.0h-1.0zM379.9 120.6h1.0v1.0h-1.0zM384.9 117.2h1.0v1.0h-1.0zM384.6 110.8h1.0v1.0h-1.0zM381.3 119.0h1.0v1.0h-1.0zM386.2 101.5h1.0v1.0h-1.0zM384.7 112.2h1.0v1.0h-1.0zM384.6 112.5h1.0v1.0h-1.0zM384.6 118.8h1.0v1.0h-1.0zM385.6 98.7h1.0v1.0h-1.0zM384.6 110.6h1.0v1.0h-1.0zM380.4 115.9h1.0v1.0h-1.0zM379.8 117.4h1.0v1.0h-1.0zM386.7 106.2h1.0v1.0h-1.0zM384.6 114.0h1.0v1.0h-1.0zM385.1 99.0h1.0v1.0h-1.0zM384.2 111.4h1.0v1.0h-1.0zM384.5 110.3h1.0v1.0h-1.0zM385.0 112.6h1.0v1.0h-1.0zM383.6 121.7h1.0v1.0h-1.0zM382.8 118.5h1.0v1.0h-1.0zM383.2 114.6h1.0v1.0h-1.0zM381.5 116.6h1.0v1.0h-1.0zM385.5 109.7h1.0v1.0h-1.0zM384.4 113.9h1.0v1.0h-1.0zM380.7 113.0h1.0v1.0h-1.0zM385.9 106.4h1.0v1.0h-1.0zM379.4 111.7h1.0v1.0h-1.0zM380.7 125.9h1.0v1.0h-1.0zM383.0 110.2h1.0v1.0h-1.0zM381.7 112.3h1.0v1.0h-1.0zM382.5 102.8h1.0v1.0h-1.0zM383.4 103.6h1.0v1.0h-1.0zM386.3 100.9h1.0v1.0h-1.0zM383.3 104.6h1.0v1.0h-1.0zM379.4 123.8h1.0v1.0h-1.0zM378.1 122.0h1.0v1.0h-1.0zM380.2 110.8h1.0v1.0h-1.0zM388.7 93.1h1.0v1.0h-1.0zM379.6 120.9h1.0v1.0h-1.0zM383.7 105.8h1.0v1.0h-1.0zM383.5 102.4h1.0v1.0h-1.0zM382.4 122.6h1.0v1.0h-1.0zM382.2 111.4h1.0v1.0h-1.0zM384.3 126.8h1.0v1.0h-1.0zM381.7 112.7h1.0v1.0h-1.0zM382.3 104.9h1.0v1.0h-1.0zM382.6 105.1h1.0v1.0h-1.0zM380.8 93.7h1.0v1.0h-1.0zM381.5 111.3h1.0v1.0h-1.0zM385.7 106.1h1.0v1.0h-1.0zM382.3 115.7h1.0v1.0h-1.0zM384.6 109.5h1.0v1.0h-1.0zM381.9 125.7h1.0v1.0h-1.0zM382.7 106.2h1.0v1.0h-1.0zM379.6 113.6h1.0v1.0h-1.0zM381.4 125.9h1.0v1.0h-1.0zM381.9 116.9h1.0v1.0h-1.0zM383.9 123.9h1.0v1.0h-1.0zM379.6 123.0h1.0v1.0h-1.0zM383.1 109.4h1.0v1.0h-1.0zM382.7 107.0h1.0v1.0h-1.0zM383.7 91.1h1.0v1.0h-1.0zM384.0 110.9h1.0v1.0h-1.0zM381.2 109.6h1.0v1.0h-1.0zM387.3 113.7h1.0v1.0h-1.0zM381.3 124.3h1.0v1.0h-1.0zM381.6 108.9h1.0v1.0h-1.0zM382.1 108.3h1.0v1.0h-1.0zM384.1 115.1h1.0v1.0h-1.0zM381.7 109.1h1.0v1.0h-1.0zM383.4 107.0h1.0v1.0h-1.0zM383.4 104.4h1.0v1.0h-1.0zM381.6 110.5h1.0v1.0h-1.0zM380.8 113.6h1.0v1.0h-1.0zM383.2 102.7h1.0v1.0h-1.0zM382.1 106.3h1.0v1.0h-1.0zM382.7 111.2h1.0v1.0h-1.0zM383.1 103.2h1.0v1.0h-1.0zM385.3 117.8h1.0v1.0h-1.0zM382.7 118.0h1.0v1.0h-1.0zM383.8 108.2h1.0v1.0h-1.0zM381.7 132.0h1.0v1.0h-1.0zM384.4 118.9h1.0v1.0h-1.0zM381.9 115.1h1.0v1.0h-1.0zM387.2 114.0h1.0v1.0h-1.0zM384.4 120.6h1.0v1.0h-1.0zM383.4 123.2h1.0v1.0h-1.0zM383.2 114.3h1.0v1.0h-1.0zM380.3 131.6h1.0v1.0h-1.0zM383.6 111.2h1.0v1.0h-1.0zM386.0 106.5h1.0v1.0h-1.0zM383.5 103.9h1.0v1.0h-1.0zM383.3 107.1h1.0v1.0h-1.0zM384.2 109.3h1.0v1.0h-1.0zM382.0 107.8h1.0v1.0h-1.0zM383.1 106.1h1.0v1.0h-1.0zM384.5 115.8h1.0v1.0h-1.0zM384.0 100.6h1.0v1.0h-1.0zM384.8 99.9h1.0v1.0h-1.0zM383.4 110.6h1.0v1.0h-1.0zM382.4 103.4h1.0v1.0h-1.0zM380.5 126.8h1.0v1.0h-1.0zM382.6 108.5h1.0v1.0h-1.0zM384.7 113.8h1.0v1.0h-1.0zM385.8 100.4h1.0v1.0h-1.0zM379.1 137.0h1.0v1.0h-1.0zM383.1 107.9h1.0v1.0h-1.0zM382.8 118.3h1.0v1.0h-1.0zM380.6 112.4h1.0v1.0h-1.0zM382.6 115.7h1.0v1.0h-1.0zM383.7 106.0h1.0v1.0h-1.0zM382.7 90.4h1.0v1.0h-1.0zM385.8 98.5h1.0v1.0h-1.0zM381.3 123.6h1.0v1.0h-1.0zM381.9 115.1h1.0v1.0h-1.0zM382.2 115.8h1.0v1.0h-1.0zM383.4 106.1h1.0v1.0h-1.0zM385.8 108.3h1.0v1.0h-1.0zM380.7 107.4h1.0v1.0h-1.0zM384.7 101.3h1.0v1.0h-1.0zM384.1 116.5h1.0v1.0h-1.0zM387.5 105.3h1.0v1.0h-1.0zM385.2 96.9h1.0v1.0h-1.0zM382.2 111.0h1.0v1.0h-1.0zM383.8 109.8h1.0v1.0h-1.0zM383.2 105.3h1.0v1.0h-1.0zM382.0 112.6h1.0v1.0h-1.0zM383.7 115.4h1.0v1.0h-1.0zM384.3 119.9h1.0v1.0h-1.0zM379.9 105.8h1.0v1.0h-1.0zM383.1 105.0h1.0v1.0h-1.0zM384.6 116.4h1.0v1.0h-1.0zM382.8 111.2h1.0v1.0h-1.0zM385.7 107.6h1.0v1.0h-1.0zM381.9 117.5h1.0v1.0h-1.0zM383.1 121.7h1.0v1.0h-1.0zM383.3 116.3h1.0v1.0h-1.0zM382.5 102.6h1.0v1.0h-1.0zM384.5 88.9h1.0v1.0h-1.0zM383.3 118.1h1.0v1.0h-1.0zM383.3 108.5h1.0v1.0h-1.0zM385.1 110.0h1.0v1.0h-1.0zM383.7 128.0h1.0v1.0h-1.0zM383.9 117.8h1.0v1.0h-1.0zM383.8 112.3h1.0v1.0h-1.0zM383.5 110.8h1.0v1.0h-1.0zM386.0 97.4h1.0v1.0h-1.0zM382.2 115.5h1.0v1.0h-1.0zM381.5 109.3h1.0v1.0h-1.0zM381.5 113.7h1.0v1.0h-1.0zM383.9 122.0h1.0v1.0h-1.0zM384.4 104.5h1.0v1.0h-1.0zM383.2 114.8h1.0v1.0h-1.0zM386.9 93.2h1.0v1.0h-1.0zM384.8 95.6h1.0v1.0h-1.0zM384.2 113.9h1.0v1.0h-1.0zM383.5 117.4h1.0v1.0h-1.0zM384.1 105.1h1.0v1.0h-1.0zM383.0 119.9h1.0v1.0h-1.0zM382.8 110.4h1.0v1.0h-1.0zM380.1 119.4h1.0v1.0h-1.0zM382.5 104.2h1.0v1.0h-1.0zM382.7 103.3h1.0v1.0h-1.0zM381.8 120.4h1.0v1.0h-1.0zM383.8 121.7h1.0v1.0h-1.0zM386.4 103.3h1.0v1.0h-1.0zM383.1 122.3h1.0v1.0h-1.0zM388.2 99.2h1.0v1.0h-1.0zM380.1 113.8h1.0v1.0h-1.0zM383.0 102.2h1.0v1.0h-1.0zM384.2 104.0h1.0v1.0h-1.0zM378.7 109.7h1.0v1.0h-1.0zM382.9 115.3h1.0v1.0h-1.0zM384.7 111.8h1.0v1.0h-1.0zM383.0 104.8h1.0v1.0h-1.0zM380.1 106.5h1.0v1.0h-1.0zM384.6 115.5h1.0v1.0h-1.0zM387.0 109.2h1.0v1.0h-1.0zM379.2 116.6h1.0v1.0h-1.0zM385.7 101.0h1.0v1.0h-1.0zM379.9 111.2h1.0v1.0h-1.0zM385.0 101.3h1.0v1.0h-1.0zM382.8 103.9h1.0v1.0h-1.0zM381.5 99.5h1.0v1.0h-1.0zM383.5 107.2h1.0v1.0h-1.0zM383.2 89.2h1.0v1.0h-1.0zM386.9 102.8h1.0v1.0h-1.0zM383.4 101.0h1.0v1.0h-1.0zM384.6 98.1h1.0v1.0h-1.0zM383.3 108.6h1.0v1.0h-1.0zM385.4 101.5h1.0v1.0h-1.0zM381.9 108.2h1.0v1.0h-1.0zM387.8 98.6h1.0v1.0h-1.0zM383.9 104.9h1.0v1.0h-1.0zM383.2 115.4h1.0v1.0h-1.0zM383.1 112.2h1.0v1.0h-1.0zM383.9 105.4h1.0v1.0h-1.0zM383.5 96.8h1.0v1.0h-1.0zM382.8 103.9h1.0v1.0h-1.0zM382.1 115.9h1.0v1.0h-1.0zM383.5 113.9h1.0v1.0h-1.0zM386.4 91.2h1.0v1.0h-1.0zM383.8 109.9h1.0v1.0h-1.0zM383.6 99.6h1.0v1.0h-1.0zM383.4 119.3h1.0v1.0h-1.0zM385.0 109.5h1.0v1.0h-1.0zM383.7 117.5h1.0v1.0h-1.0zM385.8 120.1h1.0v1.0h-1.0zM383.2 110.8h1.0v1.0h-1.0zM383.2 111.9h1.0v1.0h-1.0zM381.6 116.2h1.0v1.0h-1.0zM382.1 103.5h1.0v1.0h-1.0zM384.0 105.5h1.0v1.0h-1.0zM383.7 93.4h1.0v1.0h-1.0zM384.5 110.1h1.0v1.0h-1.0zM382.5 113.7h1.0v1.0h-1.0zM383.8 104.5h1.0v1.0h-1.0zM387.1 106.7h1.0v1.0h-1.0zM383.8 124.8h1.0v1.0h-1.0zM381.8 110.7h1.0v1.0h-1.0zM380.9 118.3h1.0v1.0h-1.0zM383.0 101.2h1.0v1.0h-1.0zM385.0 117.5h1.0v1.0h-1.0zM380.7 119.4h1.0v1.0h-1.0zM381.9 131.8h1.0v1.0h-1.0zM386.6 105.8h1.0v1.0h-1.0zM383.0 103.0h1.0v1.0h-1.0zM383.2 110.4h1.0v1.0h-1.0zM384.4 110.8h1.0v1.0h-1.0zM380.7 103.3h1.0v1.0h-1.0zM385.0 119.4h1.0v1.0h-1.0zM382.8 108.9h1.0v1.0h-1.0zM382.7 110.2h1.0v1.0h-1.0zM379.3 116.9h1.0v1.0h-1.0zM381.7 111.1h1.0v1.0h-1.0zM378.1 111.5h1.0v1.0h-1.0zM386.8 92.3h1.0v1.0h-1.0zM385.6 114.0h1.0v1.0h-1.0zM382.5 97.2h1.0v1.0h-1.0zM385.1 112.2h1.0v1.0h-1.0zM384.3 107.9h1.0v1.0h-1.0zM381.0 116.9h1.0v1.0h-1.0zM380.7 117.1h1.0v1.0h-1.0zM380.3 102.4h1.0v1.0h-1.0zM379.5 120.3h1.0v1.0h-1.0zM380.3 100.6h1.0v1.0h-1.0zM384.1 111.9h1.0v1.0h-1.0zM386.1 125.0h1.0v1.0h-1.0zM383.8 115.6h1.0v1.0h-1.0zM380.0 102.7h1.0v1.0h-1.0zM382.5 108.5h1.0v1.0h-1.0zM380.9 102.4h1.0v1.0h-1.0zM380.8 118.4h1.0v1.0h-1.0zM384.0 107.4h1.0v1.0h-1.0zM382.3 112.3h1.0v1.0h-1.0zM381.8 107.8h1.0v1.0h-1.0zM379.3 115.1h1.0v1.0h-1.0zM384.6 113.0h1.0v1.0h-1.0zM383.7 113.0h1.0v1.0h-1.0zM386.8 111.9h1.0v1.0h-1.0zM381.1 101.4h1.0v1.0h-1.0zM383.8 118.6h1.0v1.0h-1.0zM384.0 116.8h1.0v1.0h-1.0zM384.2 98.1h1.0v1.0h-1.0zM382.7 95.4h1.0v1.0h-1.0zM383.0 99.0h1.0v1.0h-1.0zM383.3 108.6h1.0v1.0h-1.0zM378.9 115.6h1.0v1.0h-1.0zM385.2 98.9h1.0v1.0h-1.0zM382.9 115.7h1.0v1.0h-1.0zM382.0 116.8h1.0v1.0h-1.0zM382.8 118.6h1.0v1.0h-1.0zM383.4 108.6h1.0v1.0h-1.0zM383.5 116.3h1.0v1.0h-1.0zM383.7 106.4h1.0v1.0h-1.0zM381.7 106.8h1.0v1.0h-1.0zM381.8 111.5h1.0v1.0h-1.0zM383.4 109.2h1.0v1.0h-1.0zM382.9 111.3h1.0v1.0h-1.0zM385.3 119.8h1.0v1.0h-1.0zM381.6 113.2h1.0v1.0h-1.0zM382.4 109.1h1.0v1.0h-1.0zM382.9 104.8h1.0v1.0h-1.0zM381.8 89.8h1.0v1.0h-1.0zM382.7 119.4h1.0v1.0h-1.0zM381.0 113.8h1.0v1.0h-1.0zM382.1 112.1h1.0v1.0h-1.0zM381.6 107.9h1.0v1.0h-1.0zM384.1 90.6h1.0v1.0h-1.0zM383.5 108.8h1.0v1.0h-1.0zM377.8 114.8h1.0v1.0h-1.0zM382.8 111.5h1.0v1.0h-1.0zM383.9 106.5h1.0v1.0h-1.0zM381.2 106.1h1.0v1.0h-1.0zM380.9 127.7h1.0v1.0h-1.0zM386.8 106.1h1.0v1.0h-1.0zM382.0 112.4h1.0v1.0h-1.0zM384.4 104.3h1.0v1.0h-1.0zM379.9 125.3h1.0v1.0h-1.0zM385.9 97.3h1.0v1.0h-1.0zM380.0 102.8h1.0v1.0h-1.0zM383.1 114.3h1.0v1.0h-1.0zM383.2 96.6h1.0v1.0h-1.0zM383.0 114.7h1.0v1.0h-1.0zM383.2 105.7h1.0v1.0h-1.0zM384.1 109.4h1.0v1.0h-1.0zM380.7 110.4h1.0v1.0h-1.0zM379.9 117.4h1.0v1.0h-1.0zM384.4 101.7h1.0v1.0h-1.0zM382.7 120.0h1.0v1.0h-1.0zM378.9 108.3h1.0v1.0h-1.0zM387.0 97.3h1.0v1.0h-1.0zM383.4 98.1h1.0v1.0h-1.0zM384.2 90.1h1.0v1.0h-1.0zM380.1 105.1h1.0v1.0h-1.0zM383.0 112.9h1.0v1.0h-1.0zM383.1 119.2h1.0v1.0h-1.0zM383.9 115.9h1.0v1.0h-1.0zM381.1 108.3h1.0v1.0h-1.0zM387.9 128.7h1.0v1.0h-1.0zM384.2 115.9h1.0v1.0h-1.0zM385.1 106.6h1.0v1.0h-1.0zM387.0 106.9h1.0v1.0h-1.0zM381.5 127.6h1.0v1.0h-1.0zM378.7 112.4h1.0v1.0h-1.0zM380.0 104.1h1.0v1.0h-1.0zM383.0 106.8h1.0v1.0h-1.0zM383.7 103.5h1.0v1.0h-1.0zM383.4 100.0h1.0v1.0h-1.0zM383.0 98.3h1.0v1.0h-1.0zM385.0 99.2h1.0v1.0h-1.0zM384.6 106.4h1.0v1.0h-1.0zM381.7 119.4h1.0v1.0h-1.0zM384.3 94.1h1.0v1.0h-1.0zM385.6 85.8h1.0v1.0h-1.0zM383.7 106.5h1.0v1.0h-1.0zM380.2 110.2h1.0v1.0h-1.0zM381.2 126.3h1.0v1.0h-1.0zM381.0 125.8h1.0v1.0h-1.0zM386.0 104.9h1.0v1.0h-1.0zM380.6 120.6h1.0v1.0h-1.0zM382.6 111.1h1.0v1.0h-1.0zM383.2 99.7h1.0v1.0h-1.0zM382.8 101.7h1.0v1.0h-1.0zM380.1 107.1h1.0v1.0h-1.0zM385.5 123.4h1.0v1.0h-1.0zM382.8 110.9h1.0v1.0h-1.0zM383.2 121.1h1.0v1.0h-1.0zM383.9 105.8h1.0v1.0h-1.0zM381.5 119.1h1.0v1.0h-1.0zM388.5 104.9h1.0v1.0h-1.0zM378.4 116.2h1.0v1.0h-1.0zM382.7 110.9h1.0v1.0h-1.0zM385.4 110.5h1.0v1.0h-1.0zM381.5 93.2h1.0v1.0h-1.0zM383.5 100.1h1.0v1.0h-1.0zM384.3 99.2h1.0v1.0h-1.0zM383.1 97.4h1.0v1.0h-1.0zM382.5 106.0h1.0v1.0h-1.0zM383.4 121.0h1.0v1.0h-1.0zM383.1 102.5h1.0v1.0h-1.0zM386.6 113.1h1.0v1.0h-1.0zM383.8 114.9h1.0v1.0h-1.0zM385.3 118.4h1.0v1.0h-1.0zM383.9 116.3h1.0v1.0h-1.0zM381.6 104.6h1.0v1.0h-1.0zM382.7 110.5h1.0v1.0h-1.0zM382.8 112.4h1.0v1.0h-1.0zM383.3 106.2h1.0v1.0h-1.0zM379.2 116.5h1.0v1.0h-1.0zM384.6 102.5h1.0v1.0h-1.0zM383.7 113.1h1.0v1.0h-1.0zM384.2 94.4h1.0v1.0h-1.0zM380.9 104.6h1.0v1.0h-1.0zM386.7 102.8h1.0v1.0h-1.0zM382.9 100.4h1.0v1.0h-1.0zM381.8 112.6h1.0v1.0h-1.0zM380.5 85.8h1.0v1.0h-1.0zM384.3 110.2h1.0v1.0h-1.0zM381.2 117.8h1.0v1.0h-1.0zM386.1 92.4h1.0v1.0h-1.0zM382.0 119.0h1.0v1.0h-1.0zM381.8 107.1h1.0v1.0h-1.0zM385.0 107.7h1.0v1.0h-1.0zM381.0 103.9h1.0v1.0h-1.0zM380.0 114.2h1.0v1.0h-1.0zM378.9 117.9h1.0v1.0h-1.0zM379.7 109.9h1.0v1.0h-1.0zM380.2 106.9h1.0v1.0h-1.0zM384.3 119.3h1.0v1.0h-1.0zM385.6 109.2h1.0v1.0h-1.0zM383.0 111.7h1.0v1.0h-1.0zM384.4 106.5h1.0v1.0h-1.0zM385.0 112.7h1.0v1.0h-1.0zM385.0 113.9h1.0v1.0h-1.0zM384.7 103.8h1.0v1.0h-1.0zM382.9 98.9h1.0v1.0h-1.0zM382.5 108.3h1.0v1.0h-1.0zM385.4 99.3h1.0v1.0h-1.0zM389.5 109.2h1.0v1.0h-1.0zM384.9 118.7h1.0v1.0h-1.0zM378.1 107.2h1.0v1.0h-1.0zM387.3 89.7h1.0v1.0h-1.0zM385.0 102.2h1.0v1.0h-1.0zM381.9 111.6h1.0v1.0h-1.0zM379.1 111.1h1.0v1.0h-1.0zM382.1 103.4h1.0v1.0h-1.0zM382.3 139.3h1.0v1.0h-1.0zM383.3 114.5h1.0v1.0h-1.0zM383.3 103.7h1.0v1.0h-1.0zM382.6 122.5h1.0v1.0h-1.0zM382.8 117.2h1.0v1.0h-1.0zM381.0 130.8h1.0v1.0h-1.0zM379.3 114.4h1.0v1.0h-1.0zM383.9 112.1h1.0v1.0h-1.0zM381.4 100.0h1.0v1.0h-1.0zM382.4 110.5h1.0v1.0h-1.0zM381.2 100.6h1.0v1.0h-1.0zM383.5 118.5h1.0v1.0h-1.0zM382.2 103.8h1.0v1.0h-1.0zM380.1 130.4h1.0v1.0h-1.0zM384.0 109.2h1.0v1.0h-1.0zM383.6 129.1h1.0v1.0h-1.0zM386.1 97.9h1.0v1.0h-1.0zM383.0 106.3h1.0v1.0h-1.0zM383.0 99.4h1.0v1.0h-1.0zM382.8 100.5h1.0v1.0h-1.0zM383.6 110.1h1.0v1.0h-1.0zM381.1 95.2h1.0v1.0h-1.0zM381.6 115.1h1.0v1.0h-1.0zM384.0 109.2h1.0v1.0h-1.0zM376.6 105.1h1.0v1.0h-1.0zM381.7 106.7h1.0v1.0h-1.0zM380.8 105.9h1.0v1.0h-1.0zM380.0 132.4h1.0v1.0h-1.0zM384.5 108.1h1.0v1.0h-1.0zM382.9 108.7h1.0v1.0h-1.0zM383.6 106.3h1.0v1.0h-1.0zM382.3 118.3h1.0v1.0h-1.0zM384.4 112.4h1.0v1.0h-1.0zM385.5 111.7h1.0v1.0h-1.0zM382.0 94.8h1.0v1.0h-1.0zM381.6 109.0h1.0v1.0h-1.0zM383.1 118.8h1.0v1.0h-1.0zM382.3 102.8h1.0v1.0h-1.0zM383.8 119.7h1.0v1.0h-1.0zM381.8 112.4h1.0v1.0h-1.0zM385.5 112.5h1.0v1.0h-1.0zM384.1 92.2h1.0v1.0h-1.0zM385.2 115.3h1.0v1.0h-1.0zM383.5 105.8h1.0v1.0h-1.0zM380.5 108.6h1.0v1.0h-1.0zM382.1 118.9h1.0v1.0h-1.0zM379.7 121.6h1.0v1.0h-1.0zM382.3 119.6h1.0v1.0h-1.0zM380.8 112.4h1.0v1.0h-1.0zM385.3 110.8h1.0v1.0h-1.0zM380.2 106.7h1.0v1.0h-1.0zM384.8 98.0h1.0v1.0h-1.0zM379.9 111.4h1.0v1.0h-1.0zM380.6 115.2h1.0v1.0h-1.0zM381.7 94.1h1.0v1.0h-1.0zM380.5 122.1h1.0v1.0h-1.0zM381.2 109.5h1.0v1.0h-1.0zM384.0 101.7h1.0v1.0h-1.0zM385.0 111.3h1.0v1.0h-1.0zM384.8 95.6h1.0v1.0h-1.0zM381.1 86.3h1.0v1.0h-1.0zM382.7 107.7h1.0v1.0h-1.0zM383.5 122.2h1.0v1.0h-1.0zM382.6 107.4h1.0v1.0h-1.0zM382.9 122.6h1.0v1.0h-1.0zM380.9 114.8h1.0v1.0h-1.0zM382.6 106.8h1.0v1.0h-1.0zM385.0 103.2h1.0v1.0h-1.0zM380.4 115.1h1.0v1.0h-1.0zM383.1 107.5h1.0v1.0h-1.0zM382.4 113.8h1.0v1.0h-1.0zM381.8 116.1h1.0v1.0h-1.0zM382.9 122.2h1.0v1.0h-1.0zM385.0 117.1h1.0v1.0h-1.0zM382.5 110.7h1.0v1.0h-1.0zM380.1 133.5h1.0v1.0h-1.0zM382.2 114.3h1.0v1.0h-1.0zM386.5 98.5h1.0v1.0h-1.0zM381.5 106.3h1.0v1.0h-1.0zM381.7 98.9h1.0v1.0h-1.0zM381.2 120.5h1.0v1.0h-1.0zM384.4 110.1h1.0v1.0h-1.0zM384.0 95.8h1.0v1.0h-1.0zM384.1 113.4h1.0v1.0h-1.0zM380.7 111.3h1.0v1.0h-1.0zM382.9 105.4h1.0v1.0h-1.0zM381.4 103.9h1.0v1.0h-1.0zM380.8 113.5h1.0v1.0h-1.0zM383.5 112.5h1.0v1.0h-1.0zM382.8 106.3h1.0v1.0h-1.0zM388.1 94.4h1.0v1.0h-1.0zM385.1 112.9h1.0v1.0h-1.0zM383.4 105.5h1.0v1.0h-1.0zM383.2 99.8h1.0v1.0h-1.0zM380.3 108.6h1.0v1.0h-1.0zM379.2 116.5h1.0v1.0h-1.0zM387.2 81.1h1.0v1.0h-1.0zM379.7 111.8h1.0v1.0h-1.0zM383.3 110.7h1.0v1.0h-1.0zM383.4 116.1h1.0v1.0h-1.0zM383.6 124.9h1.0v1.0h-1.0zM382.5 117.0h1.0v1.0h-1.0zM379.8 108.4h1.0v1.0h-1.0zM379.7 121.3h1.0v1.0h-1.0zM387.3 114.6h1.0v1.0h-1.0zM380.4 108.7h1.0v1.0h-1.0zM382.9 111.4h1.0v1.0h-1.0zM384.6 117.9h1.0v1.0h-1.0zM376.9 120.9h1.0v1.0h-1.0zM382.3 105.0h1.0v1.0h-1.0zM385.9 107.8h1.0v1.0h-1.0zM381.0 98.5h1.0v1.0h-1.0zM382.5 117.4h1.0v1.0h-1.0zM386.1 108.6h1.0v1.0h-1.0zM381.1 123.3h1.0v1.0h-1.0zM381.2 122.0h1.0v1.0h-1.0zM383.3 111.8h1.0v1.0h-1.0zM382.3 112.3h1.0v1.0h-1.0zM382.4 104.0h1.0v1.0h-1.0zM383.1 104.3h1.0v1.0h-1.0zM383.5 110.6h1.0v1.0h-1.0zM382.6 108.1h1.0v1.0h-1.0zM381.5 124.3h1.0v1.0h-1.0zM383.3 104.8h1.0v1.0h-1.0zM382.0 115.3h1.0v1.0h-1.0zM382.7 108.5h1.0v1.0h-1.0zM382.4 111.1h1.0v1.0h-1.0zM383.5 113.6h1.0v1.0h-1.0zM380.3 100.6h1.0v1.0h-1.0zM377.3 116.1h1.0v1.0h-1.0zM384.4 120.8h1.0v1.0h-1.0zM382.6 119.4h1.0v1.0h-1.0zM383.0 108.8h1.0v1.0h-1.0zM380.4 103.0h1.0v1.0h-1.0zM381.2 117.4h1.0v1.0h-1.0zM386.5 106.1h1.0v1.0h-1.0zM383.5 112.2h1.0v1.0h-1.0zM382.4 95.3h1.0v1.0h-1.0zM382.3 97.7h1.0v1.0h-1.0zM382.4 108.6h1.0v1.0h-1.0zM382.7 108.4h1.0v1.0h-1.0zM384.5 102.1h1.0v1.0h-1.0zM385.7 95.9h1.0v1.0h-1.0zM382.9 113.0h1.0v1.0h-1.0zM382.3 96.3h1.0v1.0h-1.0zM384.6 104.2h1.0v1.0h-1.0zM384.1 116.3h1.0v1.0h-1.0zM383.0 109.8h1.0v1.0h-1.0zM384.7 113.1h1.0v1.0h-1.0zM381.0 111.0h1.0v1.0h-1.0zM383.9 111.5h1.0v1.0h-1.0zM383.4 108.6h1.0v1.0h-1.0zM383.3 101.9h1.0v1.0h-1.0zM379.5 119.0h1.0v1.0h-1.0zM381.6 111.5h1.0v1.0h-1.0zM379.9 110.9h1.0v1.0h-1.0zM379.6 134.4h1.0v1.0h-1.0zM381.5 101.6h1.0v1.0h-1.0zM384.2 119.4h1.0v1.0h-1.0zM378.6 111.6h1.0v1.0h-1.0zM385.4 99.7h1.0v1.0h-1.0zM384.6 105.5h1.0v1.0h-1.0zM381.2 106.7h1.0v1.0h-1.0zM382.9 98.1h1.0v1.0h-1.0zM387.7 106.3h1.0v1.0h-1.0zM381.0 116.8h1.0v1.0h-1.0zM382.0 120.9h1.0v1.0h-1.0zM382.2 112.6h1.0v1.0h-1.0zM383.0 111.2h1.0v1.0h-1.0zM382.6 108.9h1.0v1.0h-1.0zM386.7 104.3h1.0v1.0h-1.0zM382.1 106.8h1.0v1.0h-1.0zM383.9 113.2h1.0v1.0h-1.0zM385.6 98.7h1.0v1.0h-1.0zM383.6 108.3h1.0v1.0h-1.0zM382.3 111.1h1.0v1.0h-1.0zM378.9 111.8h1.0v1.0h-1.0zM384.1 97.9h1.0v1.0h-1.0zM381.9 122.6h1.0v1.0h-1.0zM381.8 114.6h1.0v1.0h-1.0zM383.0 103.0h1.0v1.0h-1.0zM381.4 106.3h1.0v1.0h-1.0zM385.1 116.7h1.0v1.0h-1.0zM381.0 117.9h1.0v1.0h-1.0zM383.1 104.0h1.0v1.0h-1.0zM384.3 102.2h1.0v1.0h-1.0zM379.1 120.3h1.0v1.0h-1.0zM379.0 114.0h1.0v1.0h-1.0zM380.0 109.3h1.0v1.0h-1.0zM382.8 106.1h1.0v1.0h-1.0zM378.7 108.6h1.0v1.0h-1.0zM383.4 102.3h1.0v1.0h-1.0zM382.3 118.0h1.0v1.0h-1.0zM381.4 111.8h1.0v1.0h-1.0zM380.5 112.8h1.0v1.0h-1.0zM382.8 130.4h1.0v1.0h-1.0zM384.5 113.5h1.0v1.0h-1.0zM386.3 101.7h1.0v1.0h-1.0zM385.4 105.4h1.0v1.0h-1.0zM381.1 118.8h1.0v1.0h-1.0zM382.7 120.8h1.0v1.0h-1.0zM380.0 111.8h1.0v1.0h-1.0zM382.1 107.5h1.0v1.0h-1.0zM378.7 117.3h1.0v1.0h-1.0zM384.0 101.7h1.0v1.0h-1.0zM380.8 102.5h1.0v1.0h-1.0zM385.8 109.2h1.0v1.0h-1.0zM382.0 113.9h1.0v1.0h-1.0zM382.9 111.8h1.0v1.0h-1.0zM384.2 112.7h1.0v1.0h-1.0zM385.4 100.1h1.0v1.0h-1.0zM383.3 107.0h1.0v1.0h-1.0zM383.2 109.6h1.0v1.0h-1.0zM381.9 106.9h1.0v1.0h-1.0zM385.2 105.5h1.0v1.0h-1.0zM380.2 114.6h1.0v1.0h-1.0zM385.0 107.8h1.0v1.0h-1.0zM383.7 103.1h1.0v1.0h-1.0zM382.0 119.0h1.0v1.0h-1.0zM384.5 111.3h1.0v1.0h-1.0zM383.4 96.5h1.0v1.0h-1.0zM383.3 113.8h1.0v1.0h-1.0zM383.9 126.7h1.0v1.0h-1.0zM383.2 117.9h1.0v1.0h-1.0zM380.1 119.7h1.0v1.0h-1.0zM383.9 121.3h1.0v1.0h-1.0zM384.1 113.8h1.0v1.0h-1.0zM386.3 104.8h1.0v1.0h-1.0zM383.6 119.0h1.0v1.0h-1.0zM382.1 100.5h1.0v1.0h-1.0zM383.8 111.1h1.0v1.0h-1.0zM383.8 115.4h1.0v1.0h-1.0zM381.3 112.7h1.0v1.0h-1.0zM385.4 107.3h1.0v1.0h-1.0zM383.1 100.8h1.0v1.0h-1.0zM383.5 126.1h1.0v1.0h-1.0zM379.9 116.1h1.0v1.0h-1.0zM385.1 105.6h1.0v1.0h-1.0zM382.9 101.5h1.0v1.0h-1.0zM381.4 111.4h1.0v1.0h-1.0zM384.2 111.2h1.0v1.0h-1.0zM384.6 111.9h1.0v1.0h-1.0zM379.9 121.8h1.0v1.0h-1.0zM385.7 104.5h1.0v1.0h-1.0zM386.2 114.2h1.0v1.0h-1.0zM382.2 125.8h1.0v1.0h-1.0zM379.1 96.7h1.0v1.0h-1.0zM384.5 108.3h1.0v1.0h-1.0zM380.3 122.4h1.0v1.0h-1.0zM384.7 99.8h1.0v1.0h-1.0zM381.3 117.0h1.0v1.0h-1.0zM387.6 94.1h1.0v1.0h-1.0zM383.7 107.1h1.0v1.0h-1.0zM379.7 108.6h1.0v1.0h-1.0zM380.2 105.6h1.0v1.0h-1.0zM385.9 114.7h1.0v1.0h-1.0zM384.2 115.2h1.0v1.0h-1.0zM383.2 118.2h1.0v1.0h-1.0zM381.0 107.2h1.0v1.0h-1.0zM385.1 104.4h1.0v1.0h-1.0zM381.5 120.1h1.0v1.0h-1.0zM386.4 105.5h1.0v1.0h-1.0zM381.1 115.0h1.0v1.0h-1.0zM384.0 104.8h1.0v1.0h-1.0zM383.9 114.9h1.0v1.0h-1.0zM381.5 134.4h1.0v1.0h-1.0zM385.2 117.2h1.0v1.0h-1.0zM383.4 134.7h1.0v1.0h-1.0zM385.6 104.6h1.0v1.0h-1.0zM383.6 111.0h1.0v1.0h-1.0zM381.8 112.4h1.0v1.0h-1.0zM383.6 109.9h1.0v1.0h-1.0zM381.6 117.1h1.0v1.0h-1.0zM379.5 116.9h1.0v1.0h-1.0zM382.9 112.6h1.0v1.0h-1.0zM377.5 123.8h1.0v1.0h-1.0zM380.2 103.0h1.0v1.0h-1.0zM384.7 105.5h1.0v1.0h-1.0zM383.5 92.0h1.0v1.0h-1.0zM382.1 112.0h1.0v1.0h-1.0zM384.5 108.1h1.0v1.0h-1.0zM383.2 114.0h1.0v1.0h-1.0zM382.2 104.1h1.0v1.0h-1.0zM387.4 103.7h1.0v1.0h-1.0zM385.4 111.1h1.0v1.0h-1.0zM386.3 105.3h1.0v1.0h-1.0zM383.9 113.2h1.0v1.0h-1.0zM382.4 112.9h1.0v1.0h-1.0zM381.6 109.6h1.0v1.0h-1.0zM381.8 116.6h1.0v1.0h-1.0zM383.7 98.9h1.0v1.0h-1.0zM382.4 109.5h1.0v1.0h-1.0zM380.5 121.2h1.0v1.0h-1.0zM383.4 117.4h1.0v1.0h-1.0zM381.8 107.0h1.0v1.0h-1.0zM385.9 98.8h1.0v1.0h-1.0zM383.7 111.2h1.0v1.0h-1.0zM382.0 111.1h1.0v1.0h-1.0zM380.8 112.1h1.0v1.0h-1.0zM381.4 99.7h1.0v1.0h-1.0zM386.2 104.8h1.0v1.0h-1.0zM378.4 118.1h1.0v1.0h-1.0zM383.6 81.3h1.0v1.0h-1.0zM382.4 118.0h1.0v1.0h-1.0zM382.8 124.6h1.0v1.0h-1.0zM382.5 115.3h1.0v1.0h-1.0zM381.0 111.6h1.0v1.0h-1.0zM385.8 114.8h1.0v1.0h-1.0zM384.5 94.1h1.0v1.0h-1.0zM383.1 99.7h1.0v1.0h-1.0zM385.0 104.4h1.0v1.0h-1.0zM384.4 102.2h1.0v1.0h-1.0zM387.4 101.0h1.0v1.0h-1.0zM381.8 132.1h1.0v1.0h-1.0zM384.0 103.2h1.0v1.0h-1.0zM383.7 118.7h1.0v1.0h-1.0zM385.9 94.3h1.0v1.0h-1.0zM384.7 92.9h1.0v1.0h-1.0zM386.8 111.3h1.0v1.0h-1.0zM381.8 115.9h1.0v1.0h-1.0zM384.7 100.7h1.0v1.0h-1.0zM386.4 108.6h1.0v1.0h-1.0zM378.8 121.7h1.0v1.0h-1.0zM385.4 121.0h1.0v1.0h-1.0zM384.7 103.1h1.0v1.0h-1.0zM383.8 125.9h1.0v1.0h-1.0zM383.7 123.8h1.0v1.0h-1.0zM381.0 118.8h1.0v1.0h-1.0zM385.8 98.2h1.0v1.0h-1.0zM380.3 104.2h1.0v1.0h-1.0zM383.0 114.2h1.0v1.0h-1.0zM382.7 109.9h1.0v1.0h-1.0zM382.8 111.2h1.0v1.0h-1.0zM383.9 114.6h1.0v1.0h-1.0zM382.8 112.6h1.0v1.0h-1.0zM381.7 117.0h1.0v1.0h-1.0zM381.1 124.0h1.0v1.0h-1.0zM382.9 112.7h1.0v1.0h-1.0zM381.8 107.5h1.0v1.0h-1.0zM383.4 110.6h1.0v1.0h-1.0zM382.5 100.7h1.0v1.0h-1.0zM383.1 111.7h1.0v1.0h-1.0zM383.4 120.9h1.0v1.0h-1.0zM383.6 93.8h1.0v1.0h-1.0zM383.9 95.1h1.0v1.0h-1.0zM379.9 118.9h1.0v1.0h-1.0zM384.6 105.2h1.0v1.0h-1.0zM381.9 109.6h1.0v1.0h-1.0zM379.3 114.2h1.0v1.0h-1.0zM381.3 125.7h1.0v1.0h-1.0zM380.4 118.7h1.0v1.0h-1.0zM381.1 118.9h1.0v1.0h-1.0zM380.7 116.5h1.0v1.0h-1.0zM382.7 103.5h1.0v1.0h-1.0zM382.5 114.4h1.0v1.0h-1.0zM383.0 123.7h1.0v1.0h-1.0zM386.2 88.6h1.0v1.0h-1.0zM383.4 93.8h1.0v1.0h-1.0zM382.0 115.6h1.0v1.0h-1.0zM381.1 100.4h1.0v1.0h-1.0zM383.5 108.1h1.0v1.0h-1.0zM386.0 113.4h1.0v1.0h-1.0zM383.1 125.2h1.0v1.0h-1.0zM382.1 110.4h1.0v1.0h-1.0zM381.0 112.5h1.0v1.0h-1.0zM384.3 122.1h1.0v1.0h-1.0zM383.4 104.5h1.0v1.0h-1.0zM382.4 98.7h1.0v1.0h-1.0zM382.5 121.9h1.0v1.0h-1.0zM379.6 92.0h1.0v1.0h-1.0zM386.8 97.2h1.0v1.0h-1.0zM384.5 100.0h1.0v1.0h-1.0zM384.2 117.2h1.0v1.0h-1.0zM382.9 117.4h1.0v1.0h-1.0zM382.9 115.3h1.0v1.0h-1.0zM386.1 120.0h1.0v1.0h-1.0zM382.2 103.7h1.0v1.0h-1.0zM382.7 108.6h1.0v1.0h-1.0zM383.6 105.5h1.0v1.0h-1.0zM384.4 111.0h1.0v1.0h-1.0zM383.8 110.7h1.0v1.0h-1.0zM385.0 100.6h1.0v1.0h-1.0zM386.0 113.7h1.0v1.0h-1.0zM383.6 115.8h1.0v1.0h-1.0zM384.8 116.9h1.0v1.0h-1.0zM383.7 109.1h1.0v1.0h-1.0zM379.7 112.2h1.0v1.0h-1.0zM382.7 107.9h1.0v1.0h-1.0zM389.0 95.4h1.0v1.0h-1.0zM382.5 120.8h1.0v1.0h-1.0zM384.3 121.2h1.0v1.0h-1.0zM381.1 102.4h1.0v1.0h-1.0zM384.5 108.3h1.0v1.0h-1.0zM386.4 112.8h1.0v1.0h-1.0zM383.2 114.4h1.0v1.0h-1.0zM382.5 111.6h1.0v1.0h-1.0zM381.8 110.3h1.0v1.0h-1.0zM382.0 112.8h1.0v1.0h-1.0zM381.2 98.0h1.0v1.0h-1.0zM383.9 112.7h1.0v1.0h-1.0zM381.3 108.7h1.0v1.0h-1.0zM379.8 127.7h1.0v1.0h-1.0zM379.0 124.9h1.0v1.0h-1.0zM381.2 114.1h1.0v1.0h-1.0zM382.8 107.5h1.0v1.0h-1.0zM384.5 117.7h1.0v1.0h-1.0zM383.1 103.1h1.0v1.0h-1.0zM386.4 122.8h1.0v1.0h-1.0zM383.6 108.3h1.0v1.0h-1.0zM383.7 111.5h1.0v1.0h-1.0zM386.1 102.8h1.0v1.0h-1.0zM383.6 104.2h1.0v1.0h-1.0zM384.7 126.0h1.0v1.0h-1.0zM382.6 115.3h1.0v1.0h-1.0zM386.1 108.4h1.0v1.0h-1.0zM380.7 119.3h1.0v1.0h-1.0zM384.3 109.1h1.0v1.0h-1.0zM385.9 113.0h1.0v1.0h-1.0zM379.4 113.4h1.0v1.0h-1.0zM381.9 126.5h1.0v1.0h-1.0zM383.2 109.0h1.0v1.0h-1.0zM383.9 112.9h1.0v1.0h-1.0zM380.2 111.6h1.0v1.0h-1.0zM381.7 122.5h1.0v1.0h-1.0zM388.6 101.8h1.0v1.0h-1.0zM381.7 103.6h1.0v1.0h-1.0zM382.2 104.9h1.0v1.0h-1.0zM382.6 119.9h1.0v1.0h-1.0zM381.4 97.7h1.0v1.0h-1.0zM378.8 119.8h1.0v1.0h-1.0zM386.7 98.1h1.0v1.0h-1.0zM379.8 111.7h1.0v1.0h-1.0zM384.7 119.5h1.0v1.0h-1.0zM383.1 116.5h1.0v1.0h-1.0zM384.1 106.2h1.0v1.0h-1.0zM386.9 111.1h1.0v1.0h-1.0zM381.2 106.7h1.0v1.0h-1.0zM380.0 110.7h1.0v1.0h-1.0zM386.1 100.4h1.0v1.0h-1.0zM384.2 128.5h1.0v1.0h-1.0zM384.6 101.2h1.0v1.0h-1.0zM381.6 107.9h1.0v1.0h-1.0zM381.3 100.1h1.0v1.0h-1.0zM382.7 109.3h1.0v1.0h-1.0zM385.0 100.8h1.0v1.0h-1.0zM386.2 120.0h1.0v1.0h-1.0zM385.3 105.5h1.0v1.0h-1.0zM386.8 108.2h1.0v1.0h-1.0zM386.1 120.0h1.0v1.0h-1.0zM381.6 106.9h1.0v1.0h-1.0zM386.3 119.5h1.0v1.0h-1.0zM382.7 112.5h1.0v1.0h-1.0zM384.0 104.4h1.0v1.0h-1.0zM383.1 105.2h1.0v1.0h-1.0zM382.0 114.7h1.0v1.0h-1.0zM380.8 116.8h1.0v1.0h-1.0zM382.9 117.2h1.0v1.0h-1.0zM384.2 121.4h1.0v1.0h-1.0zM384.0 116.8h1.0v1.0h-1.0zM382.4 115.6h1.0v1.0h-1.0zM381.5 108.6h1.0v1.0h-1.0zM384.7 110.5h1.0v1.0h-1.0zM384.6 102.0h1.0v1.0h-1.0zM386.2 106.2h1.0v1.0h-1.0zM383.9 110.7h1.0v1.0h-1.0zM385.2 107.7h1.0v1.0h-1.0zM382.2 94.7h1.0v1.0h-1.0zM383.2 100.7h1.0v1.0h-1.0zM383.4 123.0h1.0v1.0h-1.0zM379.4 99.7h1.0v1.0h-1.0zM383.0 121.2h1.0v1.0h-1.0zM383.6 113.6h1.0v1.0h-1.0zM383.8 115.7h1.0v1.0h-1.0zM386.1 116.2h1.0v1.0h-1.0zM380.9 106.7h1.0v1.0h-1.0zM384.0 104.0h1.0v1.0h-1.0zM382.9 106.3h1.0v1.0h-1.0zM381.3 116.5h1.0v1.0h-1.0zM383.0 101.6h1.0v1.0h-1.0zM381.7 111.0h1.0v1.0h-1.0zM387.2 113.3h1.0v1.0h-1.0zM385.8 115.2h1.0v1.0h-1.0zM378.6 113.7h1.0v1.0h-1.0zM382.2 99.3h1.0v1.0h-1.0zM379.9 125.7h1.0v1.0h-1.0zM380.3 105.4h1.0v1.0h-1.0zM385.1 116.6h1.0v1.0h-1.0zM379.8 109.6h1.0v1.0h-1.0zM382.2 109.1h1.0v1.0h-1.0zM385.0 106.0h1.0v1.0h-1.0zM381.6 123.1h1.0v1.0h-1.0zM379.6 107.4h1.0v1.0h-1.0zM384.8 100.3h1.0v1.0h-1.0zM382.6 99.6h1.0v1.0h-1.0zM383.8 105.5h1.0v1.0h-1.0zM384.1 119.5h1.0v1.0h-1.0zM383.4 107.6h1.0v1.0h-1.0zM383.6 111.3h1.0v1.0h-1.0zM380.1 119.7h1.0v1.0h-1.0zM383.1 117.5h1.0v1.0h-1.0zM379.9 118.0h1.0v1.0h-1.0zM387.0 116.3h1.0v1.0h-1.0zM380.2 110.9h1.0v1.0h-1.0zM382.9 112.6h1.0v1.0h-1.0zM382.4 114.9h1.0v1.0h-1.0zM382.1 112.6h1.0v1.0h-1.0zM381.7 111.5h1.0v1.0h-1.0zM385.4 106.7h1.0v1.0h-1.0zM385.0 103.4h1.0v1.0h-1.0zM382.5 108.7h1.0v1.0h-1.0zM386.1 104.4h1.0v1.0h-1.0zM386.4 98.5h1.0v1.0h-1.0zM382.3 118.4h1.0v1.0h-1.0zM385.1 102.3h1.0v1.0h-1.0zM380.1 118.0h1.0v1.0h-1.0zM380.2 115.5h1.0v1.0h-1.0zM382.1 110.6h1.0v1.0h-1.0zM386.9 124.2h1.0v1.0h-1.0zM385.6 99.2h1.0v1.0h-1.0zM383.7 111.2h1.0v1.0h-1.0zM382.1 122.0h1.0v1.0h-1.0zM379.5 113.2h1.0v1.0h-1.0zM383.8 104.4h1.0v1.0h-1.0zM387.4 100.2h1.0v1.0h-1.0zM383.1 111.4h1.0v1.0h-1.0zM379.5 98.3h1.0v1.0h-1.0zM380.7 117.2h1.0v1.0h-1.0zM384.7 115.9h1.0v1.0h-1.0zM384.9 92.1h1.0v1.0h-1.0zM383.9 106.4h1.0v1.0h-1.0zM384.7 122.3h1.0v1.0h-1.0zM387.2 117.0h1.0v1.0h-1.0zM385.4 102.1h1.0v1.0h-1.0zM384.0 100.2h1.0v1.0h-1.0zM385.6 100.7h1.0v1.0h-1.0zM383.2 103.7h1.0v1.0h-1.0zM381.9 114.5h1.0v1.0h-1.0zM381.8 112.5h1.0v1.0h-1.0zM380.3 122.4h1.0v1.0h-1.0zM381.2 119.2h1.0v1.0h-1.0zM388.9 90.3h1.0v1.0h-1.0zM381.2 108.8h1.0v1.0h-1.0zM385.8 106.7h1.0v1.0h-1.0zM384.3 104.5h1.0v1.0h-1.0zM385.0 100.4h1.0v1.0h-1.0zM386.6 85.3h1.0v1.0h-1.0zM378.2 125.8h1.0v1.0h-1.0zM384.0 103.0h1.0v1.0h-1.0zM386.9 119.9h1.0v1.0h-1.0zM385.6 107.2h1.0v1.0h-1.0zM384.1 115.0h1.0v1.0h-1.0zM379.4 115.4h1.0v1.0h-1.0zM382.0 121.6h1.0v1.0h-1.0zM386.1 105.3h1.0v1.0h-1.0zM381.8 112.2h1.0v1.0h-1.0zM384.7 107.2h1.0v1.0h-1.0zM382.5 115.8h1.0v1.0h-1.0zM383.3 120.6h1.0v1.0h-1.0zM384.1 103.1h1.0v1.0h-1.0zM379.0 117.3h1.0v1.0h-1.0zM382.6 107.6h1.0v1.0h-1.0zM383.4 97.1h1.0v1.0h-1.0zM383.9 88.2h1.0v1.0h-1.0zM382.8 102.9h1.0v1.0h-1.0zM386.6 114.7h1.0v1.0h-1.0zM382.6 111.9h1.0v1.0h-1.0zM385.0 104.2h1.0v1.0h-1.0zM382.8 107.5h1.0v1.0h-1.0zM388.1 111.5h1.0v1.0h-1.0zM378.6 117.1h1.0v1.0h-1.0zM389.0 102.7h1.0v1.0h-1.0zM390.2 110.5h1.0v1.0h-1.0zM385.5 105.9h1.0v1.0h-1.0zM383.3 99.9h1.0v1.0h-1.0zM382.2 92.0h1.0v1.0h-1.0zM386.1 100.8h1.0v1.0h-1.0zM383.7 113.4h1.0v1.0h-1.0zM381.7 110.9h1.0v1.0h-1.0zM383.2 106.3h1.0v1.0h-1.0zM383.2 111.0h1.0v1.0h-1.0zM381.8 99.2h1.0v1.0h-1.0zM381.3 111.5h1.0v1.0h-1.0zM385.0 123.4h1.0v1.0h-1.0zM383.2 118.7h1.0v1.0h-1.0zM382.7 120.1h1.0v1.0h-1.0zM383.1 113.9h1.0v1.0h-1.0zM382.5 110.4h1.0v1.0h-1.0zM387.7 100.4h1.0v1.0h-1.0zM383.4 105.4h1.0v1.0h-1.0zM384.0 126.3h1.0v1.0h-1.0zM384.1 86.5h1.0v1.0h-1.0zM384.0 115.9h1.0v1.0h-1.0zM379.8 108.2h1.0v1.0h-1.0zM384.3 90.4h1.0v1.0h-1.0zM384.2 114.4h1.0v1.0h-1.0zM384.2 101.3h1.0v1.0h-1.0zM382.0 104.9h1.0v1.0h-1.0zM384.7 102.0h1.0v1.0h-1.0zM385.9 114.0h1.0v1.0h-1.0zM377.6 124.8h1.0v1.0h-1.0zM383.7 105.7h1.0v1.0h-1.0zM384.4 94.6h1.0v1.0h-1.0zM385.0 89.1h1.0v1.0h-1.0zM380.1 122.1h1.0v1.0h-1.0zM385.9 107.6h1.0v1.0h-1.0zM380.5 118.4h1.0v1.0h-1.0zM382.8 112.3h1.0v1.0h-1.0zM385.0 101.1h1.0v1.0h-1.0zM386.0 92.1h1.0v1.0h-1.0zM387.1 96.9h1.0v1.0h-1.0zM382.2 104.5h1.0v1.0h-1.0zM384.1 117.0h1.0v1.0h-1.0zM383.5 115.2h1.0v1.0h-1.0zM384.1 109.8h1.0v1.0h-1.0zM380.5 90.0h1.0v1.0h-1.0zM378.3 109.6h1.0v1.0h-1.0zM382.7 109.1h1.0v1.0h-1.0zM383.7 108.3h1.0v1.0h-1.0zM381.9 97.1h1.0v1.0h-1.0zM378.4 120.7h1.0v1.0h-1.0zM385.8 98.6h1.0v1.0h-1.0zM382.2 114.1h1.0v1.0h-1.0zM386.7 105.3h1.0v1.0h-1.0zM382.7 120.5h1.0v1.0h-1.0zM379.9 103.6h1.0v1.0h-1.0zM383.4 104.0h1.0v1.0h-1.0zM386.9 118.2h1.0v1.0h-1.0zM384.0 101.9h1.0v1.0h-1.0zM384.5 115.9h1.0v1.0h-1.0zM382.2 106.4h1.0v1.0h-1.0zM380.0 109.4h1.0v1.0h-1.0zM384.2 119.2h1.0v1.0h-1.0zM383.7 117.6h1.0v1.0h-1.0zM382.1 106.1h1.0v1.0h-1.0zM385.3 114.4h1.0v1.0h-1.0zM381.1 114.5h1.0v1.0h-1.0zM384.3 116.6h1.0v1.0h-1.0zM383.6 105.7h1.0v1.0h-1.0zM382.8 125.1h1.0v1.0h-1.0zM383.8 104.4h1.0v1.0h-1.0zM384.5 99.5h1.0v1.0h-1.0zM383.7 107.6h1.0v1.0h-1.0zM385.0 111.3h1.0v1.0h-1.0zM383.8 130.5h1.0v1.0h-1.0zM383.1 102.9h1.0v1.0h-1.0zM384.0 109.5h1.0v1.0h-1.0zM383.7 105.0h1.0v1.0h-1.0zM384.1 110.9h1.0v1.0h-1.0zM378.7 107.8h1.0v1.0h-1.0zM383.0 120.5h1.0v1.0h-1.0zM382.3 103.1h1.0v1.0h-1.0zM385.8 105.0h1.0v1.0h-1.0zM383.0 114.3h1.0v1.0h-1.0zM384.6 110.4h1.0v1.0h-1.0zM380.1 118.8h1.0v1.0h-1.0zM382.4 105.6h1.0v1.0h-1.0zM386.7 118.1h1.0v1.0h-1.0zM381.1 105.8h1.0v1.0h-1.0zM383.0 103.6h1.0v1.0h-1.0zM378.6 116.9h1.0v1.0h-1.0zM384.5 112.4h1.0v1.0h-1.0zM382.1 112.0h1.0v1.0h-1.0zM385.0 101.2h1.0v1.0h-1.0zM382.7 105.3h1.0v1.0h-1.0zM384.3 112.5h1.0v1.0h-1.0zM380.7 104.6h1.0v1.0h-1.0zM387.3 102.0h1.0v1.0h-1.0zM383.7 104.7h1.0v1.0h-1.0zM385.6 109.8h1.0v1.0h-1.0zM382.8 99.9h1.0v1.0h-1.0zM382.0 117.3h1.0v1.0h-1.0zM385.2 98.7h1.0v1.0h-1.0zM386.4 108.2h1.0v1.0h-1.0zM380.8 111.1h1.0v1.0h-1.0zM382.1 105.0h1.0v1.0h-1.0zM381.8 109.2h1.0v1.0h-1.0zM383.0 95.2h1.0v1.0h-1.0zM384.4 105.7h1.0v1.0h-1.0zM385.2 114.9h1.0v1.0h-1.0zM384.2 111.8h1.0v1.0h-1.0zM385.9 107.5h1.0v1.0h-1.0zM380.8 112.9h1.0v1.0h-1.0zM377.6 106.5h1.0v1.0h-1.0zM383.7 106.5h1.0v1.0h-1.0zM385.2 116.3h1.0v1.0h-1.0zM383.5 106.6h1.0v1.0h-1.0zM385.7 104.4h1.0v1.0h-1.0zM381.7 116.5h1.0v1.0h-1.0zM383.0 127.8h1.0v1.0h-1.0zM383.7 93.8h1.0v1.0h-1.0zM383.6 121.1h1.0v1.0h-1.0zM381.7 123.5h1.0v1.0h-1.0zM387.1 104.6h1.0v1.0h-1.0zM382.8 99.2h1.0v1.0h-1.0zM383.7 116.4h1.0v1.0h-1.0zM385.0 99.5h1.0v1.0h-1.0zM382.3 97.6h1.0v1.0h-1.0zM380.5 98.2h1.0v1.0h-1.0zM379.9 108.2h1.0v1.0h-1.0zM383.5 115.5h1.0v1.0h-1.0zM383.4 104.2h1.0v1.0h-1.0zM382.6 115.0h1.0v1.0h-1.0zM382.4 110.4h1.0v1.0h-1.0zM382.7 105.4h1.0v1.0h-1.0zM383.7 100.4h1.0v1.0h-1.0zM386.1 96.7h1.0v1.0h-1.0zM384.8 98.3h1.0v1.0h-1.0zM385.6 117.7h1.0v1.0h-1.0zM381.6 106.0h1.0v1.0h-1.0zM380.7 109.3h1.0v1.0h-1.0zM382.3 132.1h1.0v1.0h-1.0zM379.4 120.5h1.0v1.0h-1.0zM381.6 112.3h1.0v1.0h-1.0zM384.5 114.8h1.0v1.0h-1.0zM384.0 108.4h1.0v1.0h-1.0zM382.9 111.3h1.0v1.0h-1.0zM386.3 97.5h1.0v1.0h-1.0zM382.7 99.2h1.0v1.0h-1.0zM381.5 103.0h1.0v1.0h-1.0zM384.0 128.6h1.0v1.0h-1.0zM386.5 100.0h1.0v1.0h-1.0zM383.8 100.2h1.0v1.0h-1.0zM383.1 121.0h1.0v1.0h-1.0zM383.7 117.6h1.0v1.0h-1.0zM383.9 93.0h1.0v1.0h-1.0zM379.0 108.9h1.0v1.0h-1.0zM383.4 121.0h1.0v1.0h-1.0zM382.2 110.6h1.0v1.0h-1.0zM382.9 119.2h1.0v1.0h-1.0zM383.5 100.6h1.0v1.0h-1.0zM385.0 113.7h1.0v1.0h-1.0zM384.5 99.1h1.0v1.0h-1.0zM384.0 95.2h1.0v1.0h-1.0zM379.0 107.7h1.0v1.0h-1.0zM381.8 114.8h1.0v1.0h-1.0zM386.0 109.9h1.0v1.0h-1.0zM387.0 105.2h1.0v1.0h-1.0zM385.3 99.2h1.0v1.0h-1.0zM383.4 107.3h1.0v1.0h-1.0zM382.2 115.0h1.0v1.0h-1.0zM379.1 110.7h1.0v1.0h-1.0zM381.3 110.9h1.0v1.0h-1.0zM384.0 106.9h1.0v1.0h-1.0zM382.9 100.0h1.0v1.0h-1.0zM384.5 104.3h1.0v1.0h-1.0zM384.8 97.8h1.0v1.0h-1.0zM386.4 101.4h1.0v1.0h-1.0zM385.6 106.3h1.0v1.0h-1.0zM384.2 108.8h1.0v1.0h-1.0zM384.4 110.1h1.0v1.0h-1.0zM385.2 116.0h1.0v1.0h-1.0zM383.4 124.4h1.0v1.0h-1.0zM380.8 121.1h1.0v1.0h-1.0zM384.0 97.3h1.0v1.0h-1.0zM384.1 108.3h1.0v1.0h-1.0zM386.7 106.0h1.0v1.0h-1.0zM383.0 112.0h1.0v1.0h-1.0zM378.8 114.1h1.0v1.0h-1.0zM380.1 122.0h1.0v1.0h-1.0zM386.4 110.2h1.0v1.0h-1.0zM379.6 111.3h1.0v1.0h-1.0zM382.9 116.2h1.0v1.0h-1.0zM383.1 99.7h1.0v1.0h-1.0zM383.3 102.0h1.0v1.0h-1.0zM387.1 104.2h1.0v1.0h-1.0zM381.7 109.5h1.0v1.0h-1.0zM380.7 106.0h1.0v1.0h-1.0zM383.0 105.8h1.0v1.0h-1.0zM381.7 120.6h1.0v1.0h-1.0zM384.7 98.6h1.0v1.0h-1.0zM381.7 116.3h1.0v1.0h-1.0zM381.6 110.6h1.0v1.0h-1.0zM382.6 114.5h1.0v1.0h-1.0zM382.7 108.8h1.0v1.0h-1.0zM381.0 113.0h1.0v1.0h-1.0zM380.1 124.8h1.0v1.0h-1.0zM383.1 108.1h1.0v1.0h-1.0zM384.7 109.4h1.0v1.0h-1.0zM383.2 109.6h1.0v1.0h-1.0zM382.1 102.0h1.0v1.0h-1.0zM380.9 119.6h1.0v1.0h-1.0zM382.0 106.4h1.0v1.0h-1.0zM381.7 115.9h1.0v1.0h-1.0zM387.6 102.3h1.0v1.0h-1.0zM384.0 111.1h1.0v1.0h-1.0zM382.1 114.3h1.0v1.0h-1.0zM379.9 117.0h1.0v1.0h-1.0zM384.0 101.5h1.0v1.0h-1.0zM385.7 117.5h1.0v1.0h-1.0zM386.2 97.7h1.0v1.0h-1.0zM382.8 105.5h1.0v1.0h-1.0zM383.5 121.7h1.0v1.0h-1.0zM379.1 109.9h1.0v1.0h-1.0zM382.1 118.6h1.0v1.0h-1.0zM383.7 99.1h1.0v1.0h-1.0zM383.2 101.1h1.0v1.0h-1.0zM381.4 110.3h1.0v1.0h-1.0zM381.9 112.3h1.0v1.0h-1.0zM378.5 129.7h1.0v1.0h-1.0zM385.1 116.3h1.0v1.0h-1.0zM381.7 91.3h1.0v1.0h-1.0zM381.4 107.9h1.0v1.0h-1.0zM386.8 121.5h1.0v1.0h-1.0zM381.2 120.3h1.0v1.0h-1.0zM385.5 110.3h1.0v1.0h-1.0zM385.3 113.0h1.0v1.0h-1.0zM382.4 99.8h1.0v1.0h-1.0zM382.2 118.5h1.0v1.0h-1.0zM381.2 96.0h1.0v1.0h-1.0zM385.7 86.8h1.0v1.0h-1.0zM387.0 106.5h1.0v1.0h-1.0zM383.4 126.0h1.0v1.0h-1.0zM380.7 100.8h1.0v1.0h-1.0zM387.7 107.9h1.0v1.0h-1.0zM382.6 111.9h1.0v1.0h-1.0zM384.4 121.5h1.0v1.0h-1.0zM383.4 107.1h1.0v1.0h-1.0zM382.7 112.6h1.0v1.0h-1.0zM385.6 111.3h1.0v1.0h-1.0zM387.2 102.9h1.0v1.0h-1.0zM383.0 125.1h1.0v1.0h-1.0zM385.4 113.0h1.0v1.0h-1.0zM381.6 103.8h1.0v1.0h-1.0zM382.5 112.6h1.0v1.0h-1.0zM383.4 97.5h1.0v1.0h-1.0zM381.2 114.3h1.0v1.0h-1.0zM385.5 98.1h1.0v1.0h-1.0zM383.3 95.6h1.0v1.0h-1.0zM379.7 140.3h1.0v1.0h-1.0zM383.3 107.1h1.0v1.0h-1.0zM382.5 99.5h1.0v1.0h-1.0zM379.2 109.4h1.0v1.0h-1.0zM381.6 122.6h1.0v1.0h-1.0zM379.4 113.5h1.0v1.0h-1.0zM386.9 93.4h1.0v1.0h-1.0zM385.3 96.3h1.0v1.0h-1.0zM383.2 122.7h1.0v1.0h-1.0zM382.8 112.5h1.0v1.0h-1.0zM381.4 112.4h1.0v1.0h-1.0zM385.4 108.6h1.0v1.0h-1.0zM382.5 113.3h1.0v1.0h-1.0zM385.7 96.1h1.0v1.0h-1.0zM383.5 104.1h1.0v1.0h-1.0zM383.4 119.0h1.0v1.0h-1.0zM382.9 121.1h1.0v1.0h-1.0zM381.2 106.4h1.0v1.0h-1.0zM380.9 110.4h1.0v1.0h-1.0zM383.3 108.3h1.0v1.0h-1.0zM380.6 109.2h1.0v1.0h-1.0zM381.7 115.1h1.0v1.0h-1.0zM381.8 119.9h1.0v1.0h-1.0zM384.6 94.1h1.0v1.0h-1.0zM383.5 97.7h1.0v1.0h-1.0zM384.1 122.4h1.0v1.0h-1.0zM382.7 113.8h1.0v1.0h-1.0zM381.4 90.5h1.0v1.0h-1.0zM382.0 107.7h1.0v1.0h-1.0zM379.9 110.6h1.0v1.0h-1.0zM383.3 115.6h1.0v1.0h-1.0zM385.7 117.2h1.0v1.0h-1.0zM382.2 110.9h1.0v1.0h-1.0zM384.9 101.1h1.0v1.0h-1.0zM385.2 117.9h1.0v1.0h-1.0zM382.9 104.5h1.0v1.0h-1.0zM390.3 117.8h1.0v1.0h-1.0zM383.8 125.6h1.0v1.0h-1.0zM384.9 112.0h1.0v1.0h-1.0zM385.0 102.3h1.0v1.0h-1.0zM385.4 96.9h1.0v1.0h-1.0zM383.5 114.9h1.0v1.0h-1.0zM378.7 126.3h1.0v1.0h-1.0zM380.0 118.9h1.0v1.0h-1.0zM381.7 112.7h1.0v1.0h-1.0zM347.3 76.0h1.0v1.0h-1.0zM352.9 83.4h1.0v1.0h-1.0zM352.4 81.0h1.0v1.0h-1.0zM357.4 74.2h1.0v1.0h-1.0zM362.2 78.5h1.0v1.0h-1.0zM352.9 88.0h1.0v1.0h-1.0zM351.4 81.1h1.0v1.0h-1.0zM360.1 82.6h1.0v1.0h-1.0zM357.0 84.9h1.0v1.0h-1.0zM353.4 86.1h1.0v1.0h-1.0zM353.6 80.7h1.0v1.0h-1.0zM356.8 84.6h1.0v1.0h-1.0zM357.9 76.5h1.0v1.0h-1.0zM351.8 88.4h1.0v1.0h-1.0zM356.4 85.0h1.0v1.0h-1.0zM353.4 78.3h1.0v1.0h-1.0zM352.8 90.0h1.0v1.0h-1.0zM351.7 88.9h1.0v1.0h-1.0zM350.8 87.9h1.0v1.0h-1.0zM350.3 81.8h1.0v1.0h-1.0zM349.2 84.2h1.0v1.0h-1.0zM357.7 77.9h1.0v1.0h-1.0zM352.3 78.9h1.0v1.0h-1.0zM350.7 75.5h1.0v1.0h-1.0zM349.6 85.1h1.0v1.0h-1.0zM359.5 81.5h1.0v1.0h-1.0zM352.6 82.8h1.0v1.0h-1.0zM352.8 80.0h1.0v1.0h-1.0zM356.4 84.3h1.0v1.0h-1.0zM354.8 79.0h1.0v1.0h-1.0zM360.1 80.7h1.0v1.0h-1.0zM356.4 76.9h1.0v1.0h-1.0zM351.8 81.9h1.0v1.0h-1.0zM351.7 84.4h1.0v1.0h-1.0zM356.9 75.0h1.0v1.0h-1.0zM344.4 84.4h1.0v1.0h-1.0zM349.3 89.0h1.0v1.0h-1.0zM355.5 78.2h1.0v1.0h-1.0zM356.4 81.4h1.0v1.0h-1.0zM355.8 77.3h1.0v1.0h-1.0zM354.1 88.5h1.0v1.0h-1.0zM348.9 90.7h1.0v1.0h-1.0zM351.6 82.7h1.0v1.0h-1.0zM352.1 70.1h1.0v1.0h-1.0zM358.4 92.0h1.0v1.0h-1.0zM361.1 74.7h1.0v1.0h-1.0zM354.0 84.5h1.0v1.0h-1.0zM353.7 83.7h1.0v1.0h-1.0zM351.2 80.1h1.0v1.0h-1.0zM350.8 78.9h1.0v1.0h-1.0zM356.7 78.5h1.0v1.0h-1.0zM353.9 79.5h1.0v1.0h-1.0zM352.3 86.8h1.0v1.0h-1.0zM354.1 84.4h1.0v1.0h-1.0zM349.8 78.4h1.0v1.0h-1.0zM358.4 78.6h1.0v1.0h-1.0zM354.4 76.5h1.0v1.0h-1.0zM359.4 81.4h1.0v1.0h-1.0zM350.4 84.4h1.0v1.0h-1.0zM356.8 86.0h1.0v1.0h-1.0zM356.9 84.4h1.0v1.0h-1.0zM354.4 79.6h1.0v1.0h-1.0zM353.4 78.4h1.0v1.0h-1.0zM355.5 81.9h1.0v1.0h-1.0zM353.2 85.3h1.0v1.0h-1.0zM356.4 74.9h1.0v1.0h-1.0zM353.4 75.3h1.0v1.0h-1.0zM347.4 80.2h1.0v1.0h-1.0zM352.4 74.0h1.0v1.0h-1.0zM348.7 85.2h1.0v1.0h-1.0zM351.1 86.8h1.0v1.0h-1.0zM354.5 79.7h1.0v1.0h-1.0zM354.8 85.8h1.0v1.0h-1.0zM356.3 76.8h1.0v1.0h-1.0zM354.7 75.4h1.0v1.0h-1.0zM353.0 82.2h1.0v1.0h-1.0zM356.4 91.2h1.0v1.0h-1.0zM354.5 87.8h1.0v1.0h-1.0zM349.6 96.6h1.0v1.0h-1.0zM354.2 97.6h1.0v1.0h-1.0zM354.5 84.6h1.0v1.0h-1.0zM357.2 84.3h1.0v1.0h-1.0zM356.9 77.3h1.0v1.0h-1.0zM356.9 83.9h1.0v1.0h-1.0zM357.2 81.9h1.0v1.0h-1.0zM347.1 82.4h1.0v1.0h-1.0zM360.3 76.8h1.0v1.0h-1.0zM351.3 79.3h1.0v1.0h-1.0zM356.4 72.9h1.0v1.0h-1.0zM358.0 89.4h1.0v1.0h-1.0zM355.3 71.9h1.0v1.0h-1.0zM351.5 92.7h1.0v1.0h-1.0zM354.6 89.0h1.0v1.0h-1.0zM350.4 82.0h1.0v1.0h-1.0zM345.2 90.4h1.0v1.0h-1.0zM359.9 71.8h1.0v1.0h-1.0zM346.8 82.2h1.0v1.0h-1.0zM355.1 80.6h1.0v1.0h-1.0zM352.3 93.1h1.0v1.0h-1.0zM358.6 73.1h1.0v1.0h-1.0zM355.9 75.0h1.0v1.0h-1.0zM350.7 82.7h1.0v1.0h-1.0zM355.4 76.3h1.0v1.0h-1.0zM355.4 77.7h1.0v1.0h-1.0zM356.2 81.4h1.0v1.0h-1.0zM355.8 81.1h1.0v1.0h-1.0zM356.8 82.2h1.0v1.0h-1.0zM355.0 79.0h1.0v1.0h-1.0zM357.8 73.0h1.0v1.0h-1.0zM364.3 81.7h1.0v1.0h-1.0zM355.2 79.6h1.0v1.0h-1.0zM351.6 83.4h1.0v1.0h-1.0zM353.1 79.1h1.0v1.0h-1.0zM351.1 75.5h1.0v1.0h-1.0zM346.6 89.8h1.0v1.0h-1.0zM351.5 74.7h1.0v1.0h-1.0zM351.9 89.5h1.0v1.0h-1.0zM351.2 71.8h1.0v1.0h-1.0zM353.8 83.8h1.0v1.0h-1.0zM352.6 70.9h1.0v1.0h-1.0zM349.3 84.6h1.0v1.0h-1.0zM352.4 85.7h1.0v1.0h-1.0zM353.7 81.6h1.0v1.0h-1.0zM356.3 82.0h1.0v1.0h-1.0zM356.5 77.5h1.0v1.0h-1.0zM351.1 83.6h1.0v1.0h-1.0zM354.6 77.7h1.0v1.0h-1.0zM355.2 85.5h1.0v1.0h-1.0zM355.4 77.9h1.0v1.0h-1.0zM352.3 95.9h1.0v1.0h-1.0zM354.1 72.9h1.0v1.0h-1.0zM353.1 76.1h1.0v1.0h-1.0zM351.9 74.2h1.0v1.0h-1.0zM355.2 87.3h1.0v1.0h-1.0zM357.6 87.5h1.0v1.0h-1.0zM350.3 86.9h1.0v1.0h-1.0zM352.6 79.3h1.0v1.0h-1.0zM347.7 86.7h1.0v1.0h-1.0zM358.3 80.7h1.0v1.0h-1.0zM352.8 81.6h1.0v1.0h-1.0zM353.1 86.4h1.0v1.0h-1.0zM353.4 84.0h1.0v1.0h-1.0zM349.5 78.4h1.0v1.0h-1.0zM344.5 88.8h1.0v1.0h-1.0zM357.3 87.2h1.0v1.0h-1.0zM353.9 93.5h1.0v1.0h-1.0zM360.1 74.7h1.0v1.0h-1.0zM357.7 69.4h1.0v1.0h-1.0zM353.5 74.4h1.0v1.0h-1.0zM353.2 83.8h1.0v1.0h-1.0zM351.3 79.2h1.0v1.0h-1.0zM355.2 81.3h1.0v1.0h-1.0zM357.9 69.1h1.0v1.0h-1.0zM351.0 85.3h1.0v1.0h-1.0zM357.6 74.4h1.0v1.0h-1.0zM352.5 82.8h1.0v1.0h-1.0zM349.4 84.1h1.0v1.0h-1.0zM351.9 79.1h1.0v1.0h-1.0zM349.4 93.1h1.0v1.0h-1.0zM353.9 78.4h1.0v1.0h-1.0zM357.3 80.2h1.0v1.0h-1.0zM358.8 70.4h1.0v1.0h-1.0zM355.0 82.0h1.0v1.0h-1.0zM347.0 87.2h1.0v1.0h-1.0zM353.5 80.5h1.0v1.0h-1.0zM352.6 71.7h1.0v1.0h-1.0zM354.9 73.2h1.0v1.0h-1.0zM354.0 86.9h1.0v1.0h-1.0zM354.8 72.7h1.0v1.0h-1.0zM354.6 75.8h1.0v1.0h-1.0zM354.2 82.9h1.0v1.0h-1.0zM352.4 81.6h1.0v1.0h-1.0zM354.3 91.8h1.0v1.0h-1.0zM350.8 84.8h1.0v1.0h-1.0zM355.1 76.0h1.0v1.0h-1.0zM357.5 85.4h1.0v1.0h-1.0zM353.7 83.7h1.0v1.0h-1.0zM355.4 76.1h1.0v1.0h-1.0zM358.3 88.6h1.0v1.0h-1.0zM353.0 87.1h1.0v1.0h-1.0zM358.7 82.3h1.0v1.0h-1.0zM356.5 80.8h1.0v1.0h-1.0zM356.6 81.2h1.0v1.0h-1.0zM362.8 82.9h1.0v1.0h-1.0zM354.8 84.8h1.0v1.0h-1.0zM351.0 86.2h1.0v1.0h-1.0zM354.4 79.5h1.0v1.0h-1.0zM355.4 77.9h1.0v1.0h-1.0zM356.8 86.4h1.0v1.0h-1.0zM359.8 76.0h1.0v1.0h-1.0zM356.3 78.1h1.0v1.0h-1.0zM351.8 88.4h1.0v1.0h-1.0zM355.1 81.1h1.0v1.0h-1.0zM355.8 88.3h1.0v1.0h-1.0zM363.7 74.4h1.0v1.0h-1.0zM355.8 80.0h1.0v1.0h-1.0zM350.8 81.3h1.0v1.0h-1.0zM354.2 68.8h1.0v1.0h-1.0zM351.4 79.3h1.0v1.0h-1.0zM361.6 80.3h1.0v1.0h-1.0zM353.7 70.1h1.0v1.0h-1.0zM353.2 80.1h1.0v1.0h-1.0zM357.2 74.4h1.0v1.0h-1.0zM355.6 69.1h1.0v1.0h-1.0zM357.5 73.8h1.0v1.0h-1.0zM342.5 84.4h1.0v1.0h-1.0zM355.0 84.2h1.0v1.0h-1.0zM357.1 76.8h1.0v1.0h-1.0zM359.5 77.6h1.0v1.0h-1.0zM360.0 85.3h1.0v1.0h-1.0zM346.1 84.0h1.0v1.0h-1.0zM361.1 82.9h1.0v1.0h-1.0zM357.9 82.0h1.0v1.0h-1.0zM356.7 67.6h1.0v1.0h-1.0zM359.0 81.0h1.0v1.0h-1.0zM357.4 76.4h1.0v1.0h-1.0zM348.8 86.4h1.0v1.0h-1.0zM353.4 79.2h1.0v1.0h-1.0zM349.3 81.3h1.0v1.0h-1.0zM357.4 80.3h1.0v1.0h-1.0zM355.6 75.2h1.0v1.0h-1.0zM359.9 80.3h1.0v1.0h-1.0zM350.2 90.3h1.0v1.0h-1.0zM356.1 73.4h1.0v1.0h-1.0zM351.5 78.8h1.0v1.0h-1.0zM359.6 85.1h1.0v1.0h-1.0zM351.6 85.8h1.0v1.0h-1.0zM359.8 79.5h1.0v1.0h-1.0zM357.2 88.0h1.0v1.0h-1.0zM359.9 70.1h1.0v1.0h-1.0zM352.0 89.3h1.0v1.0h-1.0zM348.7 93.5h1.0v1.0h-1.0zM356.1 76.6h1.0v1.0h-1.0zM355.4 84.1h1.0v1.0h-1.0zM357.2 81.7h1.0v1.0h-1.0zM359.4 80.5h1.0v1.0h-1.0zM356.8 75.5h1.0v1.0h-1.0zM350.8 81.9h1.0v1.0h-1.0zM352.6 78.7h1.0v1.0h-1.0zM352.8 82.9h1.0v1.0h-1.0zM355.1 86.8h1.0v1.0h-1.0zM357.1 84.2h1.0v1.0h-1.0zM355.1 72.9h1.0v1.0h-1.0zM354.3 77.3h1.0v1.0h-1.0zM344.6 88.2h1.0v1.0h-1.0zM347.0 81.4h1.0v1.0h-1.0zM356.3 81.3h1.0v1.0h-1.0zM362.8 85.2h1.0v1.0h-1.0zM348.0 90.1h1.0v1.0h-1.0zM354.0 73.4h1.0v1.0h-1.0zM351.7 77.2h1.0v1.0h-1.0zM353.5 83.7h1.0v1.0h-1.0zM348.1 81.8h1.0v1.0h-1.0zM363.0 80.9h1.0v1.0h-1.0zM352.2 85.3h1.0v1.0h-1.0zM359.4 79.9h1.0v1.0h-1.0zM352.6 75.4h1.0v1.0h-1.0zM356.0 87.9h1.0v1.0h-1.0zM350.6 67.9h1.0v1.0h-1.0zM352.6 72.4h1.0v1.0h-1.0z" fill="#000" fill-opacity="1.0"/>
<path d="M380.0 138.2h1.0v1.0h-1.0zM386.5 130.5h1.0v1.0h-1.0zM385.6 118.0h1.0v1.0h-1.0zM383.1 107.5h1.0v1.0h-1.0zM384.9 112.0h1.0v1.0h-1.0zM382.0 94.7h1.0v1.0h-1.0zM381.4 117.0h1.0v1.0h-1.0zM380.7 114.1h1.0v1.0h-1.0zM382.0 98.6h1.0v1.0h-1.0zM379.1 101.9h1.0v1.0h-1.0zM381.5 107.3h1.0v1.0h-1.0zM386.9 98.0h1.0v1.0h-1.0zM374.6 118.0h1.0v1.0h-1.0zM380.8 108.9h1.0v1.0h-1.0zM392.5 126.8h1.0v1.0h-1.0zM384.9 121.0h1.0v1.0h-1.0zM383.1 121.1h1.0v1.0h-1.0zM380.2 102.3h1.0v1.0h-1.0zM380.8 128.1h1.0v1.0h-1.0zM388.7 103.5h1.0v1.0h-1.0zM387.1 108.5h1.0v1.0h-1.0zM386.8 106.7h1.0v1.0h-1.0zM386.3 109.1h1.0v1.0h-1.0zM381.5 110.1h1.0v1.0h-1.0zM383.2 103.8h1.0v1.0h-1.0zM377.3 129.5h1.0v1.0h-1.0zM381.1 89.9h1.0v1.0h-1.0zM373.8 78.7h1.0v1.0h-1.0zM380.2 125.7h1.0v1.0h-1.0zM376.3 106.8h1.0v1.0h-1.0zM375.5 122.9h1.0v1.0h-1.0zM384.1 114.0h1.0v1.0h-1.0zM387.9 129.0h1.0v1.0h-1.0zM386.7 103.9h1.0v1.0h-1.0zM377.5 98.6h1.0v1.0h-1.0zM375.8 130.8h1.0v1.0h-1.0zM381.9 111.9h1.0v1.0h-1.0zM383.4 133.3h1.0v1.0h-1.0zM380.5 123.8h1.0v1.0h-1.0zM383.8 108.7h1.0v1.0h-1.0zM375.2 120.8h1.0v1.0h-1.0zM379.7 105.3h1.0v1.0h-1.0zM383.5 111.5h1.0v1.0h-1.0zM387.1 102.9h1.0v1.0h-1.0zM383.3 113.6h1.0v1.0h-1.0zM382.8 118.2h1.0v1.0h-1.0zM381.7 124.1h1.0v1.0h-1.0zM379.9 94.2h1.0v1.0h-1.0zM382.5 123.8h1.0v1.0h-1.0zM380.6 103.4h1.0v1.0h-1.0zM381.3 112.3h1.0v1.0h-1.0zM382.0 114.0h1.0v1.0h-1.0zM375.9 127.4h1.0v1.0h-1.0zM384.9 100.7h1.0v1.0h-1.0zM388.0 115.6h1.0v1.0h-1.0zM388.4 97.2h1.0v1.0h-1.0zM389.2 111.0h1.0v1.0h-1.0zM374.6 119.0h1.0v1.0h-1.0zM381.5 99.0h1.0v1.0h-1.0zM381.8 88.5h1.0v1.0h-1.0zM384.9 108.0h1.0v1.0h-1.0zM381.6 126.5h1.0v1.0h-1.0zM382.8 103.0h1.0v1.0h-1.0zM378.9 109.8h1.0v1.0h-1.0zM386.8 103.9h1.0v1.0h-1.0zM378.6 120.9h1.0v1.0h-1.0zM382.9 110.2h1.0v1.0h-1.0zM390.8 96.7h1.0v1.0h-1.0zM383.4 90.4h1.0v1.0h-1.0zM381.5 117.1h1.0v1.0h-1.0zM387.1 96.1h1.0v1.0h-1.0zM385.9 119.3h1.0v1.0h-1.0zM382.2 138.3h1.0v1.0h-1.0zM382.7 100.5h1.0v1.0h-1.0zM384.3 89.4h1.0v1.0h-1.0zM388.8 121.7h1.0v1.0h-1.0zM381.1 117.4h1.0v1.0h-1.0zM384.8 132.4h1.0v1.0h-1.0zM380.3 95.8h1.0v1.0h-1.0zM374.7 107.1h1.0v1.0h-1.0zM376.5 108.5h1.0v1.0h-1.0zM384.3 105.5h1.0v1.0h-1.0zM379.0 124.0h1.0v1.0h-1.0zM381.9 113.1h1.0v1.0h-1.0zM386.4 95.7h1.0v1.0h-1.0zM379.0 138.7h1.0v1.0h-1.0zM382.0 98.6h1.0v1.0h-1.0zM381.7 104.0h1.0v1.0h-1.0zM377.8 105.8h1.0v1.0h-1.0zM382.6 110.3h1.0v1.0h-1.0zM384.8 90.8h1.0v1.0h-1.0zM376.8 119.4h1.0v1.0h-1.0zM380.9 124.2h1.0v1.0h-1.0zM383.8 94.5h1.0v1.0h-1.0zM384.8 99.0h1.0v1.0h-1.0zM383.7 124.4h1.0v1.0h-1.0zM390.9 109.7h1.0v1.0h-1.0zM385.4 113.9h1.0v1.0h-1.0zM385.7 81.6h1.0v1.0h-1.0zM381.1 113.7h1.0v1.0h-1.0zM384.5 101.9h1.0v1.0h-1.0zM385.9 122.9h1.0v1.0h-1.0zM382.9 107.9h1.0v1.0h-1.0zM381.3 112.0h1.0v1.0h-1.0zM387.3 127.4h1.0v1.0h-1.0zM380.8 99.9h1.0v1.0h-1.0zM379.6 121.6h1.0v1.0h-1.0zM383.5 113.8h1.0v1.0h-1.0zM384.5 114.7h1.0v1.0h-1.0zM382.2 98.7h1.0v1.0h-1.0zM380.2 111.8h1.0v1.0h-1.0zM384.2 106.3h1.0v1.0h-1.0zM381.0 125.9h1.0v1.0h-1.0zM380.8 113.0h1.0v1.0h-1.0zM381.4 100.8h1.0v1.0h-1.0zM376.7 104.4h1.0v1.0h-1.0zM379.5 120.0h1.0v1.0h-1.0zM378.2 105.8h1.0v1.0h-1.0zM385.2 109.2h1.0v1.0h-1.0zM384.6 119.9h1.0v1.0h-1.0zM376.2 105.8h1.0v1.0h-1.0zM378.9 125.6h1.0v1.0h-1.0zM382.2 116.0h1.0v1.0h-1.0zM389.3 106.5h1.0v1.0h-1.0zM382.9 115.0h1.0v1.0h-1.0zM381.6 124.6h1.0v1.0h-1.0zM385.8 121.7h1.0v1.0h-1.0zM382.8 106.6h1.0v1.0h-1.0zM381.3 106.4h1.0v1.0h-1.0zM376.3 114.5h1.0v1.0h-1.0zM385.8 110.3h1.0v1.0h-1.0zM380.7 110.9h1.0v1.0h-1.0zM383.5 114.1h1.0v1.0h-1.0zM389.6 100.9h1.0v1.0h-1.0zM384.1 118.2h1.0v1.0h-1.0zM383.0 107.8h1.0v1.0h-1.0zM378.7 103.8h1.0v1.0h-1.0zM385.4 126.7h1.0v1.0h-1.0zM380.1 115.7h1.0v1.0h-1.0zM384.7 121.7h1.0v1.0h-1.0zM383.6 115.4h1.0v1.0h-1.0zM386.1 97.4h1.0v1.0h-1.0zM382.8 90.7h1.0v1.0h-1.0zM375.1 101.2h1.0v1.0h-1.0zM376.7 116.1h1.0v1.0h-1.0zM386.5 107.0h1.0v1.0h-1.0zM382.1 107.8h1.0v1.0h-1.0zM381.6 111.9h1.0v1.0h-1.0zM384.0 105.3h1.0v1.0h-1.0zM379.6 104.6h1.0v1.0h-1.0zM385.7 105.7h1.0v1.0h-1.0zM388.2 107.7h1.0v1.0h-1.0zM387.9 97.1h1.0v1.0h-1.0zM380.0 115.7h1.0v1.0h-1.0zM384.5 108.7h1.0v1.0h-1.0zM390.5 111.2h1.0v1.0h-1.0zM383.7 104.1h1.0v1.0h-1.0zM389.0 119.9h1.0v1.0h-1.0zM384.2 92.2h1.0v1.0h-1.0zM384.0 105.2h1.0v1.0h-1.0zM384.1 120.5h1.0v1.0h-1.0zM379.8 112.8h1.0v1.0h-1.0zM386.0 112.2h1.0v1.0h-1.0zM381.4 98.7h1.0v1.0h-1.0zM380.1 96.3h1.0v1.0h-1.0zM386.4 111.5h1.0v1.0h-1.0zM378.0 110.3h1.0v1.0h-1.0zM377.7 74.0h1.0v1.0h-1.0zM387.2 123.3h1.0v1.0h-1.0zM377.0 102.4h1.0v1.0h-1.0zM383.4 106.1h1.0v1.0h-1.0zM379.4 104.7h1.0v1.0h-1.0zM381.7 104.2h1.0v1.0h-1.0zM383.4 107.8h1.0v1.0h-1.0zM379.7 110.6h1.0v1.0h-1.0zM376.3 126.3h1.0v1.0h-1.0zM376.0 109.4h1.0v1.0h-1.0zM383.9 114.9h1.0v1.0h-1.0zM383.6 124.3h1.0v1.0h-1.0zM378.3 109.6h1.0v1.0h-1.0zM383.2 104.9h1.0v1.0h-1.0zM380.3 124.5h1.0v1.0h-1.0zM379.9 105.0h1.0v1.0h-1.0zM381.6 108.0h1.0v1.0h-1.0zM383.2 108.0h1.0v1.0h-1.0zM384.0 111.8h1.0v1.0h-1.0zM384.4 125.4h1.0v1.0h-1.0zM379.4 128.4h1.0v1.0h-1.0zM380.9 117.6h1.0v1.0h-1.0zM383.2 107.0h1.0v1.0h-1.0zM375.1 128.0h1.0v1.0h-1.0zM379.7 101.6h1.0v1.0h-1.0zM386.6 111.1h1.0v1.0h-1.0zM389.8 128.7h1.0v1.0h-1.0zM385.3 113.0h1.0v1.0h-1.0zM385.5 95.8h1.0v1.0h-1.0zM383.2 111.9h1.0v1.0h-1.0zM380.8 113.0h1.0v1.0h-1.0zM377.1 120.1h1.0v1.0h-1.0zM387.5 96.1h1.0v1.0h-1.0zM384.6 79.3h1.0v1.0h-1.0zM385.5 57.5h1.0v1.0h-1.0zM380.7 73.4h1.0v1.0h-1.0zM390.3 57.0h1.0v1.0h-1.0zM384.2 59.6h1.0v1.0h-1.0zM383.1 68.8h1.0v1.0h-1.0zM383.9 60.4h1.0v1.0h-1.0zM391.2 64.8h1.0v1.0h-1.0zM383.5 75.5h1.0v1.0h-1.0zM384.1 64.5h1.0v1.0h-1.0zM387.3 57.4h1.0v1.0h-1.0zM386.6 74.9h1.0v1.0h-1.0zM386.3 64.7h1.0v1.0h-1.0zM384.0 51.7h1.0v1.0h-1.0zM383.6 68.6h1.0v1.0h-1.0zM387.0 67.4h1.0v1.0h-1.0zM382.8 59.1h1.0v1.0h-1.0zM383.9 67.3h1.0v1.0h-1.0zM388.1 66.2h1.0v1.0h-1.0zM382.4 65.3h1.0v1.0h-1.0zM382.4 64.2h1.0v1.0h-1.0zM376.6 52.8h1.0v1.0h-1.0zM380.0 70.1h1.0v1.0h-1.0zM383.8 67.4h1.0v1.0h-1.0zM388.0 57.4h1.0v1.0h-1.0zM387.9 69.4h1.0v1.0h-1.0zM381.7 78.7h1.0v1.0h-1.0zM379.3 56.7h1.0v1.0h-1.0zM383.4 69.6h1.0v1.0h-1.0zM383.4 48.2h1.0v1.0h-1.0zM383.1 65.4h1.0v1.0h-1.0zM392.6 77.7h1.0v1.0h-1.0zM384.5 57.0h1.0v1.0h-1.0zM385.2 56.3h1.0v1.0h-1.0zM384.7 69.2h1.0v1.0h-1.0zM382.7 68.2h1.0v1.0h-1.0zM382.9 61.3h1.0v1.0h-1.0zM389.2 71.0h1.0v1.0h-1.0zM383.0 59.7h1.0v1.0h-1.0zM384.7 70.9h1.0v1.0h-1.0zM386.9 78.5h1.0v1.0h-1.0zM385.6 56.7h1.0v1.0h-1.0zM390.9 75.9h1.0v1.0h-1.0zM386.8 77.3h1.0v1.0h-1.0zM379.1 63.0h1.0v1.0h-1.0zM382.3 76.1h1.0v1.0h-1.0zM380.1 63.4h1.0v1.0h-1.0zM389.1 71.6h1.0v1.0h-1.0zM382.8 81.9h1.0v1.0h-1.0zM379.6 69.9h1.0v1.0h-1.0zM383.3 70.4h1.0v1.0h-1.0zM383.1 59.1h1.0v1.0h-1.0zM384.8 55.1h1.0v1.0h-1.0zM385.8 63.4h1.0v1.0h-1.0zM387.1 62.4h1.0v1.0h-1.0zM381.8 69.5h1.0v1.0h-1.0zM388.2 48.7h1.0v1.0h-1.0zM384.4 71.4h1.0v1.0h-1.0zM379.3 58.7h1.0v1.0h-1.0zM386.2 59.2h1.0v1.0h-1.0zM381.9 80.5h1.0v1.0h-1.0zM380.9 58.9h1.0v1.0h-1.0zM376.3 56.9h1.0v1.0h-1.0zM379.9 80.5h1.0v1.0h-1.0zM388.1 55.5h1.0v1.0h-1.0zM390.6 72.5h1.0v1.0h-1.0zM383.4 72.9h1.0v1.0h-1.0zM385.3 59.7h1.0v1.0h-1.0zM378.1 58.5h1.0v1.0h-1.0zM384.0 63.1h1.0v1.0h-1.0zM381.6 74.2h1.0v1.0h-1.0zM380.5 73.5h1.0v1.0h-1.0zM382.4 67.0h1.0v1.0h-1.0zM380.3 66.0h1.0v1.0h-1.0zM381.4 51.4h1.0v1.0h-1.0zM384.0 65.6h1.0v1.0h-1.0zM386.8 68.4h1.0v1.0h-1.0zM380.6 60.9h1.0v1.0h-1.0zM375.7 56.7h1.0v1.0h-1.0zM388.4 78.8h1.0v1.0h-1.0zM386.6 68.6h1.0v1.0h-1.0zM386.0 70.1h1.0v1.0h-1.0zM378.2 58.7h1.0v1.0h-1.0zM388.0 75.9h1.0v1.0h-1.0zM384.8 63.5h1.0v1.0h-1.0zM382.7 61.5h1.0v1.0h-1.0zM380.9 49.9h1.0v1.0h-1.0zM384.5 62.3h1.0v1.0h-1.0zM383.3 80.4h1.0v1.0h-1.0zM386.0 60.2h1.0v1.0h-1.0zM386.0 53.4h1.0v1.0h-1.0zM387.5 68.3h1.0v1.0h-1.0zM383.4 70.8h1.0v1.0h-1.0zM388.9 62.1h1.0v1.0h-1.0zM380.7 83.8h1.0v1.0h-1.0zM384.1 78.6h1.0v1.0h-1.0zM381.7 69.2h1.0v1.0h-1.0zM381.9 71.4h1.0v1.0h-1.0zM383.1 60.4h1.0v1.0h-1.0zM389.2 68.9h1.0v1.0h-1.0zM377.2 64.1h1.0v1.0h-1.0zM380.9 55.8h1.0v1.0h-1.0zM382.0 62.0h1.0v1.0h-1.0zM384.1 59.4h1.0v1.0h-1.0zM377.7 61.5h1.0v1.0h-1.0zM387.0 54.5h1.0v1.0h-1.0zM386.1 69.9h1.0v1.0h-1.0zM382.5 68.6h1.0v1.0h-1.0zM381.5 62.7h1.0v1.0h-1.0zM380.6 69.9h1.0v1.0h-1.0zM388.6 60.3h1.0v1.0h-1.0zM388.0 48.0h1.0v1.0h-1.0zM381.0 57.5h1.0v1.0h-1.0zM389.8 61.0h1.0v1.0h-1.0zM386.6 48.7h1.0v1.0h-1.0zM384.4 70.8h1.0v1.0h-1.0zM383.9 43.0h1.0v1.0h-1.0zM384.6 72.9h1.0v1.0h-1.0zM388.5 69.4h1.0v1.0h-1.0zM378.3 64.2h1.0v1.0h-1.0zM387.1 59.1h1.0v1.0h-1.0zM385.9 62.0h1.0v1.0h-1.0zM384.3 72.4h1.0v1.0h-1.0zM381.6 90.3h1.0v1.0h-1.0zM384.5 68.9h1.0v1.0h-1.0zM381.5 66.5h1.0v1.0h-1.0zM383.1 53.6h1.0v1.0h-1.0zM378.8 68.4h1.0v1.0h-1.0zM383.7 43.7h1.0v1.0h-1.0zM376.7 63.4h1.0v1.0h-1.0zM383.8 71.2h1.0v1.0h-1.0zM379.8 71.0h1.0v1.0h-1.0zM383.0 61.7h1.0v1.0h-1.0zM383.5 74.4h1.0v1.0h-1.0zM385.9 73.6h1.0v1.0h-1.0zM381.7 63.6h1.0v1.0h-1.0zM380.0 61.3h1.0v1.0h-1.0zM382.7 62.0h1.0v1.0h-1.0zM386.4 69.6h1.0v1.0h-1.0zM386.6 67.1h1.0v1.0h-1.0zM387.6 67.0h1.0v1.0h-1.0zM387.3 70.3h1.0v1.0h-1.0zM386.5 65.4h1.0v1.0h-1.0zM379.8 53.7h1.0v1.0h-1.0zM390.7 69.3h1.0v1.0h-1.0zM385.5 64.6h1.0v1.0h-1.0zM382.4 90.4h1.0v1.0h-1.0zM380.2 65.5h1.0v1.0h-1.0zM383.8 56.4h1.0v1.0h-1.0zM379.7 60.0h1.0v1.0h-1.0zM382.8 61.9h1.0v1.0h-1.0zM386.8 56.0h1.0v1.0h-1.0zM385.4 78.5h1.0v1.0h-1.0zM387.0 56.3h1.0v1.0h-1.0zM374.0 73.2h1.0v1.0h-1.0zM385.7 61.0h1.0v1.0h-1.0zM388.4 62.6h1.0v1.0h-1.0zM384.4 57.2h1.0v1.0h-1.0zM385.1 62.3h1.0v1.0h-1.0zM382.3 75.2h1.0v1.0h-1.0zM384.7 53.3h1.0v1.0h-1.0zM386.4 73.1h1.0v1.0h-1.0zM381.2 62.7h1.0v1.0h-1.0zM384.2 63.9h1.0v1.0h-1.0zM384.4 71.5h1.0v1.0h-1.0zM382.3 83.7h1.0v1.0h-1.0zM381.6 61.4h1.0v1.0h-1.0zM390.7 86.3h1.0v1.0h-1.0zM384.1 64.4h1.0v1.0h-1.0zM380.4 75.7h1.0v1.0h-1.0zM384.6 58.8h1.0v1.0h-1.0zM385.4 77.6h1.0v1.0h-1.0zM386.3 84.8h1.0v1.0h-1.0zM387.9 69.7h1.0v1.0h-1.0zM383.9 70.7h1.0v1.0h-1.0zM388.1 73.3h1.0v1.0h-1.0zM387.6 67.9h1.0v1.0h-1.0zM386.6 76.3h1.0v1.0h-1.0zM383.4 55.0h1.0v1.0h-1.0zM389.9 71.0h1.0v1.0h-1.0zM382.5 68.0h1.0v1.0h-1.0zM383.2 51.5h1.0v1.0h-1.0zM383.4 53.9h1.0v1.0h-1.0zM384.7 65.1h1.0v1.0h-1.0zM387.9 65.0h1.0v1.0h-1.0zM385.3 63.5h1.0v1.0h-1.0zM382.7 54.1h1.0v1.0h-1.0zM387.4 67.5h1.0v1.0h-1.0zM382.0 67.8h1.0v1.0h-1.0zM382.6 59.8h1.0v1.0h-1.0zM384.8 76.3h1.0v1.0h-1.0zM383.1 53.9h1.0v1.0h-1.0zM381.9 81.3h1.0v1.0h-1.0zM381.2 76.1h1.0v1.0h-1.0zM383.2 72.3h1.0v1.0h-1.0zM383.6 52.6h1.0v1.0h-1.0zM382.6 84.0h1.0v1.0h-1.0zM383.6 70.8h1.0v1.0h-1.0zM382.9 64.9h1.0v1.0h-1.0zM385.1 70.0h1.0v1.0h-1.0zM387.0 84.4h1.0v1.0h-1.0zM383.0 82.4h1.0v1.0h-1.0zM382.7 84.0h1.0v1.0h-1.0zM381.8 86.9h1.0v1.0h-1.0zM380.6 85.6h1.0v1.0h-1.0zM380.1 86.9h1.0v1.0h-1.0zM384.2 82.6h1.0v1.0h-1.0zM379.7 82.3h1.0v1.0h-1.0zM385.5 89.4h1.0v1.0h-1.0zM384.5 86.6h1.0v1.0h-1.0zM382.5 90.6h1.0v1.0h-1.0zM380.9 91.3h1.0v1.0h-1.0zM383.1 86.0h1.0v1.0h-1.0zM383.0 87.0h1.0v1.0h-1.0zM385.0 90.4h1.0v1.0h-1.0zM381.7 83.5h1.0v1.0h-1.0zM382.3 90.9h1.0v1.0h-1.0zM382.9 86.0h1.0v1.0h-1.0zM382.5 84.7h1.0v1.0h-1.0zM381.9 87.2h1.0v1.0h-1.0zM379.9 89.1h1.0v1.0h-1.0zM380.1 91.2h1.0v1.0h-1.0zM381.8 91.0h1.0v1.0h-1.0zM382.6 82.4h1.0v1.0h-1.0zM384.8 83.8h1.0v1.0h-1.0zM387.2 85.7h1.0v1.0h-1.0zM386.1 82.7h1.0v1.0h-1.0zM383.7 86.9h1.0v1.0h-1.0zM386.4 87.0h1.0v1.0h-1.0zM382.8 87.8h1.0v1.0h-1.0zM382.1 85.8h1.0v1.0h-1.0zM387.2 84.6h1.0v1.0h-1.0zM381.1 88.5h1.0v1.0h-1.0zM382.3 82.6h1.0v1.0h-1.0zM382.5 82.4h1.0v1.0h-1.0zM385.6 90.2h1.0v1.0h-1.0zM381.9 84.1h1.0v1.0h-1.0zM384.4 83.8h1.0v1.0h-1.0zM382.3 84.7h1.0v1.0h-1.0zM380.8 88.3h1.0v1.0h-1.0zM355.3 85.1h1.0v1.0h-1.0zM361.2 91.9h1.0v1.0h-1.0zM351.5 91.5h1.0v1.0h-1.0zM353.3 71.3h1.0v1.0h-1.0zM351.7 89.6h1.0v1.0h-1.0zM343.9 86.4h1.0v1.0h-1.0zM359.4 80.7h1.0v1.0h-1.0zM355.5 81.1h1.0v1.0h-1.0zM352.2 88.7h1.0v1.0h-1.0zM347.4 88.9h1.0v1.0h-1.0zM355.7 90.8h1.0v1.0h-1.0zM349.4 66.1h1.0v1.0h-1.0zM358.8 79.8h1.0v1.0h-1.0zM352.6 76.1h1.0v1.0h-1.0zM348.3 78.4h1.0v1.0h-1.0zM352.2 76.9h1.0v1.0h-1.0zM359.3 75.2h1.0v1.0h-1.0zM365.1 68.8h1.0v1.0h-1.0zM369.5 77.4h1.0v1.0h-1.0zM354.4 90.4h1.0v1.0h-1.0zM352.0 88.1h1.0v1.0h-1.0zM358.0 70.0h1.0v1.0h-1.0zM352.6 91.6h1.0v1.0h-1.0zM355.7 69.7h1.0v1.0h-1.0zM350.2 84.1h1.0v1.0h-1.0zM352.5 91.3h1.0v1.0h-1.0zM355.3 87.4h1.0v1.0h-1.0zM338.6 95.3h1.0v1.0h-1.0zM351.9 89.1h1.0v1.0h-1.0zM352.7 81.1h1.0v1.0h-1.0zM350.1 94.2h1.0v1.0h-1.0zM359.6 89.9h1.0v1.0h-1.0zM364.5 83.4h1.0v1.0h-1.0zM357.6 80.5h1.0v1.0h-1.0zM360.1 85.4h1.0v1.0h-1.0zM354.1 96.9h1.0v1.0h-1.0zM338.4 94.8h1.0v1.0h-1.0zM356.3 81.1h1.0v1.0h-1.0zM345.6 77.3h1.0v1.0h-1.0zM342.7 79.5h1.0v1.0h-1.0zM348.4 95.7h1.0v1.0h-1.0zM349.6 90.0h1.0v1.0h-1.0zM354.2 99.8h1.0v1.0h-1.0zM350.8 87.9h1.0v1.0h-1.0zM349.6 72.2h1.0v1.0h-1.0zM352.7 82.3h1.0v1.0h-1.0zM349.2 77.8h1.0v1.0h-1.0zM358.5 80.8h1.0v1.0h-1.0zM355.6 76.2h1.0v1.0h-1.0zM356.0 98.2h1.0v1.0h-1.0zM355.3 82.5h1.0v1.0h-1.0zM360.7 89.3h1.0v1.0h-1.0zM354.3 72.0h1.0v1.0h-1.0zM345.4 97.8h1.0v1.0h-1.0zM343.5 102.8h1.0v1.0h-1.0zM354.5 81.4h1.0v1.0h-1.0zM361.0 83.5h1.0v1.0h-1.0zM358.5 76.1h1.0v1.0h-1.0zM349.9 75.4h1.0v1.0h-1.0zM356.8 78.5h1.0v1.0h-1.0zM343.3 83.0h1.0v1.0h-1.0zM353.9 80.7h1.0v1.0h-1.0zM357.0 65.6h1.0v1.0h-1.0zM362.9 82.3h1.0v1.0h-1.0zM352.9 94.0h1.0v1.0h-1.0zM358.9 86.4h1.0v1.0h-1.0zM353.2 85.2h1.0v1.0h-1.0zM356.8 88.8h1.0v1.0h-1.0zM350.7 85.5h1.0v1.0h-1.0zM354.0 88.7h1.0v1.0h-1.0zM351.4 93.3h1.0v1.0h-1.0zM352.6 89.8h1.0v1.0h-1.0zM355.7 78.9h1.0v1.0h-1.0zM349.9 80.2h1.0v1.0h-1.0zM353.2 93.1h1.0v1.0h-1.0zM354.9 79.1h1.0v1.0h-1.0zM348.1 91.4h1.0v1.0h-1.0zM355.8 79.6h1.0v1.0h-1.0zM361.0 74.7h1.0v1.0h-1.0zM354.7 82.9h1.0v1.0h-1.0zM356.4 74.4h1.0v1.0h-1.0zM354.3 96.9h1.0v1.0h-1.0zM347.3 81.5h1.0v1.0h-1.0zM351.2 100.4h1.0v1.0h-1.0zM354.5 75.4h1.0v1.0h-1.0zM348.7 97.5h1.0v1.0h-1.0zM353.6 85.0h1.0v1.0h-1.0zM368.2 70.7h1.0v1.0h-1.0zM341.2 85.8h1.0v1.0h-1.0zM361.4 74.3h1.0v1.0h-1.0zM356.4 84.2h1.0v1.0h-1.0zM357.2 77.6h1.0v1.0h-1.0zM354.1 75.9h1.0v1.0h-1.0zM354.9 81.4h1.0v1.0h-1.0zM360.5 90.5h1.0v1.0h-1.0zM345.3 83.2h1.0v1.0h-1.0zM360.2 87.5h1.0v1.0h-1.0zM359.3 84.7h1.0v1.0h-1.0zM359.9 77.5h1.0v1.0h-1.0zM361.4 74.4h1.0v1.0h-1.0zM364.2 74.3h1.0v1.0h-1.0zM342.4 83.1h1.0v1.0h-1.0zM352.9 83.5h1.0v1.0h-1.0zM356.1 83.6h1.0v1.0h-1.0zM349.2 83.0h1.0v1.0h-1.0zM354.4 87.2h1.0v1.0h-1.0zM365.5 81.2h1.0v1.0h-1.0zM352.9 87.2h1.0v1.0h-1.0zM355.0 73.6h1.0v1.0h-1.0zM348.5 89.7h1.0v1.0h-1.0zM351.1 86.9h1.0v1.0h-1.0zM349.3 84.9h1.0v1.0h-1.0zM353.0 75.7h1.0v1.0h-1.0zM354.4 83.6h1.0v1.0h-1.0zM365.4 73.8h1.0v1.0h-1.0zM352.2 95.5h1.0v1.0h-1.0zM361.6 82.6h1.0v1.0h-1.0zM352.0 78.2h1.0v1.0h-1.0zM355.0 84.9h1.0v1.0h-1.0zM354.1 87.9h1.0v1.0h-1.0zM351.8 73.0h1.0v1.0h-1.0zM351.6 71.1h1.0v1.0h-1.0zM352.7 85.1h1.0v1.0h-1.0zM364.8 91.3h1.0v1.0h-1.0zM350.3 93.3h1.0v1.0h-1.0zM349.6 84.2h1.0v1.0h-1.0zM356.6 90.4h1.0v1.0h-1.0zM356.9 81.2h1.0v1.0h-1.0zM348.4 79.7h1.0v1.0h-1.0zM349.3 86.9h1.0v1.0h-1.0zM351.9 86.8h1.0v1.0h-1.0zM343.7 87.2h1.0v1.0h-1.0zM354.0 70.2h1.0v1.0h-1.0zM349.0 76.0h1.0v1.0h-1.0zM357.5 90.1h1.0v1.0h-1.0zM348.1 81.6h1.0v1.0h-1.0zM357.6 71.5h1.0v1.0h-1.0zM354.6 66.5h1.0v1.0h-1.0zM356.8 62.3h1.0v1.0h-1.0zM352.6 74.8h1.0v1.0h-1.0zM352.3 75.7h1.0v1.0h-1.0zM360.5 82.5h1.0v1.0h-1.0zM353.2 88.9h1.0v1.0h-1.0zM356.5 89.5h1.0v1.0h-1.0zM354.2 74.1h1.0v1.0h-1.0zM351.5 78.2h1.0v1.0h-1.0zM354.2 82.4h1.0v1.0h-1.0zM359.5 84.2h1.0v1.0h-1.0zM359.9 93.6h1.0v1.0h-1.0zM349.4 88.4h1.0v1.0h-1.0zM336.6 87.9h1.0v1.0h-1.0zM354.9 86.6h1.0v1.0h-1.0zM339.3 98.2h1.0v1.0h-1.0zM353.2 81.5h1.0v1.0h-1.0zM359.9 83.6h1.0v1.0h-1.0zM348.2 86.3h1.0v1.0h-1.0zM347.2 86.6h1.0v1.0h-1.0zM351.7 91.4h1.0v1.0h-1.0zM344.9 89.9h1.0v1.0h-1.0zM350.2 97.7h1.0v1.0h-1.0zM346.0 95.2h1.0v1.0h-1.0zM355.3 89.9h1.0v1.0h-1.0zM349.0 85.7h1.0v1.0h-1.0zM359.4 78.2h1.0v1.0h-1.0zM350.5 75.4h1.0v1.0h-1.0zM360.6 86.7h1.0v1.0h-1.0zM357.7 86.7h1.0v1.0h-1.0zM354.0 84.8h1.0v1.0h-1.0zM348.8 91.1h1.0v1.0h-1.0zM354.2 84.9h1.0v1.0h-1.0zM346.5 82.8h1.0v1.0h-1.0zM352.1 78.2h1.0v1.0h-1.0zM361.8 76.9h1.0v1.0h-1.0zM351.4 87.2h1.0v1.0h-1.0zM360.9 81.3h1.0v1.0h-1.0zM354.8 85.6h1.0v1.0h-1.0zM354.2 65.6h1.0v1.0h-1.0zM343.2 83.9h1.0v1.0h-1.0zM358.0 73.5h1.0v1.0h-1.0zM352.0 79.0h1.0v1.0h-1.0zM352.4 82.2h1.0v1.0h-1.0zM366.6 81.2h1.0v1.0h-1.0zM356.7 77.7h1.0v1.0h-1.0zM353.3 75.6h1.0v1.0h-1.0zM354.3 78.6h1.0v1.0h-1.0zM355.1 85.1h1.0v1.0h-1.0zM344.7 95.2h1.0v1.0h-1.0zM347.5 83.5h1.0v1.0h-1.0zM366.3 81.6h1.0v1.0h-1.0zM356.6 95.5h1.0v1.0h-1.0zM360.5 70.3h1.0v1.0h-1.0zM360.6 86.1h1.0v1.0h-1.0zM348.0 91.2h1.0v1.0h-1.0zM347.7 89.4h1.0v1.0h-1.0zM350.0 85.9h1.0v1.0h-1.0zM349.9 78.3h1.0v1.0h-1.0zM351.5 76.3h1.0v1.0h-1.0zM355.3 82.1h1.0v1.0h-1.0zM351.5 92.6h1.0v1.0h-1.0zM358.3 69.4h1.0v1.0h-1.0zM352.4 83.1h1.0v1.0h-1.0zM356.2 92.2h1.0v1.0h-1.0zM359.2 83.0h1.0v1.0h-1.0zM360.9 73.7h1.0v1.0h-1.0zM359.1 88.4h1.0v1.0h-1.0zM357.4 81.2h1.0v1.0h-1.0zM356.0 78.3h1.0v1.0h-1.0zM360.2 74.4h1.0v1.0h-1.0zM357.2 88.6h1.0v1.0h-1.0zM363.8 86.3h1.0v1.0h-1.0zM353.0 84.2h1.0v1.0h-1.0zM354.5 82.3h1.0v1.0h-1.0zM351.6 73.1h1.0v1.0h-1.0zM352.0 79.9h1.0v1.0h-1.0zM351.3 72.6h1.0v1.0h-1.0zM350.7 87.8h1.0v1.0h-1.0zM351.3 87.5h1.0v1.0h-1.0zM356.7 90.2h1.0v1.0h-1.0zM353.0 79.3h1.0v1.0h-1.0zM346.8 74.8h1.0v1.0h-1.0zM359.1 76.0h1.0v1.0h-1.0zM356.7 95.7h1.0v1.0h-1.0zM349.8 89.0h1.0v1.0h-1.0zM349.9 73.0h1.0v1.0h-1.0zM352.2 82.4h1.0v1.0h-1.0zM355.4 76.5h1.0v1.0h-1.0zM362.7 88.5h1.0v1.0h-1.0zM353.6 88.4h1.0v1.0h-1.0zM355.4 81.6h1.0v1.0h-1.0zM355.6 70.2h1.0v1.0h-1.0zM363.6 79.0h1.0v1.0h-1.0zM348.1 74.3h1.0v1.0h-1.0zM341.1 94.6h1.0v1.0h-1.0zM352.1 93.8h1.0v1.0h-1.0zM359.5 89.6h1.0v1.0h-1.0zM358.6 78.8h1.0v1.0h-1.0zM355.2 78.5h1.0v1.0h-1.0zM356.0 78.0h1.0v1.0h-1.0zM358.1 90.7h1.0v1.0h-1.0zM357.9 70.8h1.0v1.0h-1.0zM355.0 90.6h1.0v1.0h-1.0zM357.0 73.8h1.0v1.0h-1.0zM353.3 91.3h1.0v1.0h-1.0zM343.3 83.7h1.0v1.0h-1.0zM345.1 80.4h1.0v1.0h-1.0zM362.1 86.7h1.0v1.0h-1.0zM357.1 81.5h1.0v1.0h-1.0zM347.8 99.9h1.0v1.0h-1.0zM361.2 83.1h1.0v1.0h-1.0zM352.1 82.5h1.0v1.0h-1.0zM364.0 88.3h1.0v1.0h-1.0zM360.3 82.3h1.0v1.0h-1.0zM344.4 90.3h1.0v1.0h-1.0zM355.7 77.2h1.0v1.0h-1.0zM352.4 77.0h1.0v1.0h-1.0zM355.1 70.9h1.0v1.0h-1.0zM358.8 87.8h1.0v1.0h-1.0zM359.6 82.2h1.0v1.0h-1.0zM355.2 84.8h1.0v1.0h-1.0zM357.5 90.9h1.0v1.0h-1.0zM357.4 79.0h1.0v1.0h-1.0zM350.3 75.2h1.0v1.0h-1.0zM352.4 78.0h1.0v1.0h-1.0zM343.8 92.8h1.0v1.0h-1.0zM360.6 69.0h1.0v1.0h-1.0zM352.3 71.5h1.0v1.0h-1.0zM352.4 91.1h1.0v1.0h-1.0zM347.7 85.7h1.0v1.0h-1.0zM349.7 90.8h1.0v1.0h-1.0zM359.7 87.6h1.0v1.0h-1.0zM357.4 84.2h1.0v1.0h-1.0zM355.2 74.0h1.0v1.0h-1.0zM355.7 83.1h1.0v1.0h-1.0zM352.4 81.8h1.0v1.0h-1.0zM355.8 75.3h1.0v1.0h-1.0zM348.5 90.3h1.0v1.0h-1.0zM349.3 92.6h1.0v1.0h-1.0zM352.0 71.3h1.0v1.0h-1.0zM352.6 88.8h1.0v1.0h-1.0zM349.2 86.3h1.0v1.0h-1.0zM355.7 92.3h1.0v1.0h-1.0zM353.6 82.4h1.0v1.0h-1.0zM346.1 80.3h1.0v1.0h-1.0zM351.7 93.6h1.0v1.0h-1.0zM350.1 74.8h1.0v1.0h-1.0zM346.9 87.7h1.0v1.0h-1.0zM344.8 70.9h1.0v1.0h-1.0zM362.1 91.3h1.0v1.0h-1.0zM347.8 80.3h1.0v1.0h-1.0zM356.6 88.4h1.0v1.0h-1.0zM355.0 77.0h1.0v1.0h-1.0zM358.0 84.4h1.0v1.0h-1.0zM356.8 87.2h1.0v1.0h-1.0zM348.0 92.5h1.0v1.0h-1.0zM350.5 85.2h1.0v1.0h-1.0zM351.6 80.3h1.0v1.0h-1.0zM354.5 77.9h1.0v1.0h-1.0zM351.7 92.7h1.0v1.0h-1.0zM359.1 96.4h1.0v1.0h-1.0zM349.4 93.1h1.0v1.0h-1.0zM351.8 100.6h1.0v1.0h-1.0zM346.2 119.6h1.0v1.0h-1.0zM341.5 120.1h1.0v1.0h-1.0zM338.6 112.0h1.0v1.0h-1.0zM340.2 120.6h1.0v1.0h-1.0zM356.1 112.0h1.0v1.0h-1.0zM343.3 110.9h1.0v1.0h-1.0zM357.5 106.4h1.0v1.0h-1.0zM347.2 113.3h1.0v1.0h-1.0zM347.3 128.8h1.0v1.0h-1.0zM354.4 106.8h1.0v1.0h-1.0zM359.4 102.6h1.0v1.0h-1.0zM361.9 95.9h1.0v1.0h-1.0zM339.9 129.2h1.0v1.0h-1.0zM344.6 117.2h1.0v1.0h-1.0zM348.9 107.6h1.0v1.0h-1.0zM348.8 108.1h1.0v1.0h-1.0zM358.2 96.9h1.0v1.0h-1.0zM343.3 132.5h1.0v1.0h-1.0zM356.0 99.1h1.0v1.0h-1.0zM352.5 112.3h1.0v1.0h-1.0zM354.3 93.5h1.0v1.0h-1.0zM360.3 100.6h1.0v1.0h-1.0zM340.3 107.6h1.0v1.0h-1.0zM357.7 96.0h1.0v1.0h-1.0zM353.2 113.8h1.0v1.0h-1.0zM341.5 131.9h1.0v1.0h-1.0zM343.3 121.6h1.0v1.0h-1.0zM356.2 110.2h1.0v1.0h-1.0zM352.6 108.5h1.0v1.0h-1.0zM338.6 125.3h1.0v1.0h-1.0zM349.4 96.1h1.0v1.0h-1.0zM353.0 125.0h1.0v1.0h-1.0zM352.2 100.9h1.0v1.0h-1.0zM359.7 108.9h1.0v1.0h-1.0zM361.0 100.6h1.0v1.0h-1.0zM348.5 112.7h1.0v1.0h-1.0zM354.3 113.1h1.0v1.0h-1.0zM344.8 125.9h1.0v1.0h-1.0zM349.0 111.3h1.0v1.0h-1.0zM351.6 106.5h1.0v1.0h-1.0zM357.4 110.1h1.0v1.0h-1.0zM348.4 96.8h1.0v1.0h-1.0zM349.2 113.0h1.0v1.0h-1.0zM348.6 125.0h1.0v1.0h-1.0zM354.9 112.5h1.0v1.0h-1.0zM345.5 99.4h1.0v1.0h-1.0zM344.3 105.1h1.0v1.0h-1.0zM342.8 124.4h1.0v1.0h-1.0zM353.4 100.1h1.0v1.0h-1.0zM356.4 108.6h1.0v1.0h-1.0zM354.9 100.0h1.0v1.0h-1.0zM364.2 98.0h1.0v1.0h-1.0zM356.6 106.7h1.0v1.0h-1.0zM354.9 115.1h1.0v1.0h-1.0zM347.1 114.1h1.0v1.0h-1.0zM357.7 104.6h1.0v1.0h-1.0zM353.5 111.2h1.0v1.0h-1.0zM349.9 124.1h1.0v1.0h-1.0zM355.2 95.4h1.0v1.0h-1.0zM359.2 94.9h1.0v1.0h-1.0zM353.5 121.3h1.0v1.0h-1.0zM350.6 100.0h1.0v1.0h-1.0zM341.3 114.8h1.0v1.0h-1.0zM353.0 118.0h1.0v1.0h-1.0zM352.5 119.0h1.0v1.0h-1.0zM344.7 133.9h1.0v1.0h-1.0zM348.0 111.7h1.0v1.0h-1.0zM361.2 119.3h1.0v1.0h-1.0zM350.7 108.2h1.0v1.0h-1.0zM350.0 93.1h1.0v1.0h-1.0zM345.8 120.7h1.0v1.0h-1.0zM350.3 125.3h1.0v1.0h-1.0zM348.1 107.4h1.0v1.0h-1.0zM343.4 125.3h1.0v1.0h-1.0zM347.4 132.2h1.0v1.0h-1.0zM344.2 120.5h1.0v1.0h-1.0zM355.6 98.7h1.0v1.0h-1.0zM350.8 112.9h1.0v1.0h-1.0zM349.0 101.4h1.0v1.0h-1.0zM355.4 98.0h1.0v1.0h-1.0zM342.3 125.2h1.0v1.0h-1.0zM351.2 122.4h1.0v1.0h-1.0zM339.6 131.1h1.0v1.0h-1.0zM352.6 102.7h1.0v1.0h-1.0zM342.1 109.9h1.0v1.0h-1.0zM352.9 95.5h1.0v1.0h-1.0zM346.4 110.2h1.0v1.0h-1.0zM354.0 123.2h1.0v1.0h-1.0zM350.1 117.3h1.0v1.0h-1.0zM352.4 111.2h1.0v1.0h-1.0zM336.4 125.2h1.0v1.0h-1.0zM339.4 127.7h1.0v1.0h-1.0zM352.6 105.6h1.0v1.0h-1.0zM346.0 104.2h1.0v1.0h-1.0zM355.8 114.4h1.0v1.0h-1.0zM343.5 122.0h1.0v1.0h-1.0zM348.4 121.3h1.0v1.0h-1.0zM351.7 104.6h1.0v1.0h-1.0zM353.1 104.7h1.0v1.0h-1.0zM353.8 120.1h1.0v1.0h-1.0zM350.6 106.9h1.0v1.0h-1.0zM351.0 120.1h1.0v1.0h-1.0zM358.4 107.1h1.0v1.0h-1.0zM355.1 105.6h1.0v1.0h-1.0zM350.5 113.5h1.0v1.0h-1.0zM348.8 112.8h1.0v1.0h-1.0zM344.5 129.9h1.0v1.0h-1.0zM348.8 115.0h1.0v1.0h-1.0zM351.9 109.4h1.0v1.0h-1.0zM336.4 129.7h1.0v1.0h-1.0zM347.4 127.0h1.0v1.0h-1.0zM350.0 109.1h1.0v1.0h-1.0zM358.5 100.7h1.0v1.0h-1.0zM357.0 97.8h1.0v1.0h-1.0zM362.4 94.8h1.0v1.0h-1.0zM342.9 110.6h1.0v1.0h-1.0zM341.4 124.6h1.0v1.0h-1.0zM353.1 112.9h1.0v1.0h-1.0zM339.1 129.7h1.0v1.0h-1.0zM349.7 117.7h1.0v1.0h-1.0zM353.4 110.6h1.0v1.0h-1.0zM342.3 101.1h1.0v1.0h-1.0zM359.5 93.1h1.0v1.0h-1.0zM355.4 115.3h1.0v1.0h-1.0zM350.9 110.0h1.0v1.0h-1.0zM346.6 102.1h1.0v1.0h-1.0zM351.5 121.2h1.0v1.0h-1.0zM342.0 116.9h1.0v1.0h-1.0zM356.0 97.9h1.0v1.0h-1.0zM351.0 122.4h1.0v1.0h-1.0zM351.5 103.7h1.0v1.0h-1.0zM341.0 122.9h1.0v1.0h-1.0zM355.0 103.2h1.0v1.0h-1.0zM354.7 101.1h1.0v1.0h-1.0zM343.7 126.2h1.0v1.0h-1.0zM340.1 133.0h1.0v1.0h-1.0zM356.7 113.4h1.0v1.0h-1.0zM348.3 117.2h1.0v1.0h-1.0zM346.2 110.6h1.0v1.0h-1.0zM350.5 100.6h1.0v1.0h-1.0zM350.6 115.9h1.0v1.0h-1.0zM348.3 122.4h1.0v1.0h-1.0zM354.4 99.5h1.0v1.0h-1.0zM347.4 106.0h1.0v1.0h-1.0zM352.7 97.7h1.0v1.0h-1.0zM345.4 115.9h1.0v1.0h-1.0zM356.9 100.3h1.0v1.0h-1.0zM356.9 112.0h1.0v1.0h-1.0zM353.2 119.2h1.0v1.0h-1.0zM349.0 131.3h1.0v1.0h-1.0zM355.2 105.9h1.0v1.0h-1.0zM351.8 102.3h1.0v1.0h-1.0zM357.8 98.6h1.0v1.0h-1.0zM342.5 122.0h1.0v1.0h-1.0zM342.5 130.2h1.0v1.0h-1.0zM351.3 100.8h1.0v1.0h-1.0zM347.2 115.0h1.0v1.0h-1.0zM348.2 124.0h1.0v1.0h-1.0zM354.9 134.0h1.0v1.0h-1.0zM353.7 113.9h1.0v1.0h-1.0zM344.9 126.6h1.0v1.0h-1.0zM348.2 135.5h1.0v1.0h-1.0zM353.9 96.7h1.0v1.0h-1.0zM350.8 130.0h1.0v1.0h-1.0zM353.0 118.4h1.0v1.0h-1.0zM361.3 117.9h1.0v1.0h-1.0zM349.3 98.1h1.0v1.0h-1.0zM353.9 100.7h1.0v1.0h-1.0zM355.3 102.4h1.0v1.0h-1.0zM352.0 113.4h1.0v1.0h-1.0zM358.0 106.2h1.0v1.0h-1.0zM349.7 100.1h1.0v1.0h-1.0zM351.3 96.3h1.0v1.0h-1.0zM347.5 132.9h1.0v1.0h-1.0zM355.6 122.5h1.0v1.0h-1.0zM347.1 108.3h1.0v1.0h-1.0zM340.4 118.5h1.0v1.0h-1.0zM360.1 107.1h1.0v1.0h-1.0zM356.8 103.5h1.0v1.0h-1.0zM360.0 101.4h1.0v1.0h-1.0zM349.0 98.7h1.0v1.0h-1.0zM349.0 116.2h1.0v1.0h-1.0zM346.5 128.1h1.0v1.0h-1.0zM349.5 120.3h1.0v1.0h-1.0zM350.2 110.0h1.0v1.0h-1.0zM356.0 91.9h1.0v1.0h-1.0zM351.9 120.2h1.0v1.0h-1.0zM352.5 106.2h1.0v1.0h-1.0zM344.8 119.9h1.0v1.0h-1.0zM349.8 113.8h1.0v1.0h-1.0zM353.1 95.9h1.0v1.0h-1.0zM350.9 113.7h1.0v1.0h-1.0zM345.9 121.0h1.0v1.0h-1.0zM346.1 118.2h1.0v1.0h-1.0zM361.0 106.8h1.0v1.0h-1.0zM354.5 98.9h1.0v1.0h-1.0zM350.8 110.6h1.0v1.0h-1.0zM353.2 125.5h1.0v1.0h-1.0zM351.2 103.7h1.0v1.0h-1.0zM355.0 101.3h1.0v1.0h-1.0zM349.9 112.7h1.0v1.0h-1.0zM344.9 123.0h1.0v1.0h-1.0zM350.3 108.7h1.0v1.0h-1.0zM354.8 99.6h1.0v1.0h-1.0zM343.1 114.3h1.0v1.0h-1.0zM349.7 113.6h1.0v1.0h-1.0zM355.2 105.2h1.0v1.0h-1.0zM357.3 98.7h1.0v1.0h-1.0zM346.2 129.7h1.0v1.0h-1.0zM364.9 104.0h1.0v1.0h-1.0zM347.7 128.1h1.0v1.0h-1.0zM347.0 113.8h1.0v1.0h-1.0zM352.5 105.4h1.0v1.0h-1.0zM346.3 128.2h1.0v1.0h-1.0zM355.1 105.2h1.0v1.0h-1.0zM352.8 99.5h1.0v1.0h-1.0zM360.6 109.3h1.0v1.0h-1.0zM349.3 102.1h1.0v1.0h-1.0zM355.4 108.9h1.0v1.0h-1.0zM353.4 113.8h1.0v1.0h-1.0zM351.0 99.0h1.0v1.0h-1.0zM351.9 117.8h1.0v1.0h-1.0zM349.0 121.7h1.0v1.0h-1.0zM347.6 118.7h1.0v1.0h-1.0zM363.4 109.4h1.0v1.0h-1.0zM352.6 114.3h1.0v1.0h-1.0zM354.7 98.1h1.0v1.0h-1.0zM346.2 122.6h1.0v1.0h-1.0zM342.8 118.9h1.0v1.0h-1.0zM352.6 115.7h1.0v1.0h-1.0zM347.3 122.1h1.0v1.0h-1.0zM345.5 115.1h1.0v1.0h-1.0zM342.9 122.3h1.0v1.0h-1.0zM345.5 116.6h1.0v1.0h-1.0zM351.2 110.4h1.0v1.0h-1.0zM351.3 110.7h1.0v1.0h-1.0zM340.7 129.4h1.0v1.0h-1.0zM354.9 110.8h1.0v1.0h-1.0zM356.4 108.0h1.0v1.0h-1.0zM349.4 120.6h1.0v1.0h-1.0zM338.3 111.7h1.0v1.0h-1.0zM351.4 107.9h1.0v1.0h-1.0zM357.1 95.1h1.0v1.0h-1.0zM353.9 105.0h1.0v1.0h-1.0zM356.4 92.7h1.0v1.0h-1.0zM351.8 107.2h1.0v1.0h-1.0zM340.2 122.1h1.0v1.0h-1.0zM341.2 103.1h1.0v1.0h-1.0zM349.2 123.4h1.0v1.0h-1.0zM340.8 128.9h1.0v1.0h-1.0zM347.7 124.5h1.0v1.0h-1.0zM342.6 124.0h1.0v1.0h-1.0zM349.0 116.1h1.0v1.0h-1.0zM356.2 118.8h1.0v1.0h-1.0zM350.5 99.9h1.0v1.0h-1.0zM355.1 100.4h1.0v1.0h-1.0zM349.4 105.8h1.0v1.0h-1.0zM354.1 106.0h1.0v1.0h-1.0zM348.7 127.8h1.0v1.0h-1.0zM349.2 126.9h1.0v1.0h-1.0zM355.5 101.7h1.0v1.0h-1.0zM347.3 100.7h1.0v1.0h-1.0zM345.2 121.1h1.0v1.0h-1.0zM354.1 117.5h1.0v1.0h-1.0zM352.6 120.3h1.0v1.0h-1.0zM362.1 117.5h1.0v1.0h-1.0zM353.0 106.7h1.0v1.0h-1.0zM345.4 116.4h1.0v1.0h-1.0zM349.8 104.6h1.0v1.0h-1.0zM354.6 103.0h1.0v1.0h-1.0zM360.7 96.2h1.0v1.0h-1.0zM345.0 114.0h1.0v1.0h-1.0zM353.7 116.5h1.0v1.0h-1.0zM358.4 103.7h1.0v1.0h-1.0zM339.2 132.6h1.0v1.0h-1.0zM357.2 104.9h1.0v1.0h-1.0zM340.4 134.9h1.0v1.0h-1.0zM348.1 121.6h1.0v1.0h-1.0zM354.4 97.9h1.0v1.0h-1.0zM349.5 123.6h1.0v1.0h-1.0zM338.2 130.2h1.0v1.0h-1.0zM348.1 128.2h1.0v1.0h-1.0zM345.6 96.2h1.0v1.0h-1.0zM347.7 113.0h1.0v1.0h-1.0zM346.3 106.1h1.0v1.0h-1.0zM363.5 101.5h1.0v1.0h-1.0zM357.7 96.5h1.0v1.0h-1.0zM345.0 124.3h1.0v1.0h-1.0zM341.0 133.6h1.0v1.0h-1.0zM355.8 94.5h1.0v1.0h-1.0zM346.2 119.6h1.0v1.0h-1.0zM361.4 113.2h1.0v1.0h-1.0zM332.3 127.0h1.0v1.0h-1.0zM350.0 111.1h1.0v1.0h-1.0zM343.5 99.4h1.0v1.0h-1.0zM360.9 99.4h1.0v1.0h-1.0zM342.5 129.1h1.0v1.0h-1.0zM360.5 115.1h1.0v1.0h-1.0zM343.0 127.2h1.0v1.0h-1.0zM356.3 110.7h1.0v1.0h-1.0zM355.3 110.8h1.0v1.0h-1.0zM353.4 120.8h1.0v1.0h-1.0zM352.1 109.0h1.0v1.0h-1.0zM331.9 124.1h1.0v1.0h-1.0zM344.3 122.0h1.0v1.0h-1.0zM344.9 110.0h1.0v1.0h-1.0zM353.3 116.0h1.0v1.0h-1.0zM349.6 122.4h1.0v1.0h-1.0zM348.5 125.5h1.0v1.0h-1.0zM356.3 109.3h1.0v1.0h-1.0zM350.7 116.8h1.0v1.0h-1.0zM349.3 109.7h1.0v1.0h-1.0zM357.2 120.3h1.0v1.0h-1.0zM353.6 111.7h1.0v1.0h-1.0zM343.0 129.2h1.0v1.0h-1.0zM337.0 130.7h1.0v1.0h-1.0zM343.9 121.2h1.0v1.0h-1.0zM354.5 100.3h1.0v1.0h-1.0zM345.4 124.8h1.0v1.0h-1.0zM347.4 115.1h1.0v1.0h-1.0zM356.5 94.2h1.0v1.0h-1.0zM341.6 122.0h1.0v1.0h-1.0zM345.9 126.1h1.0v1.0h-1.0zM340.2 118.8h1.0v1.0h-1.0zM347.0 108.8h1.0v1.0h-1.0zM352.0 98.7h1.0v1.0h-1.0zM348.0 134.2h1.0v1.0h-1.0zM353.7 115.1h1.0v1.0h-1.0zM343.7 133.2h1.0v1.0h-1.0zM351.0 95.3h1.0v1.0h-1.0zM348.3 113.7h1.0v1.0h-1.0zM357.0 113.2h1.0v1.0h-1.0zM353.7 124.5h1.0v1.0h-1.0zM343.2 109.7h1.0v1.0h-1.0zM352.7 101.3h1.0v1.0h-1.0zM345.9 125.3h1.0v1.0h-1.0zM348.6 121.6h1.0v1.0h-1.0zM348.2 113.3h1.0v1.0h-1.0zM358.1 101.7h1.0v1.0h-1.0zM348.5 94.2h1.0v1.0h-1.0zM361.6 101.8h1.0v1.0h-1.0zM341.7 127.2h1.0v1.0h-1.0zM348.7 122.6h1.0v1.0h-1.0zM356.3 101.2h1.0v1.0h-1.0zM355.9 110.5h1.0v1.0h-1.0zM353.3 114.4h1.0v1.0h-1.0zM361.1 89.4h1.0v1.0h-1.0zM353.9 117.7h1.0v1.0h-1.0zM353.5 102.0h1.0v1.0h-1.0zM350.0 120.8h1.0v1.0h-1.0zM363.5 101.5h1.0v1.0h-1.0zM344.2 120.0h1.0v1.0h-1.0zM349.0 96.6h1.0v1.0h-1.0zM348.5 111.5h1.0v1.0h-1.0zM362.4 102.5h1.0v1.0h-1.0zM358.8 107.8h1.0v1.0h-1.0zM343.4 134.6h1.0v1.0h-1.0zM350.8 120.7h1.0v1.0h-1.0zM359.0 94.1h1.0v1.0h-1.0zM350.7 128.1h1.0v1.0h-1.0zM342.0 109.5h1.0v1.0h-1.0zM348.4 106.3h1.0v1.0h-1.0zM348.8 121.4h1.0v1.0h-1.0zM349.5 125.7h1.0v1.0h-1.0zM348.7 114.6h1.0v1.0h-1.0zM345.2 125.2h1.0v1.0h-1.0zM349.1 115.1h1.0v1.0h-1.0zM331.1 135.2h1.0v1.0h-1.0zM369.2 103.7h1.0v1.0h-1.0zM359.8 98.3h1.0v1.0h-1.0zM351.4 127.3h1.0v1.0h-1.0zM341.1 130.2h1.0v1.0h-1.0zM351.5 115.5h1.0v1.0h-1.0zM355.4 131.0h1.0v1.0h-1.0zM359.0 113.8h1.0v1.0h-1.0zM348.0 124.5h1.0v1.0h-1.0zM345.8 109.6h1.0v1.0h-1.0zM354.7 107.1h1.0v1.0h-1.0zM354.0 102.2h1.0v1.0h-1.0zM357.9 107.8h1.0v1.0h-1.0zM348.6 97.7h1.0v1.0h-1.0zM355.9 103.1h1.0v1.0h-1.0zM351.0 115.2h1.0v1.0h-1.0zM343.8 131.9h1.0v1.0h-1.0zM351.5 122.7h1.0v1.0h-1.0zM344.8 112.5h1.0v1.0h-1.0zM347.2 104.7h1.0v1.0h-1.0zM353.2 105.5h1.0v1.0h-1.0zM350.4 123.5h1.0v1.0h-1.0zM349.7 112.9h1.0v1.0h-1.0zM341.8 123.5h1.0v1.0h-1.0zM355.9 108.0h1.0v1.0h-1.0zM356.5 101.0h1.0v1.0h-1.0zM346.3 117.5h1.0v1.0h-1.0zM353.8 99.4h1.0v1.0h-1.0zM351.4 109.5h1.0v1.0h-1.0zM356.0 103.2h1.0v1.0h-1.0zM347.2 131.4h1.0v1.0h-1.0zM347.1 111.2h1.0v1.0h-1.0zM341.9 138.6h1.0v1.0h-1.0zM347.7 117.8h1.0v1.0h-1.0zM346.1 132.1h1.0v1.0h-1.0zM358.4 95.4h1.0v1.0h-1.0zM344.8 117.4h1.0v1.0h-1.0zM346.6 123.3h1.0v1.0h-1.0zM357.3 91.9h1.0v1.0h-1.0zM355.5 118.3h1.0v1.0h-1.0zM352.3 107.6h1.0v1.0h-1.0zM365.1 99.2h1.0v1.0h-1.0zM351.4 101.5h1.0v1.0h-1.0zM353.2 117.8h1.0v1.0h-1.0zM352.3 107.0h1.0v1.0h-1.0zM343.3 120.6h1.0v1.0h-1.0zM346.5 126.9h1.0v1.0h-1.0zM356.1 103.6h1.0v1.0h-1.0zM352.5 112.9h1.0v1.0h-1.0zM357.6 100.6h1.0v1.0h-1.0zM349.9 109.1h1.0v1.0h-1.0zM351.7 101.1h1.0v1.0h-1.0zM343.0 132.2h1.0v1.0h-1.0zM342.2 132.9h1.0v1.0h-1.0zM341.0 136.3h1.0v1.0h-1.0zM341.1 135.2h1.0v1.0h-1.0zM343.6 129.4h1.0v1.0h-1.0zM342.2 134.1h1.0v1.0h-1.0zM343.2 131.1h1.0v1.0h-1.0zM342.3 130.7h1.0v1.0h-1.0zM340.1 132.2h1.0v1.0h-1.0zM342.1 135.0h1.0v1.0h-1.0zM342.4 134.2h1.0v1.0h-1.0zM339.9 130.7h1.0v1.0h-1.0zM341.0 135.2h1.0v1.0h-1.0zM339.6 130.1h1.0v1.0h-1.0zM341.7 134.4h1.0v1.0h-1.0zM339.1 132.1h1.0v1.0h-1.0zM339.6 134.8h1.0v1.0h-1.0zM343.0 133.0h1.0v1.0h-1.0zM341.7 132.2h1.0v1.0h-1.0zM342.1 131.5h1.0v1.0h-1.0zM340.4 130.8h1.0v1.0h-1.0zM341.8 131.3h1.0v1.0h-1.0zM343.3 129.3h1.0v1.0h-1.0zM342.8 133.4h1.0v1.0h-1.0zM343.8 132.1h1.0v1.0h-1.0zM339.3 131.1h1.0v1.0h-1.0zM343.7 132.0h1.0v1.0h-1.0zM341.1 131.6h1.0v1.0h-1.0zM341.7 132.2h1.0v1.0h-1.0zM339.2 131.6h1.0v1.0h-1.0zM343.5 134.8h1.0v1.0h-1.0zM341.6 131.7h1.0v1.0h-1.0zM344.1 132.2h1.0v1.0h-1.0zM339.9 132.3h1.0v1.0h-1.0zM343.0 134.9h1.0v1.0h-1.0zM341.0 133.4h1.0v1.0h-1.0zM341.3 134.3h1.0v1.0h-1.0zM342.2 132.9h1.0v1.0h-1.0zM340.2 132.0h1.0v1.0h-1.0zM341.3 126.9h1.0v1.0h-1.0zM343.2 132.5h1.0v1.0h-1.0zM341.5 132.0h1.0v1.0h-1.0zM341.9 132.9h1.0v1.0h-1.0zM339.7 132.7h1.0v1.0h-1.0zM342.0 132.6h1.0v1.0h-1.0zM339.4 132.3h1.0v1.0h-1.0zM339.7 133.1h1.0v1.0h-1.0zM344.0 133.9h1.0v1.0h-1.0zM341.3 131.7h1.0v1.0h-1.0zM340.9 133.1h1.0v1.0h-1.0zM340.7 131.7h1.0v1.0h-1.0zM337.7 131.2h1.0v1.0h-1.0zM340.5 131.7h1.0v1.0h-1.0zM343.8 130.4h1.0v1.0h-1.0zM339.6 133.4h1.0v1.0h-1.0zM340.2 132.3h1.0v1.0h-1.0zM342.1 132.5h1.0v1.0h-1.0zM340.5 133.9h1.0v1.0h-1.0zM344.3 130.9h1.0v1.0h-1.0zM341.4 134.0h1.0v1.0h-1.0zM341.5 131.0h1.0v1.0h-1.0zM341.1 133.8h1.0v1.0h-1.0zM340.2 132.9h1.0v1.0h-1.0zM342.4 131.5h1.0v1.0h-1.0zM342.7 133.5h1.0v1.0h-1.0zM343.5 134.0h1.0v1.0h-1.0zM339.3 133.9h1.0v1.0h-1.0zM342.8 134.0h1.0v1.0h-1.0zM340.4 133.9h1.0v1.0h-1.0zM342.4 130.7h1.0v1.0h-1.0zM343.9 131.3h1.0v1.0h-1.0zM340.1 133.1h1.0v1.0h-1.0zM340.8 133.1h1.0v1.0h-1.0zM341.4 133.0h1.0v1.0h-1.0zM343.2 132.5h1.0v1.0h-1.0zM343.2 133.8h1.0v1.0h-1.0zM340.4 133.8h1.0v1.0h-1.0zM342.8 132.7h1.0v1.0h-1.0zM343.7 135.1h1.0v1.0h-1.0zM343.1 130.2h1.0v1.0h-1.0zM342.5 132.3h1.0v1.0h-1.0zM341.4 133.1h1.0v1.0h-1.0zM341.3 135.0h1.0v1.0h-1.0zM342.3 132.5h1.0v1.0h-1.0zM343.1 133.8h1.0v1.0h-1.0zM343.8 133.5h1.0v1.0h-1.0zM341.8 132.7h1.0v1.0h-1.0zM338.3 130.2h1.0v1.0h-1.0zM343.5 132.0h1.0v1.0h-1.0zM344.8 135.3h1.0v1.0h-1.0z" fill="#000" fill-opacity="0.8"/>
<path d="M358.1 106.7h1.1v1.1h-1.1zM352.5 114.4h1.1v1.1h-1.1zM348.0 117.5h1.1v1.1h-1.1zM350.3 112.9h1.1v1.1h-1.1zM352.8 118.7h1.1v1.1h-1.1zM346.6 108.4h1.1v1.1h-1.1zM346.0 120.9h1.1v1.1h-1.1zM342.2 118.4h1.1v1.1h-1.1zM351.9 116.9h1.1v1.1h-1.1zM342.7 120.4h1.1v1.1h-1.1zM346.3 141.1h1.1v1.1h-1.1zM342.8 137.9h1.1v1.1h-1.1zM359.7 109.5h1.1v1.1h-1.1zM349.0 108.3h1.1v1.1h-1.1zM339.1 128.2h1.1v1.1h-1.1zM338.3 107.8h1.1v1.1h-1.1zM355.8 138.9h1.1v1.1h-1.1zM360.3 120.0h1.1v1.1h-1.1zM341.1 146.2h1.1v1.1h-1.1zM350.4 119.8h1.1v1.1h-1.1zM348.1 127.2h1.1v1.1h-1.1zM346.8 106.7h1.1v1.1h-1.1zM353.9 111.4h1.1v1.1h-1.1zM356.7 111.8h1.1v1.1h-1.1zM357.1 144.4h1.1v1.1h-1.1zM341.0 146.8h1.1v1.1h-1.1zM351.3 131.4h1.1v1.1h-1.1zM339.2 131.0h1.1v1.1h-1.1zM340.0 136.8h1.1v1.1h-1.1zM344.3 123.0h1.1v1.1h-1.1zM350.5 144.2h1.1v1.1h-1.1zM348.3 114.0h1.1v1.1h-1.1zM336.3 143.2h1.1v1.1h-1.1zM348.3 104.9h1.1v1.1h-1.1zM339.6 129.3h1.1v1.1h-1.1zM339.6 130.5h1.1v1.1h-1.1zM358.3 136.6h1.1v1.1h-1.1zM352.5 111.8h1.1v1.1h-1.1zM341.7 118.7h1.1v1.1h-1.1zM355.8 143.6h1.1v1.1h-1.1zM361.5 112.5h1.1v1.1h-1.1zM358.0 116.7h1.1v1.1h-1.1zM339.0 128.8h1.1v1.1h-1.1zM352.8 146.5h1.1v1.1h-1.1zM346.1 118.2h1.1v1.1h-1.1zM346.9 111.4h1.1v1.1h-1.1zM340.0 109.3h1.1v1.1h-1.1zM338.4 146.5h1.1v1.1h-1.1zM361.3 115.0h1.1v1.1h-1.1zM347.3 136.0h1.1v1.1h-1.1zM339.5 107.1h1.1v1.1h-1.1zM347.5 122.4h1.1v1.1h-1.1zM347.3 129.1h1.1v1.1h-1.1zM339.2 135.6h1.1v1.1h-1.1zM355.0 131.3h1.1v1.1h-1.1zM351.9 122.2h1.1v1.1h-1.1zM354.5 111.1h1.1v1.1h-1.1zM357.7 121.8h1.1v1.1h-1.1zM358.7 124.0h1.1v1.1h-1.1zM362.0 117.6h1.1v1.1h-1.1zM354.0 110.2h1.1v1.1h-1.1zM361.5 142.0h1.1v1.1h-1.1zM361.7 112.3h1.1v1.1h-1.1zM340.2 120.2h1.1v1.1h-1.1zM345.5 123.9h1.1v1.1h-1.1zM348.0 111.1h1.1v1.1h-1.1zM347.6 137.6h1.1v1.1h-1.1zM337.6 110.9h1.1v1.1h-1.1zM345.6 139.8h1.1v1.1h-1.1zM356.3 105.1h1.1v1.1h-1.1zM348.8 105.0h1.1v1.1h-1.1zM353.0 126.2h1.1v1.1h-1.1zM353.7 127.0h1.1v1.1h-1.1zM351.9 123.7h1.1v1.1h-1.1zM335.4 143.4h1.1v1.1h-1.1zM345.3 136.3h1.1v1.1h-1.1zM355.2 139.5h1.1v1.1h-1.1zM344.9 137.5h1.1v1.1h-1.1zM361.2 139.3h1.1v1.1h-1.1zM360.9 138.7h1.1v1.1h-1.1zM348.8 142.2h1.1v1.1h-1.1zM361.5 136.6h1.1v1.1h-1.1zM340.6 111.8h1.1v1.1h-1.1zM348.0 126.1h1.1v1.1h-1.1zM360.0 134.2h1.1v1.1h-1.1zM337.4 125.9h1.1v1.1h-1.1zM348.8 125.8h1.1v1.1h-1.1zM346.2 117.8h1.1v1.1h-1.1zM345.5 111.4h1.1v1.1h-1.1zM346.7 142.8h1.1v1.1h-1.1zM351.3 119.7h1.1v1.1h-1.1zM360.0 105.1h1.1v1.1h-1.1zM336.4 119.4h1.1v1.1h-1.1zM338.9 147.0h1.1v1.1h-1.1zM353.5 104.8h1.1v1.1h-1.1zM349.6 146.5h1.1v1.1h-1.1zM354.5 112.1h1.1v1.1h-1.1zM357.8 105.5h1.1v1.1h-1.1zM357.2 146.7h1.1v1.1h-1.1zM343.6 115.2h1.1v1.1h-1.1zM340.8 145.8h1.1v1.1h-1.1zM351.8 115.1h1.1v1.1h-1.1zM336.5 119.2h1.1v1.1h-1.1zM351.0 146.2h1.1v1.1h-1.1zM351.7 115.1h1.1v1.1h-1.1zM348.1 139.3h1.1v1.1h-1.1zM358.0 140.0h1.1v1.1h-1.1zM336.8 121.1h1.1v1.1h-1.1zM335.5 109.2h1.1v1.1h-1.1zM360.2 138.7h1.1v1.1h-1.1zM357.7 110.8h1.1v1.1h-1.1zM336.0 119.9h1.1v1.1h-1.1zM354.4 112.7h1.1v1.1h-1.1zM350.8 142.7h1.1v1.1h-1.1zM338.8 116.0h1.1v1.1h-1.1zM346.2 127.6h1.1v1.1h-1.1zM351.1 132.9h1.1v1.1h-1.1zM351.4 115.3h1.1v1.1h-1.1zM340.4 128.5h1.1v1.1h-1.1zM335.3 134.9h1.1v1.1h-1.1zM359.3 155.8h1.1v1.1h-1.1zM345.6 158.1h1.1v1.1h-1.1zM343.9 149.9h1.1v1.1h-1.1zM354.4 146.7h1.1v1.1h-1.1zM350.0 154.8h1.1v1.1h-1.1zM351.8 150.1h1.1v1.1h-1.1zM344.0 155.4h1.1v1.1h-1.1zM348.4 154.9h1.1v1.1h-1.1zM350.5 154.8h1.1v1.1h-1.1zM341.5 156.6h1.1v1.1h-1.1zM346.0 148.0h1.1v1.1h-1.1zM345.9 148.3h1.1v1.1h-1.1zM345.6 152.8h1.1v1.1h-1.1zM343.6 148.2h1.1v1.1h-1.1zM340.9 152.5h1.1v1.1h-1.1zM349.2 149.5h1.1v1.1h-1.1zM348.3 158.8h1.1v1.1h-1.1zM352.7 156.9h1.1v1.1h-1.1zM346.7 156.3h1.1v1.1h-1.1zM343.8 157.3h1.1v1.1h-1.1zM340.0 149.2h1.1v1.1h-1.1zM347.5 152.9h1.1v1.1h-1.1zM345.5 154.0h1.1v1.1h-1.1zM356.9 146.6h1.1v1.1h-1.1zM358.3 149.2h1.1v1.1h-1.1zM354.8 156.7h1.1v1.1h-1.1zM342.6 149.3h1.1v1.1h-1.1zM340.2 157.8h1.1v1.1h-1.1zM345.9 152.1h1.1v1.1h-1.1zM342.7 152.5h1.1v1.1h-1.1zM354.0 147.6h1.1v1.1h-1.1zM347.6 157.1h1.1v1.1h-1.1zM345.1 151.3h1.1v1.1h-1.1zM347.0 148.9h1.1v1.1h-1.1zM353.2 148.2h1.1v1.1h-1.1zM342.4 148.1h1.1v1.1h-1.1zM349.4 156.1h1.1v1.1h-1.1zM340.6 150.8h1.1v1.1h-1.1zM346.0 153.7h1.1v1.1h-1.1zM343.8 150.5h1.1v1.1h-1.1zM348.6 158.0h1.1v1.1h-1.1zM347.8 152.7h1.1v1.1h-1.1zM352.9 152.0h1.1v1.1h-1.1zM350.4 158.3h1.1v1.1h-1.1zM344.1 156.6h1.1v1.1h-1.1zM340.6 158.7h1.1v1.1h-1.1zM343.1 156.0h1.1v1.1h-1.1zM345.0 149.0h1.1v1.1h-1.1zM345.9 152.0h1.1v1.1h-1.1zM343.3 156.3h1.1v1.1h-1.1zM352.3 149.0h1.1v1.1h-1.1zM351.6 151.8h1.1v1.1h-1.1zM345.7 147.7h1.1v1.1h-1.1zM344.6 151.8h1.1v1.1h-1.1zM345.9 153.2h1.1v1.1h-1.1zM346.8 148.3h1.1v1.1h-1.1zM346.9 153.8h1.1v1.1h-1.1zM339.1 147.9h1.1v1.1h-1.1zM344.9 152.4h1.1v1.1h-1.1zM337.9 155.0h1.1v1.1h-1.1zM329.1 140.4h1.1v1.1h-1.1zM318.8 144.6h1.1v1.1h-1.1zM309.4 157.1h1.1v1.1h-1.1zM335.1 126.2h1.1v1.1h-1.1zM318.8 141.8h1.1v1.1h-1.1zM318.1 141.1h1.1v1.1h-1.1zM295.5 158.8h1.1v1.1h-1.1zM321.1 134.9h1.1v1.1h-1.1zM323.3 138.8h1.1v1.1h-1.1zM327.2 139.7h1.1v1.1h-1.1zM322.5 146.0h1.1v1.1h-1.1zM317.2 144.0h1.1v1.1h-1.1zM328.3 132.1h1.1v1.1h-1.1zM337.3 130.1h1.1v1.1h-1.1zM320.6 143.2h1.1v1.1h-1.1zM326.1 139.3h1.1v1.1h-1.1zM331.6 134.0h1.1v1.1h-1.1zM308.6 147.7h1.1v1.1h-1.1zM309.9 152.4h1.1v1.1h-1.1zM327.9 132.8h1.1v1.1h-1.1zM318.2 132.1h1.1v1.1h-1.1zM309.8 150.1h1.1v1.1h-1.1zM324.9 135.0h1.1v1.1h-1.1zM332.6 131.5h1.1v1.1h-1.1zM322.0 138.2h1.1v1.1h-1.1zM331.8 140.9h1.1v1.1h-1.1zM326.7 131.8h1.1v1.1h-1.1zM331.3 138.0h1.1v1.1h-1.1zM318.4 155.5h1.1v1.1h-1.1zM314.3 157.2h1.1v1.1h-1.1zM330.1 129.2h1.1v1.1h-1.1zM383.1 67.2h1.1v1.1h-1.1zM372.6 95.3h1.1v1.1h-1.1zM371.9 108.0h1.1v1.1h-1.1zM378.2 68.8h1.1v1.1h-1.1zM382.4 113.3h1.1v1.1h-1.1zM389.0 81.3h1.1v1.1h-1.1zM393.9 76.9h1.1v1.1h-1.1zM369.0 87.0h1.1v1.1h-1.1zM379.8 134.3h1.1v1.1h-1.1zM395.1 130.6h1.1v1.1h-1.1zM373.5 84.1h1.1v1.1h-1.1zM382.0 62.5h1.1v1.1h-1.1zM378.0 67.8h1.1v1.1h-1.1zM389.0 96.2h1.1v1.1h-1.1zM388.2 62.0h1.1v1.1h-1.1zM376.4 115.0h1.1v1.1h-1.1zM371.6 107.9h1.1v1.1h-1.1zM384.7 93.0h1.1v1.1h-1.1zM395.6 72.0h1.1v1.1h-1.1zM376.5 136.4h1.1v1.1h-1.1zM380.0 89.5h1.1v1.1h-1.1zM370.9 79.7h1.1v1.1h-1.1zM393.9 138.8h1.1v1.1h-1.1zM364.0 120.1h1.1v1.1h-1.1zM375.7 103.4h1.1v1.1h-1.1zM349.8 55.5h1.1v1.1h-1.1zM362.6 57.8h1.1v1.1h-1.1zM359.7 61.0h1.1v1.1h-1.1zM364.8 65.4h1.1v1.1h-1.1zM367.4 61.2h1.1v1.1h-1.1zM356.2 55.8h1.1v1.1h-1.1zM363.2 67.1h1.1v1.1h-1.1zM365.6 82.2h1.1v1.1h-1.1zM345.7 88.5h1.1v1.1h-1.1zM357.6 76.3h1.1v1.1h-1.1zM363.8 96.7h1.1v1.1h-1.1zM362.4 57.0h1.1v1.1h-1.1zM360.7 94.6h1.1v1.1h-1.1zM352.9 57.2h1.1v1.1h-1.1zM364.2 82.0h1.1v1.1h-1.1zM353.7 64.2h1.1v1.1h-1.1zM348.2 87.3h1.1v1.1h-1.1zM352.4 88.6h1.1v1.1h-1.1zM363.1 91.6h1.1v1.1h-1.1zM342.2 68.3h1.1v1.1h-1.1z" fill="#000" fill-opacity="0.55"/>
<g stroke="#333" stroke-width="0.9" fill="none">
<ellipse cx="384.9" cy="61.8" rx="11" ry="22"/>
<rect x="373.7" y="91" width="17.8" height="39"/>
<ellipse cx="352.2" cy="79.3" rx="13" ry="18.3"/>
<rect x="334.8" y="104.3" width="26.5" height="43.3"/>
</g>
<path d="M254.4 9.1H403.4" stroke="#444" stroke-width="1.3" fill="none"/>
<path d="M403.4 9.1V160.7" stroke="#777" stroke-width="1.0" fill="none"/>
<path d="M254.4 8.6V160.7H403.4" stroke="#222" stroke-width="1.3" fill="none"/>
<path d="M251.4 160.7H254.4M252.8 149.3H254.4M252.8 142.6H254.4M252.8 137.9H254.4M252.8 134.2H254.4M252.8 131.2H254.4M252.8 128.7H254.4M252.8 126.5H254.4M252.8 124.5H254.4M251.4 122.8H254.4M252.8 111.4H254.4M252.8 104.7H254.4M252.8 100H254.4M252.8 96.3H254.4M252.8 93.3H254.4M252.8 90.8H254.4M252.8 88.6H254.4M252.8 86.6H254.4M251.4 84.9H254.4M252.8 73.5H254.4M252.8 66.8H254.4M252.8 62.1H254.4M252.8 58.4H254.4M252.8 55.4H254.4M252.8 52.9H254.4M252.8 50.7H254.4M252.8 48.7H254.4M251.4 47H254.4M252.8 35.6H254.4M252.8 28.9H254.4M252.8 24.2H254.4M252.8 20.5H254.4M252.8 17.5H254.4M252.8 15H254.4M252.8 12.8H254.4M252.8 10.8H254.4M251.4 9.1H254.4" stroke="#222" stroke-width="1" fill="none"/>
<path d="M254.4 160.7V163.7M265.6 160.7V162.3M272.2 160.7V162.3M276.8 160.7V162.3M280.4 160.7V162.3M283.4 160.7V162.3M285.9 160.7V162.3M288 160.7V162.3M289.9 160.7V162.3M291.6 160.7V163.7M302.9 160.7V162.3M309.4 160.7V162.3M314.1 160.7V162.3M317.7 160.7V162.3M320.6 160.7V162.3M323.1 160.7V162.3M325.3 160.7V162.3M327.2 160.7V162.3M328.9 160.7V163.7M340.1 160.7V162.3M346.7 160.7V162.3M351.3 160.7V162.3M354.9 160.7V162.3M357.9 160.7V162.3M360.4 160.7V162.3M362.5 160.7V162.3M364.4 160.7V162.3M366.1 160.7V163.7M377.4 160.7V162.3M383.9 160.7V162.3M388.6 160.7V162.3M392.2 160.7V162.3M395.1 160.7V162.3M397.6 160.7V162.3M399.8 160.7V162.3M401.7 160.7V162.3M403.4 160.7V163.7" stroke="#222" stroke-width="1" fill="none"/>
<g transform="translate(244.6 177) scale(0.92 1)"><text x="0" y="0" font-size="10">10</text><text x="12.3" y="-5" font-size="6.8">0</text></g>
<g transform="translate(233.9 166.7) scale(0.92 1)"><text x="0" y="0" font-size="10">10</text><text x="12.4" y="-5.1" font-size="6.8">0</text></g>
<g transform="translate(281.8 177) scale(0.92 1)"><text x="0" y="0" font-size="10">10</text><text x="12.3" y="-5" font-size="6.8">1</text></g>
<g transform="translate(233.9 128.8) scale(0.92 1)"><text x="0" y="0" font-size="10">10</text><text x="12.4" y="-5.1" font-size="6.8">1</text></g>
<g transform="translate(319.1 177) scale(0.92 1)"><text x="0" y="0" font-size="10">10</text><text x="12.3" y="-5" font-size="6.8">2</text></g>
<g transform="translate(233.9 90.9) scale(0.92 1)"><text x="0" y="0" font-size="10">10</text><text x="12.4" y="-5.1" font-size="6.8">2</text></g>
<g transform="translate(356.3 177) scale(0.92 1)"><text x="0" y="0" font-size="10">10</text><text x="12.3" y="-5" font-size="6.8">3</text></g>
<g transform="translate(233.9 53) scale(0.92 1)"><text x="0" y="0" font-size="10">10</text><text x="12.4" y="-5.1" font-size="6.8">3</text></g>
<g transform="translate(393.6 177) scale(0.92 1)"><text x="0" y="0" font-size="10">10</text><text x="12.3" y="-5" font-size="6.8">4</text></g>
<g transform="translate(233.9 15.1) scale(0.92 1)"><text x="0" y="0" font-size="10">10</text><text x="12.4" y="-5.1" font-size="6.8">4</text></g>
<text x="0" y="0" font-size="10" text-anchor="middle" transform="translate(225.3 88.1) rotate(-90)">CD34</text>
<text x="327.1" y="195" font-size="10" text-anchor="middle" >CD38</text>
<text x="215.8" y="12.3" font-size="16" text-anchor="start" font-weight="bold">b</text>
<path d="M58.3 218.2H227.9" stroke="#333" stroke-width="1.2" fill="none"/>
<path d="M227.9 218.2V363.1" stroke="#333" stroke-width="1.2" fill="none"/>
<path d="M58.3 217.7V363.1H227.9" stroke="#222" stroke-width="1.3" fill="none"/>
<path d="M55.3 363.1H58.3M55.3 335.5H58.3M55.3 308H58.3M55.3 280.4H58.3M55.3 252.9H58.3M55.3 225.3H58.3M56.7 356.2H58.3M56.7 349.3H58.3M56.7 342.4H58.3M56.7 328.7H58.3M56.7 321.8H58.3M56.7 314.9H58.3M56.7 301.1H58.3M56.7 294.2H58.3M56.7 287.3H58.3M56.7 273.5H58.3M56.7 266.6H58.3M56.7 259.8H58.3M56.7 246H58.3M56.7 239.1H58.3M56.7 232.2H58.3" stroke="#222" stroke-width="1" fill="none"/>
<text x="48.6" y="366.9" text-anchor="end" font-size="9.3">0</text>
<text x="48.6" y="339.4" text-anchor="end" font-size="9.3">20</text>
<text x="48.6" y="311.8" text-anchor="end" font-size="9.3">40</text>
<text x="48.6" y="284.2" text-anchor="end" font-size="9.3">60</text>
<text x="48.6" y="256.7" text-anchor="end" font-size="9.3">80</text>
<text x="48.6" y="229.1" text-anchor="end" font-size="9.3">100</text>
<path d="M58.3 363.1V366.1M71.1 363.1V364.7M78.5 363.1V364.7M83.8 363.1V364.7M87.9 363.1V364.7M91.3 363.1V364.7M94.1 363.1V364.7M96.6 363.1V364.7M98.8 363.1V364.7M100.7 363.1V366.1M113.5 363.1V364.7M120.9 363.1V364.7M126.2 363.1V364.7M130.3 363.1V364.7M133.7 363.1V364.7M136.5 363.1V364.7M139 363.1V364.7M141.2 363.1V364.7M143.1 363.1V366.1M155.9 363.1V364.7M163.3 363.1V364.7M168.6 363.1V364.7M172.7 363.1V364.7M176.1 363.1V364.7M178.9 363.1V364.7M181.4 363.1V364.7M183.6 363.1V364.7M185.5 363.1V366.1M198.3 363.1V364.7M205.7 363.1V364.7M211 363.1V364.7M215.1 363.1V364.7M218.5 363.1V364.7M221.3 363.1V364.7M223.8 363.1V364.7M226 363.1V364.7M227.9 363.1V366.1" stroke="#222" stroke-width="1" fill="none"/>
<text x="51.6" y="379" font-size="9.3">10</text>
<text x="63" y="374.4" font-size="6.5">0</text>
<text x="94" y="379" font-size="9.3">10</text>
<text x="105.4" y="374.4" font-size="6.5">1</text>
<text x="136.4" y="379" font-size="9.3">10</text>
<text x="147.8" y="374.4" font-size="6.5">2</text>
<text x="178.8" y="379" font-size="9.3">10</text>
<text x="190.2" y="374.4" font-size="6.5">3</text>
<text x="221.2" y="379" font-size="9.3">10</text>
<text x="232.6" y="374.4" font-size="6.5">4</text>
<text x="0" y="0" font-size="10" text-anchor="middle" transform="translate(22.6 293.7) rotate(-90)">% Cells</text>
<text x="141" y="395.5" font-size="10" text-anchor="middle" >t-BOC-CMAC</text>
<text x="0" y="221.6" font-size="16" text-anchor="start" font-weight="bold">c</text>
<path d="M271 230.6H387.3" stroke="#333" stroke-width="1.2" fill="none"/>
<path d="M387.3 230.6V349.6" stroke="#333" stroke-width="1.2" fill="none"/>
<path d="M271 230.1V349.6H387.3" stroke="#222" stroke-width="1.3" fill="none"/>
<path d="M268 349.6H271M268 326.9H271M268 304.2H271M268 281.6H271M268 258.9H271M268 236.2H271M269.4 343.9H271M269.4 338.3H271M269.4 332.6H271M269.4 321.2H271M269.4 315.6H271M269.4 309.9H271M269.4 298.6H271M269.4 292.9H271M269.4 287.2H271M269.4 275.9H271M269.4 270.2H271M269.4 264.6H271M269.4 253.2H271M269.4 247.5H271M269.4 241.9H271" stroke="#222" stroke-width="1" fill="none"/>
<text x="263.5" y="353.1" text-anchor="end" font-size="9.3">0</text>
<text x="263.5" y="330.5" text-anchor="end" font-size="9.3">20</text>
<text x="263.5" y="307.8" text-anchor="end" font-size="9.3">40</text>
<text x="263.5" y="285.1" text-anchor="end" font-size="9.3">60</text>
<text x="263.5" y="262.4" text-anchor="end" font-size="9.3">80</text>
<text x="263.5" y="239.7" text-anchor="end" font-size="9.3">100</text>
<path d="M271 349.6V352.6M279.8 349.6V351.2M284.9 349.6V351.2M288.5 349.6V351.2M291.3 349.6V351.2M293.6 349.6V351.2M295.6 349.6V351.2M297.3 349.6V351.2M298.7 349.6V351.2M300.1 349.6V352.6M308.8 349.6V351.2M313.9 349.6V351.2M317.6 349.6V351.2M320.4 349.6V351.2M322.7 349.6V351.2M324.6 349.6V351.2M326.3 349.6V351.2M327.8 349.6V351.2M329.1 349.6V352.6M337.9 349.6V351.2M343 349.6V351.2M346.7 349.6V351.2M349.5 349.6V351.2M351.8 349.6V351.2M353.7 349.6V351.2M355.4 349.6V351.2M356.9 349.6V351.2M358.2 349.6V352.6M367 349.6V351.2M372.1 349.6V351.2M375.7 349.6V351.2M378.5 349.6V351.2M380.8 349.6V351.2M382.8 349.6V351.2M384.5 349.6V351.2M386 349.6V351.2M387.3 349.6V352.6" stroke="#222" stroke-width="1" fill="none"/>
<text x="263.9" y="365.7" font-size="9.3">10</text>
<text x="275.3" y="361.1" font-size="6.5">0</text>
<text x="293" y="365.7" font-size="9.3">10</text>
<text x="304.3" y="361.1" font-size="6.5">1</text>
<text x="322.1" y="365.7" font-size="9.3">10</text>
<text x="333.4" y="361.1" font-size="6.5">2</text>
<text x="351.1" y="365.7" font-size="9.3">10</text>
<text x="362.5" y="361.1" font-size="6.5">3</text>
<text x="380.2" y="365.7" font-size="9.3">10</text>
<text x="391.6" y="361.1" font-size="6.5">4</text>
<text x="330" y="382.5" font-size="10" text-anchor="middle" >P-ERK</text>
<text x="247.3" y="221.2" font-size="16" text-anchor="start" font-weight="bold">d</text>
<path d="M154.6 413.5H269.8" stroke="#333" stroke-width="1.2" fill="none"/>
<path d="M269.8 413.5V532" stroke="#333" stroke-width="1.2" fill="none"/>
<path d="M154.6 413V532H269.8" stroke="#222" stroke-width="1.3" fill="none"/>
<path d="M151.6 532H154.6M151.6 509.3H154.6M151.6 486.7H154.6M151.6 464H154.6M151.6 441.4H154.6M151.6 418.7H154.6M153 526.3H154.6M153 520.7H154.6M153 515H154.6M153 503.7H154.6M153 498H154.6M153 492.3H154.6M153 481H154.6M153 475.4H154.6M153 469.7H154.6M153 458.4H154.6M153 452.7H154.6M153 447H154.6M153 435.7H154.6M153 430H154.6M153 424.4H154.6" stroke="#222" stroke-width="1" fill="none"/>
<text x="147.9" y="535" text-anchor="end" font-size="9.3">0</text>
<text x="147.9" y="512.3" text-anchor="end" font-size="9.3">20</text>
<text x="147.9" y="489.7" text-anchor="end" font-size="9.3">40</text>
<text x="147.9" y="467" text-anchor="end" font-size="9.3">60</text>
<text x="147.9" y="444.3" text-anchor="end" font-size="9.3">80</text>
<text x="147.9" y="421.7" text-anchor="end" font-size="9.3">100</text>
<path d="M154.6 532V535M163.3 532V533.6M168.3 532V533.6M171.9 532V533.6M174.7 532V533.6M177 532V533.6M178.9 532V533.6M180.6 532V533.6M182.1 532V533.6M183.4 532V535M192.1 532V533.6M197.1 532V533.6M200.7 532V533.6M203.5 532V533.6M205.8 532V533.6M207.7 532V533.6M209.4 532V533.6M210.9 532V533.6M212.2 532V535M220.9 532V533.6M225.9 532V533.6M229.5 532V533.6M232.3 532V533.6M234.6 532V533.6M236.5 532V533.6M238.2 532V533.6M239.7 532V533.6M241 532V535M249.7 532V533.6M254.7 532V533.6M258.3 532V533.6M261.1 532V533.6M263.4 532V533.6M265.3 532V533.6M267 532V533.6M268.5 532V533.6M269.8 532V535" stroke="#222" stroke-width="1" fill="none"/>
<text x="146.5" y="545" font-size="9.3">10</text>
<text x="157.9" y="540.4" font-size="6.5">0</text>
<text x="175.3" y="545" font-size="9.3">10</text>
<text x="186.7" y="540.4" font-size="6.5">1</text>
<text x="204.1" y="545" font-size="9.3">10</text>
<text x="215.5" y="540.4" font-size="6.5">2</text>
<text x="232.9" y="545" font-size="9.3">10</text>
<text x="244.3" y="540.4" font-size="6.5">3</text>
<text x="261.7" y="545" font-size="9.3">10</text>
<text x="273.1" y="540.4" font-size="6.5">4</text>
<text x="212.2" y="561.8" font-size="10" text-anchor="middle" >Calpastatin</text>
<text x="115" y="422.2" font-size="16" text-anchor="start" font-weight="bold">e</text>
<path d="M59.7 362.0L60.0 330.0L60.5 358.0L63.0 360.5L66.0 360.5L70.0 359.0L75.0 356.0L80.8 351.0L86.0 349.5L90.0 349.0L94.0 348.5L97.1 341.4L99.7 324.2L101.5 310.0L102.6 303.0L102.8 296.0L104.0 288.5L105.7 274.8L107.4 259.4L108.8 245.7L109.5 236.0L110.2 227.0L111.2 226.8L112.0 233.0L112.5 245.7L113.9 259.4L115.1 271.4L116.3 285.0L116.6 292.0L117.1 307.1L118.8 324.2L121.4 341.4L124.0 349.9L128.3 355.9L134.2 359.3L141.0 361.5L150.0 362.3L227.0 362.6" stroke="#b4b4b4" stroke-width="1.0" fill="none" stroke-linejoin="round" stroke-linecap="round" />
<path d="M59.6 362.0L59.8 322.0L60.2 357.0L60.6 359.0L63.0 361.0L67.0 360.5L71.0 359.3L75.8 353.6L80.0 350.5L84.7 348.5L88.0 347.5L92.0 348.0L96.0 348.5L100.0 349.0L102.6 349.0L106.0 345.5L109.4 339.7L111.1 332.8L112.8 315.7L113.9 303.0L115.1 296.0L116.3 288.5L117.7 276.5L119.0 262.8L120.2 245.7L120.8 235.4L122.0 232.0L122.8 226.8L124.2 226.8L124.9 232.0L125.9 245.7L127.1 259.4L127.9 271.4L129.1 285.0L129.3 290.0L129.5 303.7L130.5 317.4L132.5 332.8L135.1 343.1L138.5 346.5L141.1 345.7L142.0 349.0L143.7 353.4L146.2 357.6L148.8 360.2L155.0 361.8L170.0 362.4L227.0 362.6" stroke="#7c7c7c" stroke-width="1.1" fill="none" stroke-linejoin="round" stroke-linecap="round" />
<path d="M59.8 362.0L60.1 340.0L61.0 358.5L63.4 360.0L66.0 359.0L68.9 356.5L71.8 354.6L74.8 351.6L77.8 349.1L80.8 346.6L84.7 345.8L86.8 344.8L90.2 341.4L92.8 338.0L95.0 331.0L96.2 324.2L98.5 303.7L98.8 296.0L99.7 285.0L100.9 271.4L101.9 259.4L102.6 245.7L103.1 233.7L103.6 227.7L104.5 226.5L105.7 226.8L107.1 228.2L108.3 235.4L109.1 249.1L110.5 262.8L111.7 274.8L113.0 288.5L113.7 307.1L115.1 324.2L117.1 339.7L119.7 349.9L123.1 355.1L128.3 358.5L134.2 360.2L140.0 361.3L150.0 362.0L227.0 362.5" stroke="#262626" stroke-width="1.2" fill="none" stroke-linejoin="round" stroke-linecap="round" />
<path d="M59.6 357.0L61.4 356.5L63.9 356.0L66.4 354.6L68.9 352.6L71.3 350.6L73.3 347.6L74.8 343.7L76.3 337.7L77.3 331.8L78.3 324.9L79.0 317.9L79.6 310.0L80.8 304.0L81.7 296.8L82.1 288.5L83.1 274.8L84.3 262.8L85.7 254.2L86.5 247.4L87.2 237.1L87.7 227.7L88.3 226.5L88.8 229.5L89.4 226.8L90.3 226.5L91.6 228.6L92.3 233.7L93.4 245.7L94.6 259.4L95.8 271.4L97.1 283.4L98.5 296.0L98.9 307.0L99.7 324.0L100.5 330.0L102.4 336.2L106.0 344.8L110.3 349.0L115.4 352.5L120.5 355.9L127.4 358.5L134.2 360.5L145.0 361.8L160.0 362.3L227.0 362.5" stroke="#262626" stroke-width="1.2" fill="none" stroke-linejoin="round" stroke-linecap="round" />
<text x="79.7" y="252.6" font-size="9" text-anchor="start" >1’</text>
<text x="95.8" y="240.5" font-size="9" text-anchor="start" >2’</text>
<text x="111.7" y="240.2" font-size="9" text-anchor="start" >5’</text>
<text x="127.1" y="251.7" font-size="9" text-anchor="start" >10’</text>
<path d="M271.5 349.8L292.2 350.2L296.6 347.3L300.0 340.6L302.2 327.3L303.7 311.9L305.0 292.0L306.2 274.2L307.3 258.8L308.1 253.2L309.5 252.1L310.4 245.5L311.2 236.6L312.1 247.7L313.2 267.6L314.3 289.7L315.4 311.9L316.5 329.6L318.1 342.8L319.9 348.4L323.2 350.2L330.0 350.2" stroke="#d45a68" stroke-width="1.0" fill="none" stroke-linejoin="round" stroke-linecap="round" />
<path d="M272.0 349.0L272.2 233.0L272.8 231.5L273.4 245.0L273.9 251.0L274.4 240.0L274.9 236.4L275.4 238.0L276.0 246.0L276.5 262.0L276.7 285.0L277.7 297.4L278.5 316.0L279.4 328.4L280.4 337.0L282.3 344.5L284.7 348.2L287.8 349.4L320.0 349.6L387.0 349.6" stroke="#8ade8a" stroke-width="1.1" fill="none" stroke-linejoin="round" stroke-linecap="round" />
<path d="M155.3 505.5L157.2 513.4L158.7 505.3L159.8 496.8L161.1 492.6L162.1 486.2L163.2 473.5L164.0 458.6L165.1 457.5L165.7 459.7L166.4 456.5L167.0 441.6L167.9 437.4L168.5 431.0L169.6 420.4L170.4 431.0L171.5 450.1L172.5 473.5L173.4 494.7L174.2 511.7L175.3 522.3L176.8 527.6L178.5 530.4L181.0 531.5L186.0 531.8" stroke="#3a3a3a" stroke-width="1.0" fill="none" stroke-linejoin="round" stroke-linecap="round" />
<path d="M204.4 531.5L205.1 509.6L205.5 476.4L206.0 443.2L206.6 425.5L207.3 420.0L208.4 425.5L210.0 436.5L210.8 454.2L211.7 476.4L213.1 498.5L214.6 511.8L216.2 518.4L217.9 525.0L219.5 529.5L221.7 531.2L226.0 531.8" stroke="#a8a8a8" stroke-width="1.0" fill="none" stroke-linejoin="round" stroke-linecap="round" />
</svg></body></html>
